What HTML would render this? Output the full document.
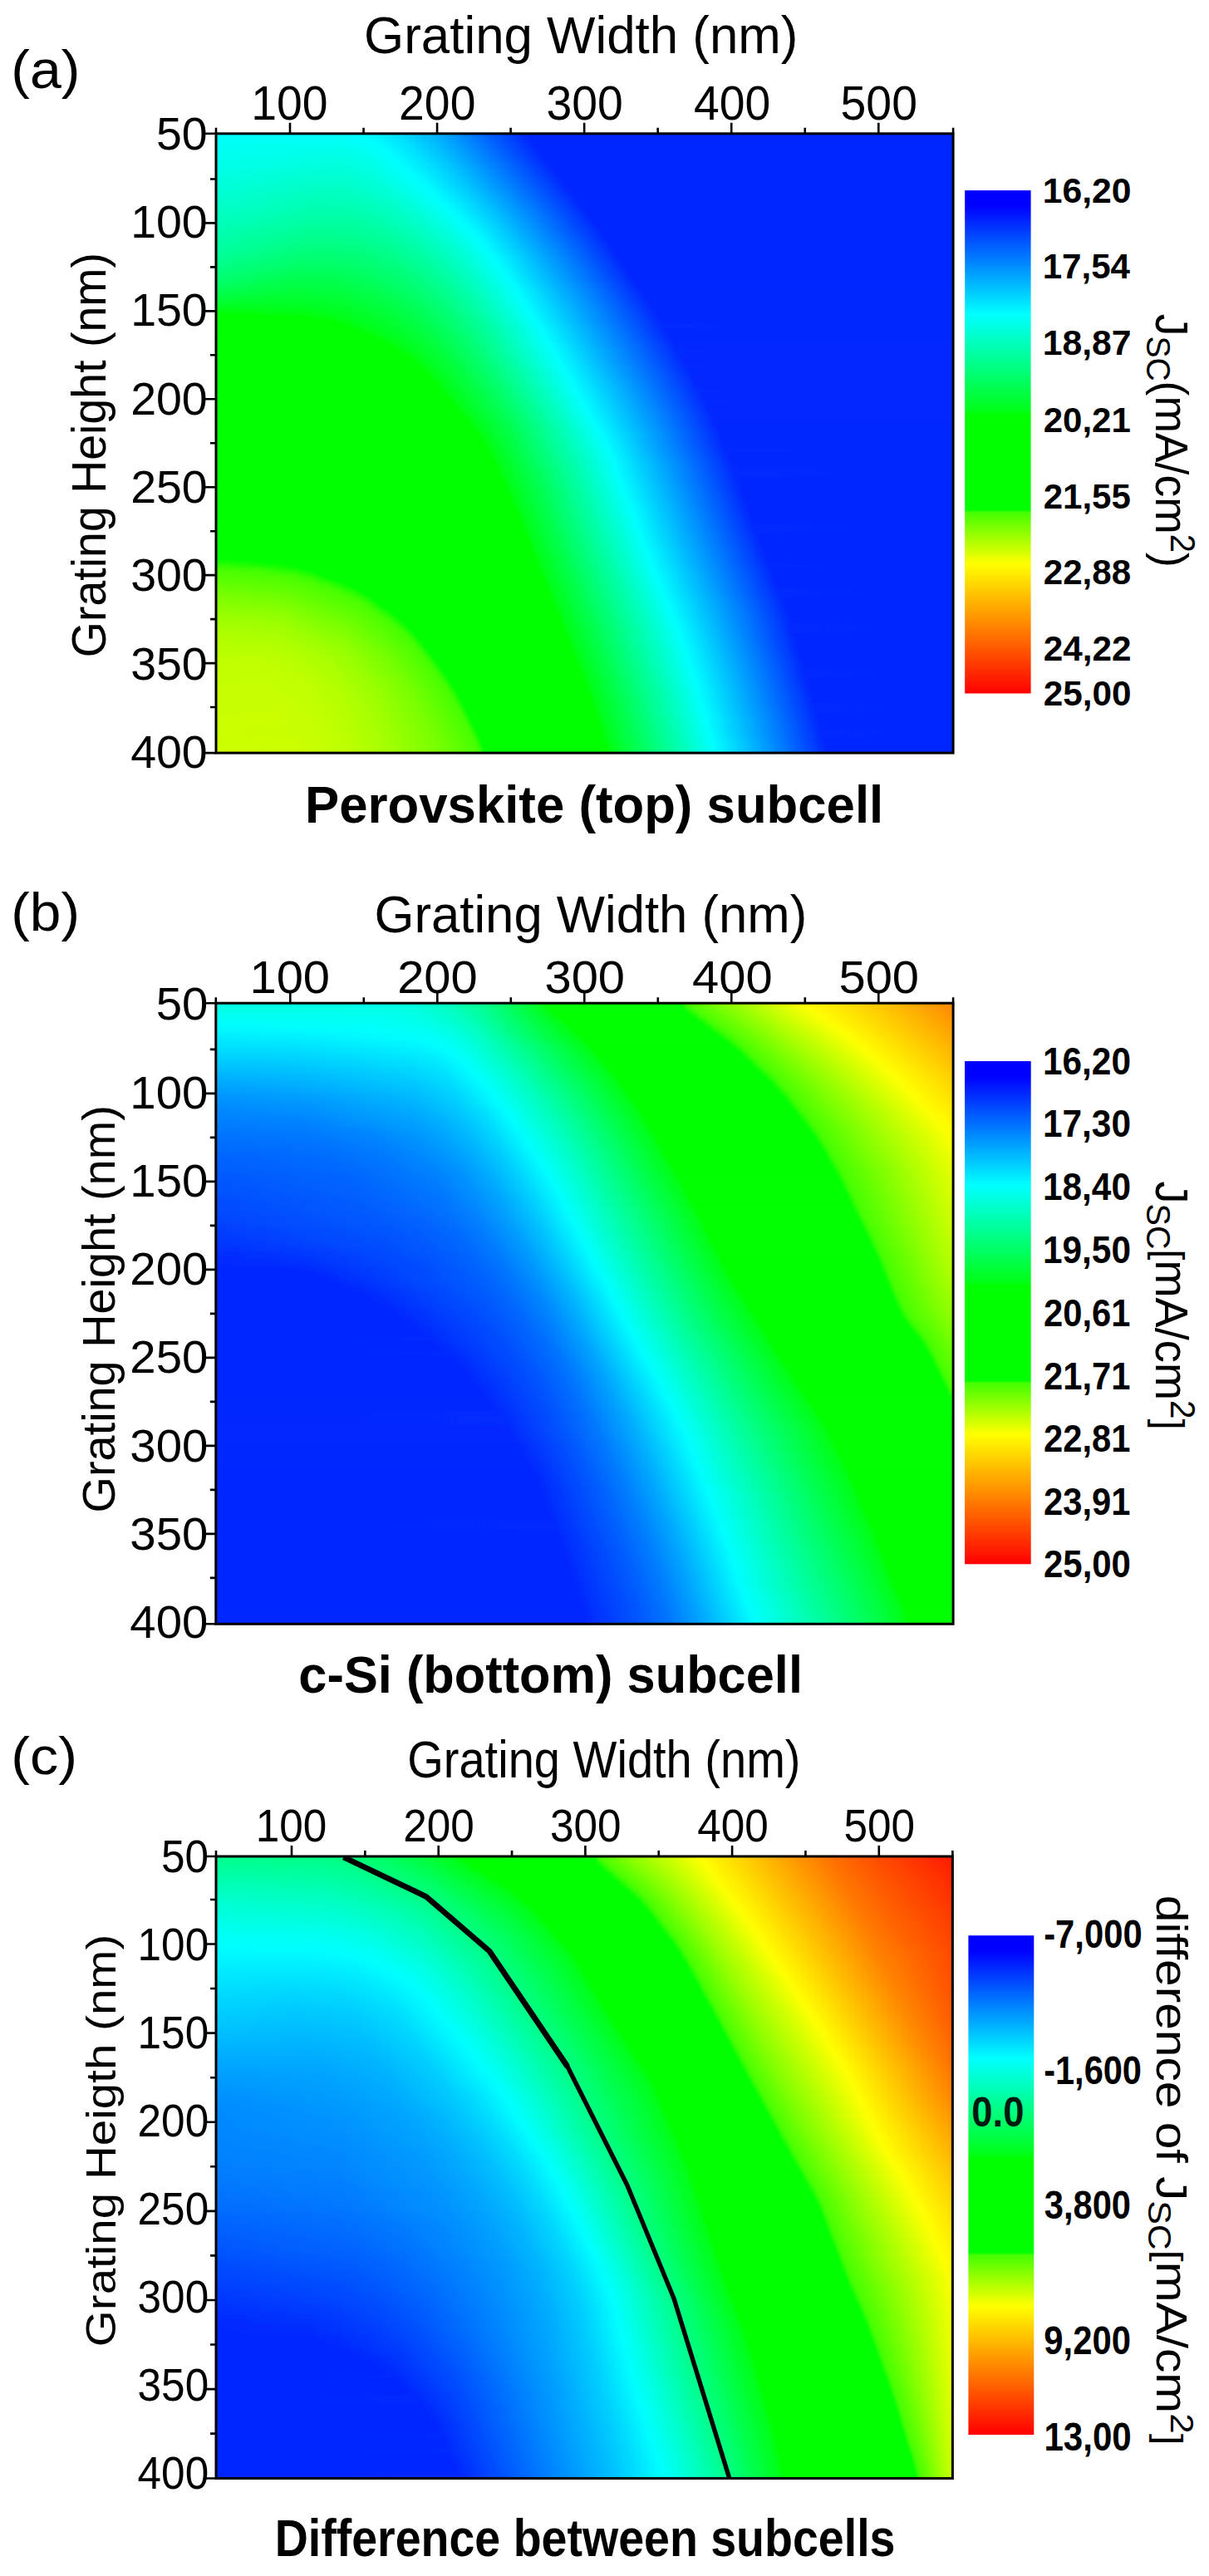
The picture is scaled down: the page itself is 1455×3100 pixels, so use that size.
<!DOCTYPE html>
<html lang="en"><head><meta charset="utf-8"><title>Grating width and height: subcell current densities</title><style>html,body{margin:0;padding:0;background:#fff}svg{display:block}</style></head><body>
<svg width="1455" height="3100" viewBox="0 0 1455 3100" font-family="'Liberation Sans', sans-serif">
<defs><linearGradient id="cb" x1="0" y1="0" x2="0" y2="1"><stop offset="0.0" stop-color="#0000ff"/><stop offset="0.03" stop-color="#0000ff"/><stop offset="0.247" stop-color="#00ffff"/><stop offset="0.44" stop-color="#00ff16"/><stop offset="0.445" stop-color="#00ff00"/><stop offset="0.635" stop-color="#00ff00"/><stop offset="0.64" stop-color="#44ff00"/><stop offset="0.742" stop-color="#ffff00"/><stop offset="1.0" stop-color="#ff0000"/></linearGradient><filter id="vb" x="-2%" y="-2%" width="104%" height="104%"><feGaussianBlur stdDeviation="0 3"/></filter></defs>
<rect width="1455" height="3100" fill="#fff"/>
<clipPath id="cpa"><rect x="260" y="160.8" width="887.1" height="745"/></clipPath>
<defs><linearGradient id="a0"><stop offset=".000" stop-color="#00fffa"/><stop offset=".185" stop-color="#00ffff"/><stop offset=".214" stop-color="#00f5ff"/><stop offset=".253" stop-color="#00daff"/><stop offset=".300" stop-color="#00afff"/><stop offset=".418" stop-color="#0028ff"/><stop offset="1" stop-color="#0028ff"/></linearGradient><linearGradient id="a1"><stop offset=".000" stop-color="#00fffa"/><stop offset=".185" stop-color="#00ffff"/><stop offset=".214" stop-color="#00f5ff"/><stop offset=".253" stop-color="#00daff"/><stop offset=".300" stop-color="#00afff"/><stop offset=".418" stop-color="#0028ff"/><stop offset="1" stop-color="#0028ff"/></linearGradient><linearGradient id="a2"><stop offset=".000" stop-color="#00fff9"/><stop offset=".156" stop-color="#00fff9"/><stop offset=".196" stop-color="#00ffff"/><stop offset=".214" stop-color="#00f8ff"/><stop offset=".253" stop-color="#00ddff"/><stop offset=".302" stop-color="#00afff"/><stop offset=".420" stop-color="#0028ff"/><stop offset="1" stop-color="#0028ff"/></linearGradient><linearGradient id="a3"><stop offset=".000" stop-color="#00fff6"/><stop offset=".160" stop-color="#00fff4"/><stop offset=".214" stop-color="#00feff"/><stop offset=".255" stop-color="#00e1ff"/><stop offset=".302" stop-color="#00b5ff"/><stop offset=".427" stop-color="#0028ff"/><stop offset="1" stop-color="#0028ff"/></linearGradient><linearGradient id="a4"><stop offset=".000" stop-color="#00fff3"/><stop offset=".165" stop-color="#00ffef"/><stop offset=".196" stop-color="#00fff4"/><stop offset=".221" stop-color="#00ffff"/><stop offset=".262" stop-color="#00e1ff"/><stop offset=".307" stop-color="#00b7ff"/><stop offset=".431" stop-color="#0028ff"/><stop offset="1" stop-color="#0028ff"/></linearGradient><linearGradient id="a5"><stop offset=".000" stop-color="#00fff1"/><stop offset=".167" stop-color="#00ffea"/><stop offset=".201" stop-color="#00fff0"/><stop offset=".230" stop-color="#00feff"/><stop offset=".273" stop-color="#00ddff"/><stop offset=".314" stop-color="#00b6ff"/><stop offset=".436" stop-color="#0028ff"/><stop offset="1" stop-color="#0028ff"/></linearGradient><linearGradient id="a6"><stop offset=".000" stop-color="#00ffee"/><stop offset=".169" stop-color="#00ffe5"/><stop offset=".203" stop-color="#00ffec"/><stop offset=".237" stop-color="#00ffff"/><stop offset=".278" stop-color="#00dfff"/><stop offset=".316" stop-color="#00baff"/><stop offset=".442" stop-color="#0028ff"/><stop offset="1" stop-color="#0028ff"/></linearGradient><linearGradient id="a7"><stop offset=".000" stop-color="#00ffeb"/><stop offset=".169" stop-color="#00ffe0"/><stop offset=".208" stop-color="#00ffe9"/><stop offset=".244" stop-color="#00ffff"/><stop offset=".282" stop-color="#00e1ff"/><stop offset=".321" stop-color="#00bcff"/><stop offset=".447" stop-color="#0028ff"/><stop offset="1" stop-color="#0028ff"/></linearGradient><linearGradient id="a8"><stop offset=".000" stop-color="#00ffe9"/><stop offset=".172" stop-color="#00ffdc"/><stop offset=".210" stop-color="#00ffe5"/><stop offset=".251" stop-color="#00fffe"/><stop offset=".284" stop-color="#00e5ff"/><stop offset=".323" stop-color="#00c0ff"/><stop offset=".454" stop-color="#0028ff"/><stop offset="1" stop-color="#0028ff"/></linearGradient><linearGradient id="a9"><stop offset=".000" stop-color="#00ffe5"/><stop offset=".133" stop-color="#00ffd7"/><stop offset=".172" stop-color="#00ffd7"/><stop offset=".212" stop-color="#00ffe1"/><stop offset=".260" stop-color="#00ffff"/><stop offset=".293" stop-color="#00e3ff"/><stop offset=".330" stop-color="#00bfff"/><stop offset=".458" stop-color="#0028ff"/><stop offset="1" stop-color="#0028ff"/></linearGradient><linearGradient id="a10"><stop offset=".000" stop-color="#00ffe2"/><stop offset=".131" stop-color="#00ffd2"/><stop offset=".172" stop-color="#00ffd2"/><stop offset=".214" stop-color="#00ffdd"/><stop offset=".266" stop-color="#00fffe"/><stop offset=".298" stop-color="#00e5ff"/><stop offset=".336" stop-color="#00beff"/><stop offset=".463" stop-color="#0028ff"/><stop offset="1" stop-color="#0028ff"/></linearGradient><linearGradient id="a11"><stop offset=".000" stop-color="#00ffde"/><stop offset=".131" stop-color="#00ffcd"/><stop offset=".174" stop-color="#00ffcd"/><stop offset=".219" stop-color="#00ffda"/><stop offset=".275" stop-color="#00ffff"/><stop offset=".341" stop-color="#00c0ff"/><stop offset=".470" stop-color="#0028ff"/><stop offset="1" stop-color="#0028ff"/></linearGradient><linearGradient id="a12"><stop offset=".000" stop-color="#00ffda"/><stop offset=".131" stop-color="#00ffc8"/><stop offset=".176" stop-color="#00ffc8"/><stop offset=".226" stop-color="#00ffd8"/><stop offset=".282" stop-color="#00ffff"/><stop offset=".345" stop-color="#00c1ff"/><stop offset=".474" stop-color="#0028ff"/><stop offset="1" stop-color="#0028ff"/></linearGradient><linearGradient id="a13"><stop offset=".000" stop-color="#00ffd6"/><stop offset=".133" stop-color="#00ffc3"/><stop offset=".178" stop-color="#00ffc3"/><stop offset=".230" stop-color="#00ffd5"/><stop offset=".289" stop-color="#00fffe"/><stop offset=".352" stop-color="#00c1ff"/><stop offset=".479" stop-color="#0028ff"/><stop offset="1" stop-color="#0028ff"/></linearGradient><linearGradient id="a14"><stop offset=".000" stop-color="#00ffd1"/><stop offset=".133" stop-color="#00ffbe"/><stop offset=".181" stop-color="#00ffbe"/><stop offset=".235" stop-color="#00ffd2"/><stop offset=".298" stop-color="#00feff"/><stop offset=".357" stop-color="#00c2ff"/><stop offset=".485" stop-color="#0028ff"/><stop offset="1" stop-color="#0028ff"/></linearGradient><linearGradient id="a15"><stop offset=".000" stop-color="#00ffcc"/><stop offset=".041" stop-color="#00ffc9"/><stop offset=".133" stop-color="#00ffb8"/><stop offset=".183" stop-color="#00ffb9"/><stop offset=".242" stop-color="#00ffcf"/><stop offset=".305" stop-color="#00ffff"/><stop offset=".363" stop-color="#00c2ff"/><stop offset=".490" stop-color="#0028ff"/><stop offset="1" stop-color="#0028ff"/></linearGradient><linearGradient id="a16"><stop offset=".000" stop-color="#00ffc8"/><stop offset=".041" stop-color="#00ffc5"/><stop offset=".133" stop-color="#00ffb3"/><stop offset=".183" stop-color="#00ffb4"/><stop offset=".214" stop-color="#00ffbd"/><stop offset=".246" stop-color="#00ffcc"/><stop offset=".278" stop-color="#00ffe2"/><stop offset=".312" stop-color="#00ffff"/><stop offset=".368" stop-color="#00c3ff"/><stop offset=".494" stop-color="#0028ff"/><stop offset="1" stop-color="#0028ff"/></linearGradient><linearGradient id="a17"><stop offset=".000" stop-color="#00ffc3"/><stop offset=".038" stop-color="#00ffc0"/><stop offset=".133" stop-color="#00ffad"/><stop offset=".185" stop-color="#00ffae"/><stop offset=".217" stop-color="#00ffb8"/><stop offset=".251" stop-color="#00ffc9"/><stop offset=".284" stop-color="#00ffe0"/><stop offset=".318" stop-color="#00ffff"/><stop offset=".368" stop-color="#00caff"/><stop offset=".501" stop-color="#0028ff"/><stop offset="1" stop-color="#0028ff"/></linearGradient><linearGradient id="a18"><stop offset=".000" stop-color="#00ffbe"/><stop offset=".038" stop-color="#00ffbb"/><stop offset=".131" stop-color="#00ffa7"/><stop offset=".187" stop-color="#00ffa9"/><stop offset=".221" stop-color="#00ffb3"/><stop offset=".255" stop-color="#00ffc5"/><stop offset=".289" stop-color="#00ffdd"/><stop offset=".325" stop-color="#00fffe"/><stop offset=".372" stop-color="#00ccff"/><stop offset=".506" stop-color="#0028ff"/><stop offset="1" stop-color="#0028ff"/></linearGradient><linearGradient id="a19"><stop offset=".000" stop-color="#00ffba"/><stop offset=".036" stop-color="#00ffb6"/><stop offset=".131" stop-color="#00ffa2"/><stop offset=".190" stop-color="#00ffa4"/><stop offset=".223" stop-color="#00ffae"/><stop offset=".260" stop-color="#00ffc2"/><stop offset=".296" stop-color="#00ffdd"/><stop offset=".332" stop-color="#00fffe"/><stop offset=".377" stop-color="#00ceff"/><stop offset=".510" stop-color="#0028ff"/><stop offset="1" stop-color="#0028ff"/></linearGradient><linearGradient id="a20"><stop offset=".000" stop-color="#00ffb5"/><stop offset=".036" stop-color="#00ffb1"/><stop offset=".129" stop-color="#00ff9c"/><stop offset=".190" stop-color="#00ff9e"/><stop offset=".226" stop-color="#00ffa9"/><stop offset=".262" stop-color="#00ffbd"/><stop offset=".300" stop-color="#00ffda"/><stop offset=".339" stop-color="#00fffe"/><stop offset=".375" stop-color="#00d7ff"/><stop offset=".479" stop-color="#0054ff"/><stop offset=".517" stop-color="#0028ff"/><stop offset="1" stop-color="#0028ff"/></linearGradient><linearGradient id="a21"><stop offset=".000" stop-color="#00ffb1"/><stop offset=".129" stop-color="#00ff95"/><stop offset=".192" stop-color="#00ff98"/><stop offset=".228" stop-color="#00ffa4"/><stop offset=".266" stop-color="#00ffb9"/><stop offset=".305" stop-color="#00ffd7"/><stop offset=".345" stop-color="#00ffff"/><stop offset=".377" stop-color="#00dbff"/><stop offset=".476" stop-color="#005dff"/><stop offset=".521" stop-color="#0028ff"/><stop offset="1" stop-color="#0028ff"/></linearGradient><linearGradient id="a22"><stop offset=".000" stop-color="#00ffac"/><stop offset=".126" stop-color="#00ff8f"/><stop offset=".160" stop-color="#00ff8d"/><stop offset=".194" stop-color="#00ff92"/><stop offset=".233" stop-color="#00ffa0"/><stop offset=".271" stop-color="#00ffb6"/><stop offset=".312" stop-color="#00ffd6"/><stop offset=".352" stop-color="#00ffff"/><stop offset=".526" stop-color="#0028ff"/><stop offset="1" stop-color="#0028ff"/></linearGradient><linearGradient id="a23"><stop offset=".000" stop-color="#00ffa7"/><stop offset=".124" stop-color="#00ff89"/><stop offset=".160" stop-color="#00ff87"/><stop offset=".194" stop-color="#00ff8c"/><stop offset=".233" stop-color="#00ff99"/><stop offset=".273" stop-color="#00ffb1"/><stop offset=".314" stop-color="#00ffd2"/><stop offset=".359" stop-color="#00feff"/><stop offset=".530" stop-color="#0028ff"/><stop offset="1" stop-color="#0028ff"/></linearGradient><linearGradient id="a24"><stop offset=".000" stop-color="#00ffa2"/><stop offset=".122" stop-color="#00ff82"/><stop offset=".160" stop-color="#00ff80"/><stop offset=".196" stop-color="#00ff86"/><stop offset=".237" stop-color="#00ff95"/><stop offset=".278" stop-color="#00ffae"/><stop offset=".321" stop-color="#00ffd1"/><stop offset=".363" stop-color="#00fffe"/><stop offset=".535" stop-color="#0028ff"/><stop offset="1" stop-color="#0028ff"/></linearGradient><linearGradient id="a25"><stop offset=".000" stop-color="#00ff9c"/><stop offset=".120" stop-color="#00ff7b"/><stop offset=".158" stop-color="#00ff79"/><stop offset=".196" stop-color="#00ff7f"/><stop offset=".237" stop-color="#00ff8e"/><stop offset=".280" stop-color="#00ffa9"/><stop offset=".325" stop-color="#00ffcf"/><stop offset=".368" stop-color="#00fffd"/><stop offset=".540" stop-color="#0028ff"/><stop offset="1" stop-color="#0028ff"/></linearGradient><linearGradient id="a26"><stop offset=".000" stop-color="#00ff96"/><stop offset=".120" stop-color="#00ff74"/><stop offset=".160" stop-color="#00ff72"/><stop offset=".199" stop-color="#00ff79"/><stop offset=".242" stop-color="#00ff8a"/><stop offset=".287" stop-color="#00ffa7"/><stop offset=".332" stop-color="#00ffcf"/><stop offset=".375" stop-color="#00ffff"/><stop offset=".544" stop-color="#0028ff"/><stop offset="1" stop-color="#0028ff"/></linearGradient><linearGradient id="a27"><stop offset=".000" stop-color="#00ff8f"/><stop offset=".117" stop-color="#00ff6c"/><stop offset=".160" stop-color="#00ff6b"/><stop offset=".201" stop-color="#00ff73"/><stop offset=".246" stop-color="#00ff86"/><stop offset=".289" stop-color="#00ffa2"/><stop offset=".334" stop-color="#00ffcb"/><stop offset=".379" stop-color="#00ffff"/><stop offset=".549" stop-color="#0028ff"/><stop offset="1" stop-color="#0028ff"/></linearGradient><linearGradient id="a28"><stop offset=".000" stop-color="#00ff87"/><stop offset=".115" stop-color="#00ff65"/><stop offset=".158" stop-color="#00ff64"/><stop offset=".201" stop-color="#00ff6c"/><stop offset=".246" stop-color="#00ff7f"/><stop offset=".291" stop-color="#00ff9e"/><stop offset=".339" stop-color="#00ffc9"/><stop offset=".384" stop-color="#00fffe"/><stop offset=".553" stop-color="#0028ff"/><stop offset="1" stop-color="#0028ff"/></linearGradient><linearGradient id="a29"><stop offset=".000" stop-color="#00ff7f"/><stop offset=".077" stop-color="#00ff65"/><stop offset=".113" stop-color="#00ff5d"/><stop offset=".158" stop-color="#00ff5c"/><stop offset=".203" stop-color="#00ff66"/><stop offset=".251" stop-color="#00ff7b"/><stop offset=".296" stop-color="#00ff9b"/><stop offset=".341" stop-color="#00ffc5"/><stop offset=".388" stop-color="#00fffe"/><stop offset=".558" stop-color="#0028ff"/><stop offset="1" stop-color="#0028ff"/></linearGradient><linearGradient id="a30"><stop offset=".000" stop-color="#00ff76"/><stop offset=".072" stop-color="#00ff5d"/><stop offset=".113" stop-color="#00ff54"/><stop offset=".158" stop-color="#00ff55"/><stop offset=".205" stop-color="#00ff60"/><stop offset=".253" stop-color="#00ff76"/><stop offset=".298" stop-color="#00ff96"/><stop offset=".343" stop-color="#00ffc2"/><stop offset=".393" stop-color="#00fffe"/><stop offset=".562" stop-color="#0028ff"/><stop offset="1" stop-color="#0028ff"/></linearGradient><linearGradient id="a31"><stop offset=".000" stop-color="#00ff6c"/><stop offset=".068" stop-color="#00ff54"/><stop offset=".113" stop-color="#00ff4c"/><stop offset=".160" stop-color="#00ff4d"/><stop offset=".208" stop-color="#00ff5a"/><stop offset=".255" stop-color="#00ff71"/><stop offset=".302" stop-color="#00ff93"/><stop offset=".348" stop-color="#00ffc1"/><stop offset=".397" stop-color="#00fffe"/><stop offset=".567" stop-color="#0028ff"/><stop offset="1" stop-color="#0028ff"/></linearGradient><linearGradient id="a32"><stop offset=".000" stop-color="#00ff61"/><stop offset=".063" stop-color="#00ff4b"/><stop offset=".113" stop-color="#00ff43"/><stop offset=".163" stop-color="#00ff46"/><stop offset=".212" stop-color="#00ff54"/><stop offset=".260" stop-color="#00ff6d"/><stop offset=".305" stop-color="#00ff8f"/><stop offset=".348" stop-color="#00ffba"/><stop offset=".404" stop-color="#00fdff"/><stop offset=".571" stop-color="#0028ff"/><stop offset="1" stop-color="#0028ff"/></linearGradient><linearGradient id="a33"><stop offset=".000" stop-color="#00ff53"/><stop offset=".063" stop-color="#00ff40"/><stop offset=".115" stop-color="#00ff3a"/><stop offset=".165" stop-color="#00ff3f"/><stop offset=".217" stop-color="#00ff4f"/><stop offset=".262" stop-color="#00ff67"/><stop offset=".307" stop-color="#00ff8b"/><stop offset=".350" stop-color="#00ffb7"/><stop offset=".409" stop-color="#00fdff"/><stop offset=".576" stop-color="#0028ff"/><stop offset="1" stop-color="#0028ff"/></linearGradient><linearGradient id="a34"><stop offset=".000" stop-color="#00ff43"/><stop offset=".065" stop-color="#00ff35"/><stop offset=".120" stop-color="#00ff31"/><stop offset=".172" stop-color="#00ff39"/><stop offset=".223" stop-color="#00ff4b"/><stop offset=".269" stop-color="#00ff65"/><stop offset=".314" stop-color="#00ff8b"/><stop offset=".359" stop-color="#00ffbb"/><stop offset=".411" stop-color="#00ffff"/><stop offset=".580" stop-color="#0028ff"/><stop offset="1" stop-color="#0028ff"/></linearGradient><linearGradient id="a35"><stop offset=".000" stop-color="#00ff33"/><stop offset=".074" stop-color="#00ff29"/><stop offset=".126" stop-color="#00ff29"/><stop offset=".178" stop-color="#00ff34"/><stop offset=".230" stop-color="#00ff48"/><stop offset=".275" stop-color="#00ff64"/><stop offset=".318" stop-color="#00ff89"/><stop offset=".361" stop-color="#00ffb8"/><stop offset=".415" stop-color="#00ffff"/><stop offset=".585" stop-color="#0028ff"/><stop offset="1" stop-color="#0028ff"/></linearGradient><linearGradient id="a36"><stop offset=".000" stop-color="#00ff22"/><stop offset=".133" stop-color="#00ff22"/><stop offset=".185" stop-color="#00ff2e"/><stop offset=".237" stop-color="#00ff45"/><stop offset=".280" stop-color="#00ff60"/><stop offset=".323" stop-color="#00ff87"/><stop offset=".366" stop-color="#00ffb8"/><stop offset=".420" stop-color="#00ffff"/><stop offset=".589" stop-color="#0028ff"/><stop offset="1" stop-color="#0028ff"/></linearGradient><linearGradient id="a37"><stop offset=".000" stop-color="#00ff09"/><stop offset=".149" stop-color="#00ff1d"/><stop offset=".201" stop-color="#00ff2d"/><stop offset=".246" stop-color="#00ff43"/><stop offset=".287" stop-color="#00ff5f"/><stop offset=".327" stop-color="#00ff85"/><stop offset=".368" stop-color="#00ffb4"/><stop offset=".424" stop-color="#00feff"/><stop offset=".594" stop-color="#0028ff"/><stop offset="1" stop-color="#0028ff"/></linearGradient><linearGradient id="a38"><stop offset=".000" stop-color="#00ff00"/><stop offset=".124" stop-color="#00ff00"/><stop offset=".153" stop-color="#00ff16"/><stop offset=".205" stop-color="#00ff28"/><stop offset=".248" stop-color="#00ff3d"/><stop offset=".289" stop-color="#00ff5a"/><stop offset=".330" stop-color="#00ff81"/><stop offset=".368" stop-color="#00ffae"/><stop offset=".429" stop-color="#00feff"/><stop offset=".598" stop-color="#0028ff"/><stop offset="1" stop-color="#0028ff"/></linearGradient><linearGradient id="a39"><stop offset=".000" stop-color="#00ff00"/><stop offset=".158" stop-color="#00ff00"/><stop offset=".176" stop-color="#00ff16"/><stop offset=".246" stop-color="#00ff35"/><stop offset=".302" stop-color="#00ff60"/><stop offset=".357" stop-color="#00ff9a"/><stop offset=".433" stop-color="#00feff"/><stop offset=".512" stop-color="#0097ff"/><stop offset=".603" stop-color="#0028ff"/><stop offset="1" stop-color="#0028ff"/></linearGradient><linearGradient id="a40"><stop offset=".000" stop-color="#00ff00"/><stop offset=".178" stop-color="#00ff00"/><stop offset=".194" stop-color="#00ff16"/><stop offset=".257" stop-color="#00ff36"/><stop offset=".312" stop-color="#00ff62"/><stop offset=".361" stop-color="#00ff9a"/><stop offset=".438" stop-color="#00fdff"/><stop offset=".605" stop-color="#0029ff"/><stop offset="1" stop-color="#0028ff"/></linearGradient><linearGradient id="a41"><stop offset=".000" stop-color="#00ff00"/><stop offset=".196" stop-color="#00ff01"/><stop offset=".210" stop-color="#00ff16"/><stop offset=".266" stop-color="#00ff35"/><stop offset=".318" stop-color="#00ff62"/><stop offset=".366" stop-color="#00ff99"/><stop offset=".442" stop-color="#00fdff"/><stop offset=".609" stop-color="#0028ff"/><stop offset="1" stop-color="#0028ff"/></linearGradient><linearGradient id="a42"><stop offset=".000" stop-color="#00ff00"/><stop offset=".212" stop-color="#00ff01"/><stop offset=".226" stop-color="#00ff17"/><stop offset=".278" stop-color="#00ff37"/><stop offset=".327" stop-color="#00ff66"/><stop offset=".375" stop-color="#00ff9e"/><stop offset=".445" stop-color="#00ffff"/><stop offset=".614" stop-color="#0028ff"/><stop offset="1" stop-color="#0028ff"/></linearGradient><linearGradient id="a43"><stop offset=".000" stop-color="#00ff00"/><stop offset=".226" stop-color="#00ff00"/><stop offset=".237" stop-color="#00ff15"/><stop offset=".287" stop-color="#00ff38"/><stop offset=".336" stop-color="#00ff69"/><stop offset=".381" stop-color="#00ffa1"/><stop offset=".449" stop-color="#00ffff"/><stop offset=".519" stop-color="#00a3ff"/><stop offset=".619" stop-color="#0028ff"/><stop offset="1" stop-color="#0028ff"/></linearGradient><linearGradient id="a44"><stop offset=".000" stop-color="#00ff00"/><stop offset=".237" stop-color="#00ff00"/><stop offset=".251" stop-color="#00ff17"/><stop offset=".296" stop-color="#00ff39"/><stop offset=".343" stop-color="#00ff6b"/><stop offset=".384" stop-color="#00ff9e"/><stop offset=".454" stop-color="#00feff"/><stop offset=".524" stop-color="#00a2ff"/><stop offset=".623" stop-color="#0028ff"/><stop offset="1" stop-color="#0028ff"/></linearGradient><linearGradient id="a45"><stop offset=".000" stop-color="#00ff00"/><stop offset=".248" stop-color="#00ff00"/><stop offset=".260" stop-color="#00ff16"/><stop offset=".302" stop-color="#00ff39"/><stop offset=".352" stop-color="#00ff70"/><stop offset=".458" stop-color="#00feff"/><stop offset=".625" stop-color="#0029ff"/><stop offset="1" stop-color="#0028ff"/></linearGradient><linearGradient id="a46"><stop offset=".000" stop-color="#00ff00"/><stop offset=".260" stop-color="#00ff00"/><stop offset=".269" stop-color="#00ff16"/><stop offset=".312" stop-color="#00ff3c"/><stop offset=".361" stop-color="#00ff75"/><stop offset=".463" stop-color="#00fdff"/><stop offset=".521" stop-color="#00afff"/><stop offset=".630" stop-color="#0028ff"/><stop offset="1" stop-color="#0028ff"/></linearGradient><linearGradient id="a47"><stop offset=".000" stop-color="#00ff00"/><stop offset=".269" stop-color="#00ff00"/><stop offset=".278" stop-color="#00ff17"/><stop offset=".316" stop-color="#00ff3a"/><stop offset=".357" stop-color="#00ff69"/><stop offset=".465" stop-color="#00ffff"/><stop offset=".526" stop-color="#00aeff"/><stop offset=".634" stop-color="#0028ff"/><stop offset="1" stop-color="#0028ff"/></linearGradient><linearGradient id="a48"><stop offset=".000" stop-color="#00ff00"/><stop offset=".275" stop-color="#00ff00"/><stop offset=".284" stop-color="#00ff16"/><stop offset=".323" stop-color="#00ff3c"/><stop offset=".363" stop-color="#00ff6b"/><stop offset=".470" stop-color="#00feff"/><stop offset=".524" stop-color="#00b6ff"/><stop offset=".637" stop-color="#0029ff"/><stop offset="1" stop-color="#0028ff"/></linearGradient><linearGradient id="a49"><stop offset=".000" stop-color="#00ff00"/><stop offset=".282" stop-color="#00ff00"/><stop offset=".284" stop-color="#00ff02"/><stop offset=".291" stop-color="#00ff16"/><stop offset=".327" stop-color="#00ff3b"/><stop offset=".368" stop-color="#00ff6b"/><stop offset=".474" stop-color="#00fdff"/><stop offset=".641" stop-color="#0028ff"/><stop offset="1" stop-color="#0028ff"/></linearGradient><linearGradient id="a50"><stop offset=".000" stop-color="#00ff00"/><stop offset=".289" stop-color="#00ff00"/><stop offset=".298" stop-color="#00ff17"/><stop offset=".334" stop-color="#00ff3c"/><stop offset=".372" stop-color="#00ff6a"/><stop offset=".479" stop-color="#00fcff"/><stop offset=".530" stop-color="#00b7ff"/><stop offset=".646" stop-color="#0028ff"/><stop offset="1" stop-color="#0028ff"/></linearGradient><linearGradient id="a51"><stop offset=".000" stop-color="#00ff00"/><stop offset=".296" stop-color="#00ff00"/><stop offset=".305" stop-color="#00ff18"/><stop offset=".343" stop-color="#00ff41"/><stop offset=".379" stop-color="#00ff6d"/><stop offset=".481" stop-color="#00feff"/><stop offset=".648" stop-color="#0028ff"/><stop offset="1" stop-color="#0028ff"/></linearGradient><linearGradient id="a52"><stop offset=".000" stop-color="#00ff00"/><stop offset=".302" stop-color="#00ff01"/><stop offset=".309" stop-color="#00ff17"/><stop offset=".379" stop-color="#00ff67"/><stop offset=".485" stop-color="#00fdff"/><stop offset=".652" stop-color="#0028ff"/><stop offset="1" stop-color="#0028ff"/></linearGradient><linearGradient id="a53"><stop offset=".000" stop-color="#00ff00"/><stop offset=".307" stop-color="#00ff00"/><stop offset=".314" stop-color="#00ff15"/><stop offset=".352" stop-color="#00ff3f"/><stop offset=".386" stop-color="#00ff6a"/><stop offset=".488" stop-color="#00ffff"/><stop offset=".655" stop-color="#0029ff"/><stop offset="1" stop-color="#0028ff"/></linearGradient><linearGradient id="a54"><stop offset=".000" stop-color="#00ff00"/><stop offset=".312" stop-color="#00ff00"/><stop offset=".314" stop-color="#00ff02"/><stop offset=".321" stop-color="#00ff17"/><stop offset=".354" stop-color="#00ff3c"/><stop offset=".388" stop-color="#00ff67"/><stop offset=".492" stop-color="#00feff"/><stop offset=".659" stop-color="#0028ff"/><stop offset="1" stop-color="#0028ff"/></linearGradient><linearGradient id="a55"><stop offset=".000" stop-color="#00ff00"/><stop offset=".318" stop-color="#00ff00"/><stop offset=".325" stop-color="#00ff16"/><stop offset=".388" stop-color="#00ff60"/><stop offset=".497" stop-color="#00fdff"/><stop offset=".661" stop-color="#0029ff"/><stop offset="1" stop-color="#0028ff"/></linearGradient><linearGradient id="a56"><stop offset=".000" stop-color="#00ff00"/><stop offset=".323" stop-color="#00ff00"/><stop offset=".325" stop-color="#00ff02"/><stop offset=".332" stop-color="#00ff17"/><stop offset=".393" stop-color="#00ff60"/><stop offset=".499" stop-color="#00ffff"/><stop offset=".666" stop-color="#0028ff"/><stop offset="1" stop-color="#0028ff"/></linearGradient><linearGradient id="a57"><stop offset=".000" stop-color="#00ff00"/><stop offset=".330" stop-color="#00ff00"/><stop offset=".336" stop-color="#00ff16"/><stop offset=".395" stop-color="#00ff5d"/><stop offset=".503" stop-color="#00feff"/><stop offset=".668" stop-color="#0029ff"/><stop offset="1" stop-color="#0028ff"/></linearGradient><linearGradient id="a58"><stop offset=".000" stop-color="#00ff00"/><stop offset=".334" stop-color="#00ff00"/><stop offset=".336" stop-color="#00ff01"/><stop offset=".343" stop-color="#00ff17"/><stop offset=".395" stop-color="#00ff57"/><stop offset=".508" stop-color="#00fdff"/><stop offset=".673" stop-color="#0028ff"/><stop offset="1" stop-color="#0028ff"/></linearGradient><linearGradient id="a59"><stop offset=".000" stop-color="#00ff00"/><stop offset=".341" stop-color="#00ff00"/><stop offset=".348" stop-color="#00ff16"/><stop offset=".400" stop-color="#00ff58"/><stop offset=".510" stop-color="#00fffe"/><stop offset=".675" stop-color="#0028ff"/><stop offset="1" stop-color="#0028ff"/></linearGradient><linearGradient id="a60"><stop offset=".000" stop-color="#00ff00"/><stop offset=".345" stop-color="#00ff00"/><stop offset=".348" stop-color="#00ff02"/><stop offset=".352" stop-color="#00ff13"/><stop offset=".354" stop-color="#00ff18"/><stop offset=".402" stop-color="#00ff55"/><stop offset=".515" stop-color="#00ffff"/><stop offset=".677" stop-color="#0028ff"/><stop offset="1" stop-color="#0028ff"/></linearGradient><linearGradient id="a61"><stop offset=".000" stop-color="#00ff00"/><stop offset=".352" stop-color="#00ff00"/><stop offset=".359" stop-color="#00ff17"/><stop offset=".402" stop-color="#00ff4f"/><stop offset=".519" stop-color="#00feff"/><stop offset=".682" stop-color="#0028ff"/><stop offset="1" stop-color="#0028ff"/></linearGradient><linearGradient id="a62"><stop offset=".000" stop-color="#00ff00"/><stop offset=".357" stop-color="#00ff00"/><stop offset=".363" stop-color="#00ff17"/><stop offset=".402" stop-color="#00ff4a"/><stop offset=".490" stop-color="#00ffd0"/><stop offset=".524" stop-color="#00feff"/><stop offset=".684" stop-color="#0028ff"/><stop offset="1" stop-color="#0028ff"/></linearGradient><linearGradient id="a63"><stop offset=".000" stop-color="#00ff00"/><stop offset=".361" stop-color="#00ff00"/><stop offset=".363" stop-color="#00ff05"/><stop offset=".368" stop-color="#00ff17"/><stop offset=".406" stop-color="#00ff4b"/><stop offset=".503" stop-color="#00ffde"/><stop offset=".528" stop-color="#00fcff"/><stop offset=".589" stop-color="#00a7ff"/><stop offset=".686" stop-color="#0028ff"/><stop offset="1" stop-color="#0028ff"/></linearGradient><linearGradient id="a64"><stop offset=".000" stop-color="#00ff00"/><stop offset=".366" stop-color="#00ff00"/><stop offset=".372" stop-color="#00ff17"/><stop offset=".530" stop-color="#00feff"/><stop offset=".587" stop-color="#00aeff"/><stop offset=".688" stop-color="#0028ff"/><stop offset="1" stop-color="#0028ff"/></linearGradient><linearGradient id="a65"><stop offset=".000" stop-color="#00ff00"/><stop offset=".370" stop-color="#00ff00"/><stop offset=".377" stop-color="#00ff18"/><stop offset=".533" stop-color="#00ffff"/><stop offset=".589" stop-color="#00afff"/><stop offset=".691" stop-color="#0029ff"/><stop offset="1" stop-color="#0028ff"/></linearGradient><linearGradient id="a66"><stop offset=".000" stop-color="#00ff00"/><stop offset=".372" stop-color="#00ff00"/><stop offset=".375" stop-color="#00ff03"/><stop offset=".379" stop-color="#00ff17"/><stop offset=".535" stop-color="#00ffff"/><stop offset=".600" stop-color="#00a4ff"/><stop offset=".695" stop-color="#0028ff"/><stop offset="1" stop-color="#0028ff"/></linearGradient><linearGradient id="a67"><stop offset=".000" stop-color="#00ff00"/><stop offset=".377" stop-color="#00ff00"/><stop offset=".381" stop-color="#00ff14"/><stop offset=".384" stop-color="#00ff19"/><stop offset=".540" stop-color="#00fcff"/><stop offset=".698" stop-color="#0028ff"/><stop offset="1" stop-color="#0028ff"/></linearGradient><linearGradient id="a68"><stop offset=".000" stop-color="#00ff00"/><stop offset=".379" stop-color="#00ff00"/><stop offset=".386" stop-color="#00ff18"/><stop offset=".542" stop-color="#00fdff"/><stop offset=".700" stop-color="#0028ff"/><stop offset="1" stop-color="#0028ff"/></linearGradient><linearGradient id="a69"><stop offset=".000" stop-color="#00ff00"/><stop offset=".381" stop-color="#00ff00"/><stop offset=".384" stop-color="#00ff03"/><stop offset=".388" stop-color="#00ff17"/><stop offset=".436" stop-color="#00ff5a"/><stop offset=".542" stop-color="#00fffe"/><stop offset=".702" stop-color="#0029ff"/><stop offset="1" stop-color="#0028ff"/></linearGradient><linearGradient id="a70"><stop offset=".000" stop-color="#00ff00"/><stop offset=".386" stop-color="#00ff00"/><stop offset=".391" stop-color="#00ff15"/><stop offset=".393" stop-color="#00ff19"/><stop offset=".440" stop-color="#00ff5c"/><stop offset=".544" stop-color="#00fffd"/><stop offset=".704" stop-color="#0029ff"/><stop offset="1" stop-color="#0028ff"/></linearGradient><linearGradient id="a71"><stop offset=".000" stop-color="#00ff00"/><stop offset=".388" stop-color="#00ff00"/><stop offset=".395" stop-color="#00ff18"/><stop offset=".440" stop-color="#00ff58"/><stop offset=".549" stop-color="#00ffff"/><stop offset=".625" stop-color="#0095ff"/><stop offset=".709" stop-color="#0028ff"/><stop offset="1" stop-color="#0028ff"/></linearGradient><linearGradient id="a72"><stop offset=".000" stop-color="#00ff00"/><stop offset=".391" stop-color="#00ff00"/><stop offset=".393" stop-color="#00ff02"/><stop offset=".397" stop-color="#00ff16"/><stop offset=".442" stop-color="#00ff57"/><stop offset=".551" stop-color="#00ffff"/><stop offset=".711" stop-color="#0028ff"/><stop offset="1" stop-color="#0028ff"/></linearGradient><linearGradient id="a73"><stop offset=".000" stop-color="#00ff00"/><stop offset=".395" stop-color="#00ff00"/><stop offset=".400" stop-color="#00ff13"/><stop offset=".402" stop-color="#00ff18"/><stop offset=".447" stop-color="#00ff59"/><stop offset=".553" stop-color="#00fffe"/><stop offset=".713" stop-color="#0028ff"/><stop offset="1" stop-color="#0028ff"/></linearGradient><linearGradient id="a74"><stop offset=".000" stop-color="#00ff00"/><stop offset=".397" stop-color="#00ff00"/><stop offset=".400" stop-color="#00ff05"/><stop offset=".404" stop-color="#00ff17"/><stop offset=".449" stop-color="#00ff59"/><stop offset=".555" stop-color="#00fffd"/><stop offset=".716" stop-color="#0028ff"/><stop offset="1" stop-color="#0028ff"/></linearGradient><linearGradient id="a75"><stop offset=".000" stop-color="#00ff00"/><stop offset=".402" stop-color="#00ff01"/><stop offset=".406" stop-color="#00ff16"/><stop offset=".558" stop-color="#00fffc"/><stop offset=".718" stop-color="#0028ff"/><stop offset="1" stop-color="#0028ff"/></linearGradient><linearGradient id="a76"><stop offset=".000" stop-color="#00ff00"/><stop offset=".404" stop-color="#00ff00"/><stop offset=".409" stop-color="#00ff14"/><stop offset=".411" stop-color="#00ff19"/><stop offset=".562" stop-color="#00ffff"/><stop offset=".720" stop-color="#0028ff"/><stop offset="1" stop-color="#0028ff"/></linearGradient><linearGradient id="a77"><stop offset=".000" stop-color="#00ff00"/><stop offset=".406" stop-color="#00ff00"/><stop offset=".413" stop-color="#00ff18"/><stop offset=".564" stop-color="#00ffff"/><stop offset=".722" stop-color="#0028ff"/><stop offset="1" stop-color="#0028ff"/></linearGradient><linearGradient id="a78"><stop offset=".000" stop-color="#00ff00"/><stop offset=".409" stop-color="#00ff00"/><stop offset=".411" stop-color="#00ff04"/><stop offset=".415" stop-color="#00ff17"/><stop offset=".567" stop-color="#00fffe"/><stop offset=".725" stop-color="#0028ff"/><stop offset="1" stop-color="#0028ff"/></linearGradient><linearGradient id="a79"><stop offset=".000" stop-color="#00ff00"/><stop offset=".411" stop-color="#00ff00"/><stop offset=".413" stop-color="#00ff02"/><stop offset=".418" stop-color="#00ff17"/><stop offset=".569" stop-color="#00fffe"/><stop offset=".727" stop-color="#0028ff"/><stop offset="1" stop-color="#0028ff"/></linearGradient><linearGradient id="a80"><stop offset=".000" stop-color="#00ff00"/><stop offset=".415" stop-color="#00ff00"/><stop offset=".420" stop-color="#00ff16"/><stop offset=".571" stop-color="#00fffe"/><stop offset=".729" stop-color="#0029ff"/><stop offset="1" stop-color="#0028ff"/></linearGradient><linearGradient id="a81"><stop offset=".000" stop-color="#00ff00"/><stop offset=".418" stop-color="#00ff00"/><stop offset=".422" stop-color="#00ff15"/><stop offset=".424" stop-color="#00ff19"/><stop offset=".573" stop-color="#00fffd"/><stop offset=".731" stop-color="#0029ff"/><stop offset="1" stop-color="#0028ff"/></linearGradient><linearGradient id="a82"><stop offset=".000" stop-color="#00ff00"/><stop offset=".420" stop-color="#00ff00"/><stop offset=".427" stop-color="#00ff18"/><stop offset=".576" stop-color="#00fffd"/><stop offset=".736" stop-color="#0028ff"/><stop offset="1" stop-color="#0028ff"/></linearGradient><linearGradient id="a83"><stop offset=".000" stop-color="#00ff00"/><stop offset=".422" stop-color="#00ff00"/><stop offset=".429" stop-color="#00ff18"/><stop offset=".578" stop-color="#00fffd"/><stop offset=".738" stop-color="#0028ff"/><stop offset="1" stop-color="#0028ff"/></linearGradient><linearGradient id="a84"><stop offset=".000" stop-color="#00ff00"/><stop offset=".424" stop-color="#00ff00"/><stop offset=".427" stop-color="#00ff03"/><stop offset=".431" stop-color="#00ff17"/><stop offset=".580" stop-color="#00fffc"/><stop offset=".740" stop-color="#0028ff"/><stop offset="1" stop-color="#0028ff"/></linearGradient><linearGradient id="a85"><stop offset=".000" stop-color="#00ff00"/><stop offset=".429" stop-color="#00ff01"/><stop offset=".433" stop-color="#00ff16"/><stop offset=".585" stop-color="#00ffff"/><stop offset=".743" stop-color="#0028ff"/><stop offset="1" stop-color="#0028ff"/></linearGradient><linearGradient id="a86"><stop offset=".000" stop-color="#00ff00"/><stop offset=".431" stop-color="#00ff00"/><stop offset=".436" stop-color="#00ff15"/><stop offset=".587" stop-color="#00ffff"/><stop offset=".745" stop-color="#0028ff"/><stop offset="1" stop-color="#0028ff"/></linearGradient><linearGradient id="a87"><stop offset=".000" stop-color="#00ff00"/><stop offset=".433" stop-color="#00ff00"/><stop offset=".440" stop-color="#00ff18"/><stop offset=".589" stop-color="#00fffe"/><stop offset=".747" stop-color="#0028ff"/><stop offset="1" stop-color="#0028ff"/></linearGradient><linearGradient id="a88"><stop offset=".000" stop-color="#2eff00"/><stop offset=".041" stop-color="#18ff00"/><stop offset=".068" stop-color="#00ff00"/><stop offset=".436" stop-color="#00ff00"/><stop offset=".442" stop-color="#00ff18"/><stop offset=".591" stop-color="#00fffe"/><stop offset=".749" stop-color="#0029ff"/><stop offset="1" stop-color="#0028ff"/></linearGradient><linearGradient id="a89"><stop offset=".000" stop-color="#4aff00"/><stop offset=".061" stop-color="#44ff00"/><stop offset=".095" stop-color="#1dff00"/><stop offset=".115" stop-color="#00ff00"/><stop offset=".438" stop-color="#00ff00"/><stop offset=".440" stop-color="#00ff03"/><stop offset=".445" stop-color="#00ff17"/><stop offset=".594" stop-color="#00fffd"/><stop offset=".754" stop-color="#0028ff"/><stop offset="1" stop-color="#0028ff"/></linearGradient><linearGradient id="a90"><stop offset=".000" stop-color="#53ff00"/><stop offset=".108" stop-color="#44ff00"/><stop offset=".117" stop-color="#33ff00"/><stop offset=".138" stop-color="#00ff00"/><stop offset=".442" stop-color="#00ff00"/><stop offset=".447" stop-color="#00ff16"/><stop offset=".598" stop-color="#00ffff"/><stop offset=".756" stop-color="#0028ff"/><stop offset="1" stop-color="#0028ff"/></linearGradient><linearGradient id="a91"><stop offset=".000" stop-color="#5cff00"/><stop offset=".084" stop-color="#53ff00"/><stop offset=".133" stop-color="#44ff00"/><stop offset=".153" stop-color="#02ff00"/><stop offset=".156" stop-color="#00ff00"/><stop offset=".445" stop-color="#00ff00"/><stop offset=".449" stop-color="#00ff15"/><stop offset=".451" stop-color="#00ff19"/><stop offset=".600" stop-color="#00ffff"/><stop offset=".758" stop-color="#0028ff"/><stop offset="1" stop-color="#0028ff"/></linearGradient><linearGradient id="a92"><stop offset=".000" stop-color="#66ff00"/><stop offset=".090" stop-color="#5bff00"/><stop offset=".151" stop-color="#44ff00"/><stop offset=".172" stop-color="#02ff00"/><stop offset=".174" stop-color="#00ff00"/><stop offset=".447" stop-color="#00ff00"/><stop offset=".454" stop-color="#00ff18"/><stop offset=".603" stop-color="#00fffe"/><stop offset=".761" stop-color="#0028ff"/><stop offset="1" stop-color="#0028ff"/></linearGradient><linearGradient id="a93"><stop offset=".000" stop-color="#6fff00"/><stop offset=".093" stop-color="#63ff00"/><stop offset=".167" stop-color="#45ff00"/><stop offset=".169" stop-color="#43ff00"/><stop offset=".187" stop-color="#02ff00"/><stop offset=".190" stop-color="#00ff00"/><stop offset=".449" stop-color="#00ff00"/><stop offset=".451" stop-color="#00ff04"/><stop offset=".456" stop-color="#00ff18"/><stop offset=".605" stop-color="#00fffd"/><stop offset=".763" stop-color="#0029ff"/><stop offset="1" stop-color="#0028ff"/></linearGradient><linearGradient id="a94"><stop offset=".000" stop-color="#79ff00"/><stop offset=".093" stop-color="#6dff00"/><stop offset=".183" stop-color="#45ff00"/><stop offset=".185" stop-color="#42ff00"/><stop offset=".201" stop-color="#00ff00"/><stop offset=".451" stop-color="#00ff00"/><stop offset=".454" stop-color="#00ff02"/><stop offset=".458" stop-color="#00ff17"/><stop offset=".607" stop-color="#00fffc"/><stop offset=".765" stop-color="#0029ff"/><stop offset="1" stop-color="#0028ff"/></linearGradient><linearGradient id="a95"><stop offset=".000" stop-color="#82ff00"/><stop offset=".095" stop-color="#75ff00"/><stop offset=".194" stop-color="#46ff00"/><stop offset=".196" stop-color="#44ff00"/><stop offset=".199" stop-color="#3dff00"/><stop offset=".210" stop-color="#05ff00"/><stop offset=".212" stop-color="#00ff00"/><stop offset=".456" stop-color="#00ff00"/><stop offset=".460" stop-color="#00ff16"/><stop offset=".612" stop-color="#00ffff"/><stop offset=".770" stop-color="#0028ff"/><stop offset="1" stop-color="#0028ff"/></linearGradient><linearGradient id="a96"><stop offset=".000" stop-color="#8aff00"/><stop offset=".093" stop-color="#7fff00"/><stop offset=".192" stop-color="#4fff00"/><stop offset=".208" stop-color="#44ff00"/><stop offset=".219" stop-color="#07ff00"/><stop offset=".221" stop-color="#00ff00"/><stop offset=".458" stop-color="#00ff00"/><stop offset=".463" stop-color="#00ff15"/><stop offset=".465" stop-color="#00ff19"/><stop offset=".614" stop-color="#00fffe"/><stop offset=".772" stop-color="#0028ff"/><stop offset="1" stop-color="#0028ff"/></linearGradient><linearGradient id="a97"><stop offset=".000" stop-color="#92ff00"/><stop offset=".090" stop-color="#88ff00"/><stop offset=".190" stop-color="#57ff00"/><stop offset=".217" stop-color="#44ff00"/><stop offset=".228" stop-color="#08ff00"/><stop offset=".230" stop-color="#00ff00"/><stop offset=".460" stop-color="#00ff00"/><stop offset=".467" stop-color="#00ff18"/><stop offset=".616" stop-color="#00fffe"/><stop offset=".774" stop-color="#0028ff"/><stop offset="1" stop-color="#0028ff"/></linearGradient><linearGradient id="a98"><stop offset=".000" stop-color="#99ff00"/><stop offset=".088" stop-color="#91ff00"/><stop offset=".187" stop-color="#60ff00"/><stop offset=".226" stop-color="#45ff00"/><stop offset=".228" stop-color="#3cff00"/><stop offset=".239" stop-color="#00ff00"/><stop offset=".463" stop-color="#00ff00"/><stop offset=".465" stop-color="#00ff03"/><stop offset=".470" stop-color="#00ff18"/><stop offset=".619" stop-color="#00fffd"/><stop offset=".777" stop-color="#0028ff"/><stop offset="1" stop-color="#0028ff"/></linearGradient><linearGradient id="a99"><stop offset=".000" stop-color="#9fff00"/><stop offset=".088" stop-color="#98ff00"/><stop offset=".183" stop-color="#6bff00"/><stop offset=".235" stop-color="#45ff00"/><stop offset=".237" stop-color="#3dff00"/><stop offset=".246" stop-color="#09ff00"/><stop offset=".248" stop-color="#00ff00"/><stop offset=".467" stop-color="#00ff01"/><stop offset=".472" stop-color="#00ff17"/><stop offset=".621" stop-color="#00fffd"/><stop offset=".779" stop-color="#0028ff"/><stop offset="1" stop-color="#0028ff"/></linearGradient><linearGradient id="a100"><stop offset=".000" stop-color="#a5ff00"/><stop offset=".088" stop-color="#9eff00"/><stop offset=".181" stop-color="#73ff00"/><stop offset=".244" stop-color="#45ff00"/><stop offset=".246" stop-color="#3aff00"/><stop offset=".255" stop-color="#03ff00"/><stop offset=".257" stop-color="#00ff00"/><stop offset=".470" stop-color="#00ff00"/><stop offset=".474" stop-color="#00ff16"/><stop offset=".625" stop-color="#00ffff"/><stop offset=".779" stop-color="#0029ff"/><stop offset="1" stop-color="#0028ff"/></linearGradient><linearGradient id="a101"><stop offset=".000" stop-color="#a9ff00"/><stop offset=".088" stop-color="#a3ff00"/><stop offset=".178" stop-color="#7cff00"/><stop offset=".251" stop-color="#45ff00"/><stop offset=".253" stop-color="#40ff00"/><stop offset=".262" stop-color="#05ff00"/><stop offset=".264" stop-color="#00ff00"/><stop offset=".472" stop-color="#00ff00"/><stop offset=".476" stop-color="#00ff15"/><stop offset=".479" stop-color="#00ff19"/><stop offset=".628" stop-color="#00ffff"/><stop offset=".781" stop-color="#0029ff"/><stop offset="1" stop-color="#0028ff"/></linearGradient><linearGradient id="a102"><stop offset=".000" stop-color="#aeff00"/><stop offset=".088" stop-color="#a8ff00"/><stop offset=".178" stop-color="#82ff00"/><stop offset=".257" stop-color="#46ff00"/><stop offset=".260" stop-color="#41ff00"/><stop offset=".269" stop-color="#02ff00"/><stop offset=".271" stop-color="#00ff00"/><stop offset=".474" stop-color="#00ff00"/><stop offset=".481" stop-color="#00ff18"/><stop offset=".630" stop-color="#00ffff"/><stop offset=".783" stop-color="#0028ff"/><stop offset="1" stop-color="#0028ff"/></linearGradient><linearGradient id="a103"><stop offset=".000" stop-color="#b2ff00"/><stop offset=".088" stop-color="#adff00"/><stop offset=".176" stop-color="#8aff00"/><stop offset=".264" stop-color="#45ff00"/><stop offset=".266" stop-color="#3eff00"/><stop offset=".275" stop-color="#00ff00"/><stop offset=".476" stop-color="#00ff00"/><stop offset=".479" stop-color="#00ff03"/><stop offset=".483" stop-color="#00ff18"/><stop offset=".632" stop-color="#00ffff"/><stop offset=".786" stop-color="#0028ff"/><stop offset="1" stop-color="#0028ff"/></linearGradient><linearGradient id="a104"><stop offset=".000" stop-color="#b5ff00"/><stop offset=".088" stop-color="#b1ff00"/><stop offset=".147" stop-color="#9eff00"/><stop offset=".176" stop-color="#90ff00"/><stop offset=".233" stop-color="#66ff00"/><stop offset=".271" stop-color="#45ff00"/><stop offset=".280" stop-color="#04ff00"/><stop offset=".282" stop-color="#00ff00"/><stop offset=".481" stop-color="#00ff00"/><stop offset=".485" stop-color="#00ff17"/><stop offset=".634" stop-color="#00fffe"/><stop offset=".788" stop-color="#0028ff"/><stop offset="1" stop-color="#0028ff"/></linearGradient><linearGradient id="a105"><stop offset=".000" stop-color="#b8ff00"/><stop offset=".090" stop-color="#b4ff00"/><stop offset=".147" stop-color="#a3ff00"/><stop offset=".178" stop-color="#93ff00"/><stop offset=".235" stop-color="#6aff00"/><stop offset=".275" stop-color="#46ff00"/><stop offset=".278" stop-color="#40ff00"/><stop offset=".284" stop-color="#0cff00"/><stop offset=".287" stop-color="#00ff00"/><stop offset=".483" stop-color="#00ff00"/><stop offset=".488" stop-color="#00ff16"/><stop offset=".637" stop-color="#00fffe"/><stop offset=".790" stop-color="#0028ff"/><stop offset="1" stop-color="#0028ff"/></linearGradient><linearGradient id="a106"><stop offset=".000" stop-color="#bbff00"/><stop offset=".054" stop-color="#bbff00"/><stop offset=".095" stop-color="#b6ff00"/><stop offset=".149" stop-color="#a6ff00"/><stop offset=".183" stop-color="#95ff00"/><stop offset=".239" stop-color="#6cff00"/><stop offset=".282" stop-color="#44ff00"/><stop offset=".291" stop-color="#00ff00"/><stop offset=".485" stop-color="#00ff00"/><stop offset=".490" stop-color="#00ff15"/><stop offset=".492" stop-color="#00ff19"/><stop offset=".639" stop-color="#00ffff"/><stop offset=".792" stop-color="#0028ff"/><stop offset="1" stop-color="#0028ff"/></linearGradient><linearGradient id="a107"><stop offset=".000" stop-color="#beff00"/><stop offset=".056" stop-color="#beff00"/><stop offset=".097" stop-color="#b9ff00"/><stop offset=".149" stop-color="#aaff00"/><stop offset=".185" stop-color="#97ff00"/><stop offset=".242" stop-color="#6fff00"/><stop offset=".287" stop-color="#45ff00"/><stop offset=".289" stop-color="#3bff00"/><stop offset=".296" stop-color="#05ff00"/><stop offset=".298" stop-color="#00ff00"/><stop offset=".488" stop-color="#00ff00"/><stop offset=".494" stop-color="#00ff18"/><stop offset=".641" stop-color="#00ffff"/><stop offset=".795" stop-color="#0028ff"/><stop offset="1" stop-color="#0028ff"/></linearGradient><linearGradient id="a108"><stop offset=".000" stop-color="#c0ff00"/><stop offset=".059" stop-color="#c0ff00"/><stop offset=".102" stop-color="#bbff00"/><stop offset=".151" stop-color="#acff00"/><stop offset=".190" stop-color="#98ff00"/><stop offset=".244" stop-color="#72ff00"/><stop offset=".291" stop-color="#46ff00"/><stop offset=".293" stop-color="#3fff00"/><stop offset=".300" stop-color="#09ff00"/><stop offset=".302" stop-color="#00ff00"/><stop offset=".490" stop-color="#00ff00"/><stop offset=".492" stop-color="#00ff03"/><stop offset=".497" stop-color="#00ff18"/><stop offset=".643" stop-color="#00ffff"/><stop offset=".797" stop-color="#0028ff"/><stop offset="1" stop-color="#0028ff"/></linearGradient><linearGradient id="a109"><stop offset=".000" stop-color="#c1ff00"/><stop offset=".063" stop-color="#c2ff00"/><stop offset=".108" stop-color="#bcff00"/><stop offset=".156" stop-color="#adff00"/><stop offset=".196" stop-color="#98ff00"/><stop offset=".248" stop-color="#73ff00"/><stop offset=".296" stop-color="#46ff00"/><stop offset=".298" stop-color="#43ff00"/><stop offset=".305" stop-color="#0bff00"/><stop offset=".307" stop-color="#00ff00"/><stop offset=".494" stop-color="#00ff00"/><stop offset=".499" stop-color="#00ff17"/><stop offset=".646" stop-color="#00ffff"/><stop offset=".797" stop-color="#0029ff"/><stop offset="1" stop-color="#0028ff"/></linearGradient><linearGradient id="a110"><stop offset=".000" stop-color="#c3ff00"/><stop offset=".065" stop-color="#c3ff00"/><stop offset=".115" stop-color="#bdff00"/><stop offset=".160" stop-color="#aeff00"/><stop offset=".205" stop-color="#96ff00"/><stop offset=".255" stop-color="#72ff00"/><stop offset=".302" stop-color="#44ff00"/><stop offset=".309" stop-color="#0dff00"/><stop offset=".312" stop-color="#00ff00"/><stop offset=".497" stop-color="#00ff00"/><stop offset=".501" stop-color="#00ff16"/><stop offset=".648" stop-color="#00ffff"/><stop offset=".799" stop-color="#0029ff"/><stop offset="1" stop-color="#0028ff"/></linearGradient><linearGradient id="a111"><stop offset=".000" stop-color="#c4ff00"/><stop offset=".068" stop-color="#c5ff00"/><stop offset=".117" stop-color="#beff00"/><stop offset=".163" stop-color="#b0ff00"/><stop offset=".210" stop-color="#97ff00"/><stop offset=".260" stop-color="#72ff00"/><stop offset=".307" stop-color="#44ff00"/><stop offset=".314" stop-color="#0dff00"/><stop offset=".316" stop-color="#00ff00"/><stop offset=".499" stop-color="#00ff00"/><stop offset=".503" stop-color="#00ff16"/><stop offset=".506" stop-color="#00ff19"/><stop offset=".650" stop-color="#00ffff"/><stop offset=".801" stop-color="#0028ff"/><stop offset="1" stop-color="#0028ff"/></linearGradient><linearGradient id="a112"><stop offset=".000" stop-color="#c5ff00"/><stop offset=".070" stop-color="#c6ff00"/><stop offset=".120" stop-color="#bfff00"/><stop offset=".165" stop-color="#b1ff00"/><stop offset=".212" stop-color="#98ff00"/><stop offset=".262" stop-color="#74ff00"/><stop offset=".312" stop-color="#44ff00"/><stop offset=".318" stop-color="#0cff00"/><stop offset=".321" stop-color="#00ff00"/><stop offset=".501" stop-color="#00ff00"/><stop offset=".503" stop-color="#00ff07"/><stop offset=".506" stop-color="#00ff14"/><stop offset=".508" stop-color="#00ff19"/><stop offset=".652" stop-color="#00ffff"/><stop offset=".804" stop-color="#0028ff"/><stop offset="1" stop-color="#0028ff"/></linearGradient><linearGradient id="a113"><stop offset=".000" stop-color="#c6ff00"/><stop offset=".074" stop-color="#c6ff00"/><stop offset=".122" stop-color="#c0ff00"/><stop offset=".167" stop-color="#b2ff00"/><stop offset=".217" stop-color="#99ff00"/><stop offset=".269" stop-color="#72ff00"/><stop offset=".316" stop-color="#44ff00"/><stop offset=".323" stop-color="#0aff00"/><stop offset=".325" stop-color="#00ff00"/><stop offset=".503" stop-color="#00ff00"/><stop offset=".510" stop-color="#00ff19"/><stop offset=".655" stop-color="#00ffff"/><stop offset=".806" stop-color="#0028ff"/><stop offset="1" stop-color="#0028ff"/></linearGradient><linearGradient id="a114"><stop offset=".000" stop-color="#c7ff00"/><stop offset=".074" stop-color="#c7ff00"/><stop offset=".122" stop-color="#c2ff00"/><stop offset=".167" stop-color="#b4ff00"/><stop offset=".217" stop-color="#9bff00"/><stop offset=".271" stop-color="#74ff00"/><stop offset=".318" stop-color="#46ff00"/><stop offset=".321" stop-color="#41ff00"/><stop offset=".327" stop-color="#06ff00"/><stop offset=".330" stop-color="#00ff00"/><stop offset=".506" stop-color="#00ff00"/><stop offset=".508" stop-color="#00ff05"/><stop offset=".510" stop-color="#00ff12"/><stop offset=".512" stop-color="#00ff18"/><stop offset=".655" stop-color="#00fffc"/><stop offset=".808" stop-color="#0028ff"/><stop offset="1" stop-color="#0028ff"/></linearGradient><linearGradient id="a115"><stop offset=".000" stop-color="#c7ff00"/><stop offset=".077" stop-color="#c8ff00"/><stop offset=".124" stop-color="#c3ff00"/><stop offset=".172" stop-color="#b4ff00"/><stop offset=".219" stop-color="#9cff00"/><stop offset=".275" stop-color="#73ff00"/><stop offset=".323" stop-color="#45ff00"/><stop offset=".325" stop-color="#3cff00"/><stop offset=".332" stop-color="#00ff00"/><stop offset=".508" stop-color="#00ff00"/><stop offset=".510" stop-color="#00ff04"/><stop offset=".512" stop-color="#00ff12"/><stop offset=".515" stop-color="#00ff18"/><stop offset=".657" stop-color="#00fffd"/><stop offset=".810" stop-color="#0028ff"/><stop offset="1" stop-color="#0028ff"/></linearGradient><linearGradient id="a116"><stop offset=".000" stop-color="#c8ff00"/><stop offset=".079" stop-color="#c8ff00"/><stop offset=".124" stop-color="#c4ff00"/><stop offset=".172" stop-color="#b6ff00"/><stop offset=".219" stop-color="#9fff00"/><stop offset=".278" stop-color="#75ff00"/><stop offset=".327" stop-color="#44ff00"/><stop offset=".334" stop-color="#0bff00"/><stop offset=".336" stop-color="#00ff00"/><stop offset=".510" stop-color="#00ff00"/><stop offset=".512" stop-color="#00ff05"/><stop offset=".515" stop-color="#00ff12"/><stop offset=".517" stop-color="#00ff18"/><stop offset=".659" stop-color="#00fffd"/><stop offset=".810" stop-color="#0029ff"/><stop offset="1" stop-color="#0028ff"/></linearGradient><linearGradient id="a117"><stop offset=".000" stop-color="#c8ff00"/><stop offset=".081" stop-color="#c9ff00"/><stop offset=".126" stop-color="#c4ff00"/><stop offset=".174" stop-color="#b6ff00"/><stop offset=".221" stop-color="#9fff00"/><stop offset=".282" stop-color="#74ff00"/><stop offset=".330" stop-color="#46ff00"/><stop offset=".332" stop-color="#3fff00"/><stop offset=".339" stop-color="#01ff00"/><stop offset=".341" stop-color="#00ff00"/><stop offset=".512" stop-color="#00ff00"/><stop offset=".515" stop-color="#00ff05"/><stop offset=".517" stop-color="#00ff12"/><stop offset=".519" stop-color="#00ff19"/><stop offset=".661" stop-color="#00fffe"/><stop offset=".813" stop-color="#0029ff"/><stop offset="1" stop-color="#0028ff"/></linearGradient><linearGradient id="a118"><stop offset=".000" stop-color="#c9ff00"/><stop offset=".084" stop-color="#c9ff00"/><stop offset=".126" stop-color="#c5ff00"/><stop offset=".174" stop-color="#b8ff00"/><stop offset=".223" stop-color="#a0ff00"/><stop offset=".287" stop-color="#73ff00"/><stop offset=".334" stop-color="#45ff00"/><stop offset=".341" stop-color="#0bff00"/><stop offset=".343" stop-color="#00ff00"/><stop offset=".515" stop-color="#00ff00"/><stop offset=".521" stop-color="#00ff19"/><stop offset=".664" stop-color="#00ffff"/><stop offset=".815" stop-color="#0028ff"/><stop offset="1" stop-color="#0028ff"/></linearGradient><linearGradient id="a119"><stop offset=".000" stop-color="#c9ff00"/><stop offset=".084" stop-color="#caff00"/><stop offset=".129" stop-color="#c5ff00"/><stop offset=".176" stop-color="#b8ff00"/><stop offset=".223" stop-color="#a1ff00"/><stop offset=".289" stop-color="#74ff00"/><stop offset=".336" stop-color="#46ff00"/><stop offset=".339" stop-color="#3eff00"/><stop offset=".345" stop-color="#00ff00"/><stop offset=".517" stop-color="#00ff00"/><stop offset=".524" stop-color="#00ff19"/><stop offset=".666" stop-color="#00ffff"/><stop offset=".817" stop-color="#0028ff"/><stop offset="1" stop-color="#0028ff"/></linearGradient><linearGradient id="a120"><stop offset=".000" stop-color="#c9ff00"/><stop offset=".086" stop-color="#caff00"/><stop offset=".129" stop-color="#c6ff00"/><stop offset=".176" stop-color="#b9ff00"/><stop offset=".223" stop-color="#a2ff00"/><stop offset=".293" stop-color="#73ff00"/><stop offset=".341" stop-color="#45ff00"/><stop offset=".348" stop-color="#0aff00"/><stop offset=".350" stop-color="#00ff00"/><stop offset=".519" stop-color="#00ff00"/><stop offset=".521" stop-color="#00ff07"/><stop offset=".524" stop-color="#00ff14"/><stop offset=".526" stop-color="#00ff19"/><stop offset=".666" stop-color="#00fffd"/><stop offset=".819" stop-color="#0028ff"/><stop offset="1" stop-color="#0028ff"/></linearGradient><linearGradient id="a121"><stop offset=".000" stop-color="#c9ff00"/><stop offset=".129" stop-color="#c7ff00"/><stop offset=".176" stop-color="#baff00"/><stop offset=".226" stop-color="#a2ff00"/><stop offset=".296" stop-color="#74ff00"/><stop offset=".343" stop-color="#46ff00"/><stop offset=".345" stop-color="#3eff00"/><stop offset=".352" stop-color="#00ff00"/><stop offset=".521" stop-color="#00ff00"/><stop offset=".524" stop-color="#00ff07"/><stop offset=".526" stop-color="#00ff14"/><stop offset=".528" stop-color="#00ff19"/><stop offset=".668" stop-color="#00fffd"/><stop offset=".819" stop-color="#0029ff"/><stop offset="1" stop-color="#0028ff"/></linearGradient><linearGradient id="a122"><stop offset=".000" stop-color="#caff00"/><stop offset=".129" stop-color="#c7ff00"/><stop offset=".176" stop-color="#bbff00"/><stop offset=".223" stop-color="#a5ff00"/><stop offset=".298" stop-color="#74ff00"/><stop offset=".348" stop-color="#45ff00"/><stop offset=".354" stop-color="#0aff00"/><stop offset=".357" stop-color="#00ff00"/><stop offset=".524" stop-color="#00ff00"/><stop offset=".526" stop-color="#00ff07"/><stop offset=".528" stop-color="#00ff14"/><stop offset=".530" stop-color="#00ff19"/><stop offset=".670" stop-color="#00fffe"/><stop offset=".822" stop-color="#0029ff"/><stop offset="1" stop-color="#0028ff"/></linearGradient><linearGradient id="a123"><stop offset=".000" stop-color="#caff00"/><stop offset=".088" stop-color="#ccff00"/><stop offset=".131" stop-color="#c8ff00"/><stop offset=".178" stop-color="#bbff00"/><stop offset=".226" stop-color="#a5ff00"/><stop offset=".300" stop-color="#75ff00"/><stop offset=".350" stop-color="#46ff00"/><stop offset=".352" stop-color="#3cff00"/><stop offset=".359" stop-color="#00ff00"/><stop offset=".526" stop-color="#00ff00"/><stop offset=".528" stop-color="#00ff07"/><stop offset=".530" stop-color="#00ff14"/><stop offset=".533" stop-color="#00ff19"/><stop offset=".673" stop-color="#00ffff"/><stop offset=".824" stop-color="#0028ff"/><stop offset="1" stop-color="#0028ff"/></linearGradient><linearGradient id="a124"><stop offset=".000" stop-color="#cbff00"/><stop offset=".131" stop-color="#c8ff00"/><stop offset=".178" stop-color="#bcff00"/><stop offset=".226" stop-color="#a6ff00"/><stop offset=".302" stop-color="#75ff00"/><stop offset=".352" stop-color="#47ff00"/><stop offset=".354" stop-color="#43ff00"/><stop offset=".361" stop-color="#03ff00"/><stop offset=".363" stop-color="#00ff00"/><stop offset=".528" stop-color="#00ff00"/><stop offset=".533" stop-color="#00ff15"/><stop offset=".535" stop-color="#00ff19"/><stop offset=".675" stop-color="#00ffff"/><stop offset=".826" stop-color="#0028ff"/><stop offset="1" stop-color="#0028ff"/></linearGradient><linearGradient id="a125"><stop offset=".000" stop-color="#ccff00"/><stop offset=".131" stop-color="#c9ff00"/><stop offset=".178" stop-color="#bdff00"/><stop offset=".226" stop-color="#a7ff00"/><stop offset=".305" stop-color="#76ff00"/><stop offset=".354" stop-color="#47ff00"/><stop offset=".357" stop-color="#44ff00"/><stop offset=".363" stop-color="#05ff00"/><stop offset=".366" stop-color="#00ff00"/><stop offset=".530" stop-color="#00ff00"/><stop offset=".535" stop-color="#00ff16"/><stop offset=".675" stop-color="#00fffc"/><stop offset=".828" stop-color="#0028ff"/><stop offset="1" stop-color="#0028ff"/></linearGradient><linearGradient id="a126"><stop offset=".000" stop-color="#cdff00"/><stop offset=".133" stop-color="#c9ff00"/><stop offset=".181" stop-color="#bcff00"/><stop offset=".228" stop-color="#a6ff00"/><stop offset=".307" stop-color="#75ff00"/><stop offset=".357" stop-color="#46ff00"/><stop offset=".359" stop-color="#3bff00"/><stop offset=".363" stop-color="#0fff00"/><stop offset=".366" stop-color="#00ff00"/><stop offset=".530" stop-color="#00ff00"/><stop offset=".533" stop-color="#00ff03"/><stop offset=".537" stop-color="#00ff18"/><stop offset=".677" stop-color="#00fffe"/><stop offset=".828" stop-color="#0028ff"/><stop offset="1" stop-color="#0028ff"/></linearGradient><linearGradient id="a127"><stop offset=".000" stop-color="#cdff00"/><stop offset=".133" stop-color="#c9ff00"/><stop offset=".181" stop-color="#bcff00"/><stop offset=".228" stop-color="#a6ff00"/><stop offset=".307" stop-color="#75ff00"/><stop offset=".357" stop-color="#46ff00"/><stop offset=".359" stop-color="#3bff00"/><stop offset=".363" stop-color="#0fff00"/><stop offset=".366" stop-color="#00ff00"/><stop offset=".530" stop-color="#00ff00"/><stop offset=".533" stop-color="#00ff03"/><stop offset=".537" stop-color="#00ff18"/><stop offset=".677" stop-color="#00fffe"/><stop offset=".828" stop-color="#0028ff"/><stop offset="1" stop-color="#0028ff"/></linearGradient></defs>
<g clip-path="url(#cpa)"><g filter="url(#vb)"><rect x="260" y="148.78" width="887.1" height="6.61" fill="url(#a0)"/><rect x="260" y="154.79" width="887.1" height="6.61" fill="url(#a1)"/><rect x="260" y="160.8" width="887.1" height="6.61" fill="url(#a2)"/><rect x="260" y="166.81" width="887.1" height="6.61" fill="url(#a3)"/><rect x="260" y="172.82" width="887.1" height="6.61" fill="url(#a4)"/><rect x="260" y="178.82" width="887.1" height="6.61" fill="url(#a5)"/><rect x="260" y="184.83" width="887.1" height="6.61" fill="url(#a6)"/><rect x="260" y="190.84" width="887.1" height="6.61" fill="url(#a7)"/><rect x="260" y="196.85" width="887.1" height="6.61" fill="url(#a8)"/><rect x="260" y="202.86" width="887.1" height="6.61" fill="url(#a9)"/><rect x="260" y="208.86" width="887.1" height="6.61" fill="url(#a10)"/><rect x="260" y="214.87" width="887.1" height="6.61" fill="url(#a11)"/><rect x="260" y="220.88" width="887.1" height="6.61" fill="url(#a12)"/><rect x="260" y="226.89" width="887.1" height="6.61" fill="url(#a13)"/><rect x="260" y="232.9" width="887.1" height="6.61" fill="url(#a14)"/><rect x="260" y="238.9" width="887.1" height="6.61" fill="url(#a15)"/><rect x="260" y="244.91" width="887.1" height="6.61" fill="url(#a16)"/><rect x="260" y="250.92" width="887.1" height="6.61" fill="url(#a17)"/><rect x="260" y="256.93" width="887.1" height="6.61" fill="url(#a18)"/><rect x="260" y="262.94" width="887.1" height="6.61" fill="url(#a19)"/><rect x="260" y="268.95" width="887.1" height="6.61" fill="url(#a20)"/><rect x="260" y="274.95" width="887.1" height="6.61" fill="url(#a21)"/><rect x="260" y="280.96" width="887.1" height="6.61" fill="url(#a22)"/><rect x="260" y="286.97" width="887.1" height="6.61" fill="url(#a23)"/><rect x="260" y="292.98" width="887.1" height="6.61" fill="url(#a24)"/><rect x="260" y="298.99" width="887.1" height="6.61" fill="url(#a25)"/><rect x="260" y="304.99" width="887.1" height="6.61" fill="url(#a26)"/><rect x="260" y="311" width="887.1" height="6.61" fill="url(#a27)"/><rect x="260" y="317.01" width="887.1" height="6.61" fill="url(#a28)"/><rect x="260" y="323.02" width="887.1" height="6.61" fill="url(#a29)"/><rect x="260" y="329.03" width="887.1" height="6.61" fill="url(#a30)"/><rect x="260" y="335.03" width="887.1" height="6.61" fill="url(#a31)"/><rect x="260" y="341.04" width="887.1" height="6.61" fill="url(#a32)"/><rect x="260" y="347.05" width="887.1" height="6.61" fill="url(#a33)"/><rect x="260" y="353.06" width="887.1" height="6.61" fill="url(#a34)"/><rect x="260" y="359.07" width="887.1" height="6.61" fill="url(#a35)"/><rect x="260" y="365.07" width="887.1" height="6.61" fill="url(#a36)"/><rect x="260" y="371.08" width="887.1" height="6.61" fill="url(#a37)"/><rect x="260" y="377.09" width="887.1" height="6.61" fill="url(#a38)"/><rect x="260" y="383.1" width="887.1" height="6.61" fill="url(#a39)"/><rect x="260" y="389.11" width="887.1" height="6.61" fill="url(#a40)"/><rect x="260" y="395.11" width="887.1" height="6.61" fill="url(#a41)"/><rect x="260" y="401.12" width="887.1" height="6.61" fill="url(#a42)"/><rect x="260" y="407.13" width="887.1" height="6.61" fill="url(#a43)"/><rect x="260" y="413.14" width="887.1" height="6.61" fill="url(#a44)"/><rect x="260" y="419.15" width="887.1" height="6.61" fill="url(#a45)"/><rect x="260" y="425.15" width="887.1" height="6.61" fill="url(#a46)"/><rect x="260" y="431.16" width="887.1" height="6.61" fill="url(#a47)"/><rect x="260" y="437.17" width="887.1" height="6.61" fill="url(#a48)"/><rect x="260" y="443.18" width="887.1" height="6.61" fill="url(#a49)"/><rect x="260" y="449.19" width="887.1" height="6.61" fill="url(#a50)"/><rect x="260" y="455.2" width="887.1" height="6.61" fill="url(#a51)"/><rect x="260" y="461.2" width="887.1" height="6.61" fill="url(#a52)"/><rect x="260" y="467.21" width="887.1" height="6.61" fill="url(#a53)"/><rect x="260" y="473.22" width="887.1" height="6.61" fill="url(#a54)"/><rect x="260" y="479.23" width="887.1" height="6.61" fill="url(#a55)"/><rect x="260" y="485.24" width="887.1" height="6.61" fill="url(#a56)"/><rect x="260" y="491.24" width="887.1" height="6.61" fill="url(#a57)"/><rect x="260" y="497.25" width="887.1" height="6.61" fill="url(#a58)"/><rect x="260" y="503.26" width="887.1" height="6.61" fill="url(#a59)"/><rect x="260" y="509.27" width="887.1" height="6.61" fill="url(#a60)"/><rect x="260" y="515.28" width="887.1" height="6.61" fill="url(#a61)"/><rect x="260" y="521.28" width="887.1" height="6.61" fill="url(#a62)"/><rect x="260" y="527.29" width="887.1" height="6.61" fill="url(#a63)"/><rect x="260" y="533.3" width="887.1" height="6.61" fill="url(#a64)"/><rect x="260" y="539.31" width="887.1" height="6.61" fill="url(#a65)"/><rect x="260" y="545.32" width="887.1" height="6.61" fill="url(#a66)"/><rect x="260" y="551.32" width="887.1" height="6.61" fill="url(#a67)"/><rect x="260" y="557.33" width="887.1" height="6.61" fill="url(#a68)"/><rect x="260" y="563.34" width="887.1" height="6.61" fill="url(#a69)"/><rect x="260" y="569.35" width="887.1" height="6.61" fill="url(#a70)"/><rect x="260" y="575.36" width="887.1" height="6.61" fill="url(#a71)"/><rect x="260" y="581.36" width="887.1" height="6.61" fill="url(#a72)"/><rect x="260" y="587.37" width="887.1" height="6.61" fill="url(#a73)"/><rect x="260" y="593.38" width="887.1" height="6.61" fill="url(#a74)"/><rect x="260" y="599.39" width="887.1" height="6.61" fill="url(#a75)"/><rect x="260" y="605.4" width="887.1" height="6.61" fill="url(#a76)"/><rect x="260" y="611.4" width="887.1" height="6.61" fill="url(#a77)"/><rect x="260" y="617.41" width="887.1" height="6.61" fill="url(#a78)"/><rect x="260" y="623.42" width="887.1" height="6.61" fill="url(#a79)"/><rect x="260" y="629.43" width="887.1" height="6.61" fill="url(#a80)"/><rect x="260" y="635.44" width="887.1" height="6.61" fill="url(#a81)"/><rect x="260" y="641.45" width="887.1" height="6.61" fill="url(#a82)"/><rect x="260" y="647.45" width="887.1" height="6.61" fill="url(#a83)"/><rect x="260" y="653.46" width="887.1" height="6.61" fill="url(#a84)"/><rect x="260" y="659.47" width="887.1" height="6.61" fill="url(#a85)"/><rect x="260" y="665.48" width="887.1" height="6.61" fill="url(#a86)"/><rect x="260" y="671.49" width="887.1" height="6.61" fill="url(#a87)"/><rect x="260" y="677.49" width="887.1" height="6.61" fill="url(#a88)"/><rect x="260" y="683.5" width="887.1" height="6.61" fill="url(#a89)"/><rect x="260" y="689.51" width="887.1" height="6.61" fill="url(#a90)"/><rect x="260" y="695.52" width="887.1" height="6.61" fill="url(#a91)"/><rect x="260" y="701.53" width="887.1" height="6.61" fill="url(#a92)"/><rect x="260" y="707.53" width="887.1" height="6.61" fill="url(#a93)"/><rect x="260" y="713.54" width="887.1" height="6.61" fill="url(#a94)"/><rect x="260" y="719.55" width="887.1" height="6.61" fill="url(#a95)"/><rect x="260" y="725.56" width="887.1" height="6.61" fill="url(#a96)"/><rect x="260" y="731.57" width="887.1" height="6.61" fill="url(#a97)"/><rect x="260" y="737.57" width="887.1" height="6.61" fill="url(#a98)"/><rect x="260" y="743.58" width="887.1" height="6.61" fill="url(#a99)"/><rect x="260" y="749.59" width="887.1" height="6.61" fill="url(#a100)"/><rect x="260" y="755.6" width="887.1" height="6.61" fill="url(#a101)"/><rect x="260" y="761.61" width="887.1" height="6.61" fill="url(#a102)"/><rect x="260" y="767.61" width="887.1" height="6.61" fill="url(#a103)"/><rect x="260" y="773.62" width="887.1" height="6.61" fill="url(#a104)"/><rect x="260" y="779.63" width="887.1" height="6.61" fill="url(#a105)"/><rect x="260" y="785.64" width="887.1" height="6.61" fill="url(#a106)"/><rect x="260" y="791.65" width="887.1" height="6.61" fill="url(#a107)"/><rect x="260" y="797.65" width="887.1" height="6.61" fill="url(#a108)"/><rect x="260" y="803.66" width="887.1" height="6.61" fill="url(#a109)"/><rect x="260" y="809.67" width="887.1" height="6.61" fill="url(#a110)"/><rect x="260" y="815.68" width="887.1" height="6.61" fill="url(#a111)"/><rect x="260" y="821.69" width="887.1" height="6.61" fill="url(#a112)"/><rect x="260" y="827.7" width="887.1" height="6.61" fill="url(#a113)"/><rect x="260" y="833.7" width="887.1" height="6.61" fill="url(#a114)"/><rect x="260" y="839.71" width="887.1" height="6.61" fill="url(#a115)"/><rect x="260" y="845.72" width="887.1" height="6.61" fill="url(#a116)"/><rect x="260" y="851.73" width="887.1" height="6.61" fill="url(#a117)"/><rect x="260" y="857.74" width="887.1" height="6.61" fill="url(#a118)"/><rect x="260" y="863.74" width="887.1" height="6.61" fill="url(#a119)"/><rect x="260" y="869.75" width="887.1" height="6.61" fill="url(#a120)"/><rect x="260" y="875.76" width="887.1" height="6.61" fill="url(#a121)"/><rect x="260" y="881.77" width="887.1" height="6.61" fill="url(#a122)"/><rect x="260" y="887.78" width="887.1" height="6.61" fill="url(#a123)"/><rect x="260" y="893.78" width="887.1" height="6.61" fill="url(#a124)"/><rect x="260" y="899.79" width="887.1" height="6.61" fill="url(#a125)"/><rect x="260" y="905.8" width="887.1" height="6.61" fill="url(#a126)"/><rect x="260" y="911.81" width="887.1" height="6.61" fill="url(#a127)"/></g></g>
<clipPath id="cpb"><rect x="259.8" y="1207.2" width="887.3" height="747.1"/></clipPath>
<defs><linearGradient id="b0"><stop offset=".000" stop-color="#00ffdf"/><stop offset=".219" stop-color="#00ffe2"/><stop offset=".260" stop-color="#00ffdd"/><stop offset=".309" stop-color="#00ffc0"/><stop offset=".354" stop-color="#00ff94"/><stop offset=".384" stop-color="#00ff6d"/><stop offset=".440" stop-color="#00ff16"/><stop offset=".445" stop-color="#00ff00"/><stop offset=".630" stop-color="#00ff00"/><stop offset=".637" stop-color="#45ff00"/><stop offset=".682" stop-color="#7fff00"/><stop offset=".795" stop-color="#ffff00"/><stop offset=".901" stop-color="#ffc300"/><stop offset="1" stop-color="#ff8500"/></linearGradient><linearGradient id="b1"><stop offset=".000" stop-color="#00ffdf"/><stop offset=".219" stop-color="#00ffe2"/><stop offset=".260" stop-color="#00ffdd"/><stop offset=".309" stop-color="#00ffc0"/><stop offset=".354" stop-color="#00ff94"/><stop offset=".384" stop-color="#00ff6d"/><stop offset=".440" stop-color="#00ff16"/><stop offset=".445" stop-color="#00ff00"/><stop offset=".630" stop-color="#00ff00"/><stop offset=".637" stop-color="#45ff00"/><stop offset=".682" stop-color="#7fff00"/><stop offset=".795" stop-color="#ffff00"/><stop offset=".901" stop-color="#ffc300"/><stop offset="1" stop-color="#ff8500"/></linearGradient><linearGradient id="b2"><stop offset=".000" stop-color="#00ffe2"/><stop offset=".221" stop-color="#00ffe4"/><stop offset=".260" stop-color="#00ffe0"/><stop offset=".309" stop-color="#00ffc4"/><stop offset=".354" stop-color="#00ff98"/><stop offset=".384" stop-color="#00ff71"/><stop offset=".442" stop-color="#00ff17"/><stop offset=".447" stop-color="#00ff01"/><stop offset=".632" stop-color="#00ff00"/><stop offset=".634" stop-color="#08ff00"/><stop offset=".639" stop-color="#3bff00"/><stop offset=".641" stop-color="#46ff00"/><stop offset=".693" stop-color="#87ff00"/><stop offset=".799" stop-color="#ffff00"/><stop offset=".901" stop-color="#ffc600"/><stop offset="1" stop-color="#ff8700"/></linearGradient><linearGradient id="b3"><stop offset=".000" stop-color="#00ffea"/><stop offset=".228" stop-color="#00ffea"/><stop offset=".264" stop-color="#00ffe4"/><stop offset=".312" stop-color="#00ffca"/><stop offset=".357" stop-color="#00ff9e"/><stop offset=".386" stop-color="#00ff76"/><stop offset=".447" stop-color="#00ff19"/><stop offset=".449" stop-color="#00ff15"/><stop offset=".454" stop-color="#00ff00"/><stop offset=".641" stop-color="#00ff00"/><stop offset=".648" stop-color="#44ff00"/><stop offset=".745" stop-color="#b9ff00"/><stop offset=".808" stop-color="#ffff00"/><stop offset=".901" stop-color="#ffcb00"/><stop offset="1" stop-color="#ff8c00"/></linearGradient><linearGradient id="b4"><stop offset=".000" stop-color="#00fff2"/><stop offset=".230" stop-color="#00ffef"/><stop offset=".271" stop-color="#00ffe7"/><stop offset=".316" stop-color="#00ffce"/><stop offset=".357" stop-color="#00ffa6"/><stop offset=".456" stop-color="#00ff16"/><stop offset=".460" stop-color="#00ff01"/><stop offset=".648" stop-color="#00ff00"/><stop offset=".650" stop-color="#03ff00"/><stop offset=".657" stop-color="#44ff00"/><stop offset=".756" stop-color="#bcff00"/><stop offset=".817" stop-color="#ffff00"/><stop offset=".901" stop-color="#ffd000"/><stop offset="1" stop-color="#ff9100"/></linearGradient><linearGradient id="b5"><stop offset=".000" stop-color="#00fffa"/><stop offset=".226" stop-color="#00fff4"/><stop offset=".278" stop-color="#00ffea"/><stop offset=".318" stop-color="#00ffd4"/><stop offset=".359" stop-color="#00ffab"/><stop offset=".463" stop-color="#00ff17"/><stop offset=".470" stop-color="#00ff00"/><stop offset=".657" stop-color="#00ff00"/><stop offset=".659" stop-color="#03ff00"/><stop offset=".666" stop-color="#43ff00"/><stop offset=".668" stop-color="#47ff00"/><stop offset=".765" stop-color="#bcff00"/><stop offset=".826" stop-color="#feff00"/><stop offset=".901" stop-color="#ffd600"/><stop offset="1" stop-color="#ff9700"/></linearGradient><linearGradient id="b6"><stop offset=".000" stop-color="#00fdff"/><stop offset=".212" stop-color="#00fffa"/><stop offset=".257" stop-color="#00fff5"/><stop offset=".284" stop-color="#00ffee"/><stop offset=".323" stop-color="#00ffd8"/><stop offset=".361" stop-color="#00ffb0"/><stop offset=".470" stop-color="#00ff18"/><stop offset=".472" stop-color="#00ff14"/><stop offset=".476" stop-color="#00ff00"/><stop offset=".668" stop-color="#01ff00"/><stop offset=".675" stop-color="#40ff00"/><stop offset=".677" stop-color="#46ff00"/><stop offset=".772" stop-color="#baff00"/><stop offset=".837" stop-color="#ffff00"/><stop offset="1" stop-color="#ff9c00"/></linearGradient><linearGradient id="b7"><stop offset=".000" stop-color="#00f6ff"/><stop offset=".212" stop-color="#00ffff"/><stop offset=".289" stop-color="#00fff2"/><stop offset=".325" stop-color="#00ffdd"/><stop offset=".361" stop-color="#00ffb8"/><stop offset=".445" stop-color="#00ff42"/><stop offset=".479" stop-color="#00ff17"/><stop offset=".483" stop-color="#00ff04"/><stop offset=".485" stop-color="#00ff00"/><stop offset=".677" stop-color="#00ff00"/><stop offset=".684" stop-color="#3eff00"/><stop offset=".686" stop-color="#46ff00"/><stop offset=".774" stop-color="#b2ff00"/><stop offset=".847" stop-color="#ffff00"/><stop offset="1" stop-color="#ffa100"/></linearGradient><linearGradient id="b8"><stop offset=".000" stop-color="#00efff"/><stop offset=".117" stop-color="#00f2ff"/><stop offset=".260" stop-color="#00ffff"/><stop offset=".293" stop-color="#00fff7"/><stop offset=".327" stop-color="#00ffe3"/><stop offset=".366" stop-color="#00ffba"/><stop offset=".447" stop-color="#00ff48"/><stop offset=".485" stop-color="#00ff17"/><stop offset=".492" stop-color="#00ff00"/><stop offset=".686" stop-color="#00ff00"/><stop offset=".693" stop-color="#3eff00"/><stop offset=".695" stop-color="#46ff00"/><stop offset=".777" stop-color="#abff00"/><stop offset=".856" stop-color="#ffff00"/><stop offset="1" stop-color="#ffa600"/></linearGradient><linearGradient id="b9"><stop offset=".000" stop-color="#00e8ff"/><stop offset=".124" stop-color="#00ecff"/><stop offset=".287" stop-color="#00ffff"/><stop offset=".298" stop-color="#00fffb"/><stop offset=".330" stop-color="#00ffe8"/><stop offset=".368" stop-color="#00ffbf"/><stop offset=".447" stop-color="#00ff52"/><stop offset=".492" stop-color="#00ff18"/><stop offset=".494" stop-color="#00ff14"/><stop offset=".499" stop-color="#00ff00"/><stop offset=".693" stop-color="#00ff00"/><stop offset=".695" stop-color="#02ff00"/><stop offset=".702" stop-color="#43ff00"/><stop offset=".704" stop-color="#47ff00"/><stop offset=".779" stop-color="#a4ff00"/><stop offset=".865" stop-color="#ffff00"/><stop offset="1" stop-color="#ffab00"/></linearGradient><linearGradient id="b10"><stop offset=".000" stop-color="#00e1ff"/><stop offset=".138" stop-color="#00e6ff"/><stop offset=".262" stop-color="#00f4ff"/><stop offset=".305" stop-color="#00ffff"/><stop offset=".336" stop-color="#00ffe9"/><stop offset=".375" stop-color="#00ffbe"/><stop offset=".499" stop-color="#00ff19"/><stop offset=".501" stop-color="#00ff15"/><stop offset=".506" stop-color="#00ff00"/><stop offset=".702" stop-color="#00ff00"/><stop offset=".704" stop-color="#0cff00"/><stop offset=".709" stop-color="#39ff00"/><stop offset=".711" stop-color="#46ff00"/><stop offset=".783" stop-color="#a0ff00"/><stop offset=".874" stop-color="#ffff00"/><stop offset="1" stop-color="#ffb000"/></linearGradient><linearGradient id="b11"><stop offset=".000" stop-color="#00dbff"/><stop offset=".088" stop-color="#00dbff"/><stop offset=".194" stop-color="#00e6ff"/><stop offset=".278" stop-color="#00f1ff"/><stop offset=".318" stop-color="#00fffe"/><stop offset=".350" stop-color="#00ffe2"/><stop offset=".386" stop-color="#00ffb7"/><stop offset=".506" stop-color="#00ff19"/><stop offset=".508" stop-color="#00ff14"/><stop offset=".512" stop-color="#00ff00"/><stop offset=".709" stop-color="#00ff00"/><stop offset=".711" stop-color="#06ff00"/><stop offset=".716" stop-color="#34ff00"/><stop offset=".718" stop-color="#45ff00"/><stop offset=".788" stop-color="#9bff00"/><stop offset=".880" stop-color="#feff00"/><stop offset="1" stop-color="#ffb500"/></linearGradient><linearGradient id="b12"><stop offset=".000" stop-color="#00d4ff"/><stop offset=".102" stop-color="#00d5ff"/><stop offset=".251" stop-color="#00e7ff"/><stop offset=".296" stop-color="#00efff"/><stop offset=".325" stop-color="#00feff"/><stop offset=".354" stop-color="#00ffe4"/><stop offset=".393" stop-color="#00ffb6"/><stop offset=".512" stop-color="#00ff18"/><stop offset=".519" stop-color="#00ff00"/><stop offset=".716" stop-color="#00ff00"/><stop offset=".718" stop-color="#05ff00"/><stop offset=".725" stop-color="#45ff00"/><stop offset=".795" stop-color="#9aff00"/><stop offset=".889" stop-color="#ffff00"/><stop offset="1" stop-color="#ffba00"/></linearGradient><linearGradient id="b13"><stop offset=".000" stop-color="#00cdff"/><stop offset=".102" stop-color="#00ceff"/><stop offset=".257" stop-color="#00e1ff"/><stop offset=".300" stop-color="#00ebff"/><stop offset=".332" stop-color="#00feff"/><stop offset=".352" stop-color="#00ffed"/><stop offset=".381" stop-color="#00ffcb"/><stop offset=".503" stop-color="#00ff2c"/><stop offset=".519" stop-color="#00ff16"/><stop offset=".524" stop-color="#00ff00"/><stop offset=".722" stop-color="#00ff00"/><stop offset=".725" stop-color="#04ff00"/><stop offset=".731" stop-color="#44ff00"/><stop offset=".801" stop-color="#99ff00"/><stop offset=".896" stop-color="#feff00"/><stop offset="1" stop-color="#ffbe00"/></linearGradient><linearGradient id="b14"><stop offset=".000" stop-color="#00c5ff"/><stop offset=".104" stop-color="#00c8ff"/><stop offset=".262" stop-color="#00dcff"/><stop offset=".305" stop-color="#00e8ff"/><stop offset=".339" stop-color="#00feff"/><stop offset=".386" stop-color="#00ffcd"/><stop offset=".501" stop-color="#00ff36"/><stop offset=".524" stop-color="#00ff18"/><stop offset=".528" stop-color="#00ff05"/><stop offset=".530" stop-color="#00ff00"/><stop offset=".729" stop-color="#00ff00"/><stop offset=".731" stop-color="#03ff00"/><stop offset=".738" stop-color="#44ff00"/><stop offset=".806" stop-color="#95ff00"/><stop offset=".903" stop-color="#fdff00"/><stop offset="1" stop-color="#ffc300"/></linearGradient><linearGradient id="b15"><stop offset=".000" stop-color="#00bdff"/><stop offset=".108" stop-color="#00c1ff"/><stop offset=".264" stop-color="#00d6ff"/><stop offset=".309" stop-color="#00e4ff"/><stop offset=".345" stop-color="#00feff"/><stop offset=".393" stop-color="#00ffcc"/><stop offset=".503" stop-color="#00ff3b"/><stop offset=".528" stop-color="#00ff19"/><stop offset=".530" stop-color="#00ff14"/><stop offset=".535" stop-color="#00ff00"/><stop offset=".736" stop-color="#00ff00"/><stop offset=".738" stop-color="#01ff00"/><stop offset=".745" stop-color="#40ff00"/><stop offset=".747" stop-color="#46ff00"/><stop offset=".810" stop-color="#92ff00"/><stop offset=".912" stop-color="#ffff00"/><stop offset="1" stop-color="#ffc800"/></linearGradient><linearGradient id="b16"><stop offset=".000" stop-color="#00b5ff"/><stop offset=".115" stop-color="#00bbff"/><stop offset=".266" stop-color="#00d1ff"/><stop offset=".312" stop-color="#00e0ff"/><stop offset=".352" stop-color="#00ffff"/><stop offset=".397" stop-color="#00ffcd"/><stop offset=".499" stop-color="#00ff48"/><stop offset=".535" stop-color="#00ff17"/><stop offset=".540" stop-color="#00ff02"/><stop offset=".542" stop-color="#00ff00"/><stop offset=".745" stop-color="#00ff00"/><stop offset=".752" stop-color="#3dff00"/><stop offset=".754" stop-color="#46ff00"/><stop offset=".813" stop-color="#8dff00"/><stop offset=".919" stop-color="#ffff00"/><stop offset="1" stop-color="#ffcd00"/></linearGradient><linearGradient id="b17"><stop offset=".000" stop-color="#00adff"/><stop offset=".120" stop-color="#00b5ff"/><stop offset=".269" stop-color="#00ccff"/><stop offset=".316" stop-color="#00deff"/><stop offset=".359" stop-color="#00ffff"/><stop offset=".406" stop-color="#00ffc9"/><stop offset=".506" stop-color="#00ff46"/><stop offset=".540" stop-color="#00ff18"/><stop offset=".546" stop-color="#00ff00"/><stop offset=".752" stop-color="#00ff00"/><stop offset=".758" stop-color="#3dff00"/><stop offset=".761" stop-color="#46ff00"/><stop offset=".817" stop-color="#8aff00"/><stop offset=".926" stop-color="#ffff00"/><stop offset="1" stop-color="#ffd100"/></linearGradient><linearGradient id="b18"><stop offset=".000" stop-color="#00a5ff"/><stop offset=".126" stop-color="#00afff"/><stop offset=".269" stop-color="#00c6ff"/><stop offset=".318" stop-color="#00daff"/><stop offset=".366" stop-color="#00fffe"/><stop offset=".415" stop-color="#00ffc4"/><stop offset=".515" stop-color="#00ff41"/><stop offset=".544" stop-color="#00ff19"/><stop offset=".546" stop-color="#00ff15"/><stop offset=".551" stop-color="#00ff00"/><stop offset=".758" stop-color="#00ff00"/><stop offset=".765" stop-color="#41ff00"/><stop offset=".767" stop-color="#47ff00"/><stop offset=".819" stop-color="#85ff00"/><stop offset=".932" stop-color="#ffff00"/><stop offset="1" stop-color="#ffd600"/></linearGradient><linearGradient id="b19"><stop offset=".000" stop-color="#009eff"/><stop offset=".129" stop-color="#00a9ff"/><stop offset=".269" stop-color="#00c1ff"/><stop offset=".321" stop-color="#00d6ff"/><stop offset=".370" stop-color="#00feff"/><stop offset=".420" stop-color="#00ffc6"/><stop offset=".515" stop-color="#00ff48"/><stop offset=".551" stop-color="#00ff16"/><stop offset=".555" stop-color="#00ff01"/><stop offset=".763" stop-color="#00ff00"/><stop offset=".765" stop-color="#08ff00"/><stop offset=".770" stop-color="#34ff00"/><stop offset=".772" stop-color="#45ff00"/><stop offset=".847" stop-color="#9cff00"/><stop offset=".939" stop-color="#ffff00"/><stop offset="1" stop-color="#ffda00"/></linearGradient><linearGradient id="b20"><stop offset=".000" stop-color="#0097ff"/><stop offset=".131" stop-color="#00a3ff"/><stop offset=".269" stop-color="#00bbff"/><stop offset=".323" stop-color="#00d2ff"/><stop offset=".377" stop-color="#00ffff"/><stop offset=".445" stop-color="#00ffac"/><stop offset=".555" stop-color="#00ff17"/><stop offset=".560" stop-color="#00ff03"/><stop offset=".562" stop-color="#00ff00"/><stop offset=".770" stop-color="#00ff00"/><stop offset=".777" stop-color="#40ff00"/><stop offset=".779" stop-color="#46ff00"/><stop offset=".831" stop-color="#84ff00"/><stop offset=".946" stop-color="#ffff00"/><stop offset="1" stop-color="#ffde00"/></linearGradient><linearGradient id="b21"><stop offset=".000" stop-color="#0091ff"/><stop offset=".129" stop-color="#009cff"/><stop offset=".269" stop-color="#00b6ff"/><stop offset=".327" stop-color="#00d0ff"/><stop offset=".381" stop-color="#00feff"/><stop offset=".436" stop-color="#00ffbf"/><stop offset=".521" stop-color="#00ff4c"/><stop offset=".560" stop-color="#00ff17"/><stop offset=".564" stop-color="#00ff04"/><stop offset=".567" stop-color="#00ff00"/><stop offset=".774" stop-color="#00ff00"/><stop offset=".777" stop-color="#0cff00"/><stop offset=".781" stop-color="#37ff00"/><stop offset=".783" stop-color="#45ff00"/><stop offset=".822" stop-color="#73ff00"/><stop offset=".950" stop-color="#fdff00"/><stop offset="1" stop-color="#ffe300"/></linearGradient><linearGradient id="b22"><stop offset=".000" stop-color="#008dff"/><stop offset=".126" stop-color="#0096ff"/><stop offset=".269" stop-color="#00b1ff"/><stop offset=".330" stop-color="#00cdff"/><stop offset=".386" stop-color="#00feff"/><stop offset=".433" stop-color="#00ffc8"/><stop offset=".515" stop-color="#00ff5c"/><stop offset=".564" stop-color="#00ff17"/><stop offset=".569" stop-color="#00ff04"/><stop offset=".571" stop-color="#00ff00"/><stop offset=".779" stop-color="#00ff00"/><stop offset=".781" stop-color="#05ff00"/><stop offset=".788" stop-color="#44ff00"/><stop offset=".815" stop-color="#64ff00"/><stop offset=".957" stop-color="#fdff00"/><stop offset="1" stop-color="#ffe700"/></linearGradient><linearGradient id="b23"><stop offset=".000" stop-color="#0088ff"/><stop offset=".124" stop-color="#0090ff"/><stop offset=".269" stop-color="#00acff"/><stop offset=".332" stop-color="#00caff"/><stop offset=".361" stop-color="#00e0ff"/><stop offset=".393" stop-color="#00ffff"/><stop offset=".465" stop-color="#00ffa5"/><stop offset=".569" stop-color="#00ff17"/><stop offset=".573" stop-color="#00ff03"/><stop offset=".576" stop-color="#00ff00"/><stop offset=".786" stop-color="#00ff00"/><stop offset=".792" stop-color="#3dff00"/><stop offset=".795" stop-color="#46ff00"/><stop offset=".801" stop-color="#4eff00"/><stop offset=".860" stop-color="#90ff00"/><stop offset=".964" stop-color="#fdff00"/><stop offset="1" stop-color="#ffeb00"/></linearGradient><linearGradient id="b24"><stop offset=".000" stop-color="#0084ff"/><stop offset=".124" stop-color="#008bff"/><stop offset=".269" stop-color="#00a7ff"/><stop offset=".302" stop-color="#00b4ff"/><stop offset=".334" stop-color="#00c6ff"/><stop offset=".366" stop-color="#00dfff"/><stop offset=".397" stop-color="#00ffff"/><stop offset=".467" stop-color="#00ffa9"/><stop offset=".573" stop-color="#00ff17"/><stop offset=".578" stop-color="#00ff02"/><stop offset=".580" stop-color="#00ff00"/><stop offset=".790" stop-color="#00ff00"/><stop offset=".792" stop-color="#0cff00"/><stop offset=".799" stop-color="#45ff00"/><stop offset=".865" stop-color="#8fff00"/><stop offset=".971" stop-color="#fdff00"/><stop offset="1" stop-color="#ffef00"/></linearGradient><linearGradient id="b25"><stop offset=".000" stop-color="#0080ff"/><stop offset=".122" stop-color="#0085ff"/><stop offset=".266" stop-color="#00a2ff"/><stop offset=".305" stop-color="#00b1ff"/><stop offset=".336" stop-color="#00c3ff"/><stop offset=".368" stop-color="#00dcff"/><stop offset=".402" stop-color="#00feff"/><stop offset=".470" stop-color="#00ffac"/><stop offset=".578" stop-color="#00ff16"/><stop offset=".582" stop-color="#00ff00"/><stop offset=".795" stop-color="#00ff00"/><stop offset=".797" stop-color="#05ff00"/><stop offset=".804" stop-color="#42ff00"/><stop offset=".806" stop-color="#46ff00"/><stop offset=".874" stop-color="#93ff00"/><stop offset=".977" stop-color="#fdff00"/><stop offset="1" stop-color="#fff300"/></linearGradient><linearGradient id="b26"><stop offset=".000" stop-color="#007cff"/><stop offset=".122" stop-color="#0081ff"/><stop offset=".269" stop-color="#009eff"/><stop offset=".307" stop-color="#00adff"/><stop offset=".339" stop-color="#00c0ff"/><stop offset=".372" stop-color="#00dcff"/><stop offset=".406" stop-color="#00feff"/><stop offset=".472" stop-color="#00ffaf"/><stop offset=".580" stop-color="#00ff19"/><stop offset=".582" stop-color="#00ff15"/><stop offset=".587" stop-color="#00ff00"/><stop offset=".801" stop-color="#00ff00"/><stop offset=".808" stop-color="#3cff00"/><stop offset=".810" stop-color="#46ff00"/><stop offset=".880" stop-color="#95ff00"/><stop offset=".984" stop-color="#fdff00"/><stop offset="1" stop-color="#fff700"/></linearGradient><linearGradient id="b27"><stop offset=".000" stop-color="#0078ff"/><stop offset=".122" stop-color="#007cff"/><stop offset=".214" stop-color="#008cff"/><stop offset=".269" stop-color="#009aff"/><stop offset=".307" stop-color="#00a9ff"/><stop offset=".341" stop-color="#00bdff"/><stop offset=".375" stop-color="#00d9ff"/><stop offset=".411" stop-color="#00feff"/><stop offset=".474" stop-color="#00ffb1"/><stop offset=".585" stop-color="#00ff18"/><stop offset=".591" stop-color="#00ff00"/><stop offset=".806" stop-color="#00ff00"/><stop offset=".808" stop-color="#0fff00"/><stop offset=".813" stop-color="#38ff00"/><stop offset=".815" stop-color="#45ff00"/><stop offset=".914" stop-color="#b2ff00"/><stop offset=".991" stop-color="#feff00"/><stop offset="1" stop-color="#fffa00"/></linearGradient><linearGradient id="b28"><stop offset=".000" stop-color="#0074ff"/><stop offset=".124" stop-color="#0079ff"/><stop offset=".214" stop-color="#0087ff"/><stop offset=".271" stop-color="#0096ff"/><stop offset=".309" stop-color="#00a6ff"/><stop offset=".343" stop-color="#00baff"/><stop offset=".377" stop-color="#00d6ff"/><stop offset=".415" stop-color="#00feff"/><stop offset=".476" stop-color="#00ffb4"/><stop offset=".589" stop-color="#00ff18"/><stop offset=".596" stop-color="#00ff00"/><stop offset=".810" stop-color="#00ff00"/><stop offset=".813" stop-color="#0eff00"/><stop offset=".817" stop-color="#38ff00"/><stop offset=".819" stop-color="#45ff00"/><stop offset=".894" stop-color="#98ff00"/><stop offset="1" stop-color="#fffd00"/></linearGradient><linearGradient id="b29"><stop offset=".000" stop-color="#0070ff"/><stop offset=".126" stop-color="#0075ff"/><stop offset=".217" stop-color="#0083ff"/><stop offset=".273" stop-color="#0093ff"/><stop offset=".312" stop-color="#00a3ff"/><stop offset=".345" stop-color="#00b7ff"/><stop offset=".381" stop-color="#00d6ff"/><stop offset=".420" stop-color="#00feff"/><stop offset=".479" stop-color="#00ffb7"/><stop offset=".594" stop-color="#00ff17"/><stop offset=".598" stop-color="#00ff03"/><stop offset=".600" stop-color="#00ff00"/><stop offset=".815" stop-color="#00ff00"/><stop offset=".817" stop-color="#10ff00"/><stop offset=".822" stop-color="#39ff00"/><stop offset=".824" stop-color="#45ff00"/><stop offset=".885" stop-color="#8aff00"/><stop offset="1" stop-color="#feff00"/></linearGradient><linearGradient id="b30"><stop offset=".000" stop-color="#006dff"/><stop offset=".131" stop-color="#0072ff"/><stop offset=".219" stop-color="#0080ff"/><stop offset=".278" stop-color="#0091ff"/><stop offset=".316" stop-color="#00a1ff"/><stop offset=".350" stop-color="#00b6ff"/><stop offset=".386" stop-color="#00d5ff"/><stop offset=".424" stop-color="#00feff"/><stop offset=".479" stop-color="#00ffbc"/><stop offset=".598" stop-color="#00ff16"/><stop offset=".603" stop-color="#00ff00"/><stop offset=".819" stop-color="#00ff00"/><stop offset=".826" stop-color="#3cff00"/><stop offset=".828" stop-color="#46ff00"/><stop offset=".885" stop-color="#85ff00"/><stop offset="1" stop-color="#f9ff00"/></linearGradient><linearGradient id="b31"><stop offset=".000" stop-color="#0069ff"/><stop offset=".140" stop-color="#0070ff"/><stop offset=".223" stop-color="#007dff"/><stop offset=".284" stop-color="#008fff"/><stop offset=".321" stop-color="#009fff"/><stop offset=".354" stop-color="#00b5ff"/><stop offset=".388" stop-color="#00d3ff"/><stop offset=".429" stop-color="#00feff"/><stop offset=".481" stop-color="#00ffbf"/><stop offset=".600" stop-color="#00ff18"/><stop offset=".607" stop-color="#00ff00"/><stop offset=".822" stop-color="#00ff00"/><stop offset=".824" stop-color="#03ff00"/><stop offset=".831" stop-color="#41ff00"/><stop offset=".833" stop-color="#46ff00"/><stop offset=".885" stop-color="#81ff00"/><stop offset="1" stop-color="#f5ff00"/></linearGradient><linearGradient id="b32"><stop offset=".000" stop-color="#0066ff"/><stop offset=".156" stop-color="#006fff"/><stop offset=".228" stop-color="#007bff"/><stop offset=".289" stop-color="#008dff"/><stop offset=".323" stop-color="#009cff"/><stop offset=".357" stop-color="#00b2ff"/><stop offset=".393" stop-color="#00d2ff"/><stop offset=".433" stop-color="#00feff"/><stop offset=".483" stop-color="#00ffc1"/><stop offset=".605" stop-color="#00ff17"/><stop offset=".609" stop-color="#00ff04"/><stop offset=".612" stop-color="#00ff00"/><stop offset=".826" stop-color="#00ff00"/><stop offset=".828" stop-color="#09ff00"/><stop offset=".835" stop-color="#44ff00"/><stop offset=".885" stop-color="#7cff00"/><stop offset="1" stop-color="#f1ff00"/></linearGradient><linearGradient id="b33"><stop offset=".000" stop-color="#0063ff"/><stop offset=".099" stop-color="#0066ff"/><stop offset=".174" stop-color="#006eff"/><stop offset=".233" stop-color="#0079ff"/><stop offset=".293" stop-color="#008bff"/><stop offset=".327" stop-color="#009aff"/><stop offset=".361" stop-color="#00b2ff"/><stop offset=".397" stop-color="#00d2ff"/><stop offset=".438" stop-color="#00feff"/><stop offset=".485" stop-color="#00ffc3"/><stop offset=".609" stop-color="#00ff16"/><stop offset=".614" stop-color="#00ff00"/><stop offset=".831" stop-color="#00ff00"/><stop offset=".833" stop-color="#0fff00"/><stop offset=".837" stop-color="#38ff00"/><stop offset=".840" stop-color="#45ff00"/><stop offset=".887" stop-color="#7aff00"/><stop offset="1" stop-color="#eeff00"/></linearGradient><linearGradient id="b34"><stop offset=".000" stop-color="#0060ff"/><stop offset=".176" stop-color="#006cff"/><stop offset=".233" stop-color="#0076ff"/><stop offset=".296" stop-color="#0088ff"/><stop offset=".330" stop-color="#0098ff"/><stop offset=".366" stop-color="#00b1ff"/><stop offset=".402" stop-color="#00d2ff"/><stop offset=".442" stop-color="#00feff"/><stop offset=".488" stop-color="#00ffc5"/><stop offset=".612" stop-color="#00ff18"/><stop offset=".619" stop-color="#00ff00"/><stop offset=".833" stop-color="#00ff00"/><stop offset=".835" stop-color="#01ff00"/><stop offset=".842" stop-color="#3fff00"/><stop offset=".844" stop-color="#46ff00"/><stop offset="1" stop-color="#ebff00"/></linearGradient><linearGradient id="b35"><stop offset=".000" stop-color="#005dff"/><stop offset=".181" stop-color="#006aff"/><stop offset=".235" stop-color="#0073ff"/><stop offset=".300" stop-color="#0086ff"/><stop offset=".334" stop-color="#0096ff"/><stop offset=".370" stop-color="#00b0ff"/><stop offset=".406" stop-color="#00d2ff"/><stop offset=".447" stop-color="#00ffff"/><stop offset=".492" stop-color="#00ffc4"/><stop offset=".616" stop-color="#00ff17"/><stop offset=".621" stop-color="#00ff03"/><stop offset=".623" stop-color="#00ff00"/><stop offset=".837" stop-color="#00ff00"/><stop offset=".840" stop-color="#09ff00"/><stop offset=".847" stop-color="#44ff00"/><stop offset="1" stop-color="#e8ff00"/></linearGradient><linearGradient id="b36"><stop offset=".000" stop-color="#005aff"/><stop offset=".183" stop-color="#0067ff"/><stop offset=".300" stop-color="#0082ff"/><stop offset=".334" stop-color="#0093ff"/><stop offset=".372" stop-color="#00aeff"/><stop offset=".411" stop-color="#00d2ff"/><stop offset=".451" stop-color="#00ffff"/><stop offset=".619" stop-color="#00ff18"/><stop offset=".621" stop-color="#00ff14"/><stop offset=".625" stop-color="#00ff00"/><stop offset=".842" stop-color="#00ff00"/><stop offset=".849" stop-color="#3aff00"/><stop offset=".851" stop-color="#45ff00"/><stop offset="1" stop-color="#e5ff00"/></linearGradient><linearGradient id="b37"><stop offset=".000" stop-color="#0057ff"/><stop offset=".185" stop-color="#0065ff"/><stop offset=".302" stop-color="#007fff"/><stop offset=".339" stop-color="#0092ff"/><stop offset=".377" stop-color="#00aeff"/><stop offset=".415" stop-color="#00d2ff"/><stop offset=".454" stop-color="#00fdff"/><stop offset=".490" stop-color="#00ffd1"/><stop offset=".623" stop-color="#00ff17"/><stop offset=".630" stop-color="#00ff00"/><stop offset=".844" stop-color="#00ff00"/><stop offset=".847" stop-color="#06ff00"/><stop offset=".853" stop-color="#44ff00"/><stop offset="1" stop-color="#e2ff00"/></linearGradient><linearGradient id="b38"><stop offset=".000" stop-color="#0055ff"/><stop offset=".187" stop-color="#0063ff"/><stop offset=".302" stop-color="#007cff"/><stop offset=".341" stop-color="#0090ff"/><stop offset=".379" stop-color="#00abff"/><stop offset=".418" stop-color="#00d0ff"/><stop offset=".458" stop-color="#00feff"/><stop offset=".628" stop-color="#00ff16"/><stop offset=".632" stop-color="#00ff01"/><stop offset=".849" stop-color="#00ff00"/><stop offset=".856" stop-color="#3aff00"/><stop offset=".858" stop-color="#45ff00"/><stop offset="1" stop-color="#dfff00"/></linearGradient><linearGradient id="b39"><stop offset=".000" stop-color="#0052ff"/><stop offset=".190" stop-color="#0061ff"/><stop offset=".302" stop-color="#0079ff"/><stop offset=".343" stop-color="#008eff"/><stop offset=".381" stop-color="#00a9ff"/><stop offset=".420" stop-color="#00ceff"/><stop offset=".463" stop-color="#00ffff"/><stop offset=".630" stop-color="#00ff18"/><stop offset=".637" stop-color="#00ff00"/><stop offset=".851" stop-color="#00ff00"/><stop offset=".853" stop-color="#07ff00"/><stop offset=".860" stop-color="#44ff00"/><stop offset="1" stop-color="#ddff00"/></linearGradient><linearGradient id="b40"><stop offset=".000" stop-color="#0050ff"/><stop offset=".194" stop-color="#0060ff"/><stop offset=".305" stop-color="#0077ff"/><stop offset=".345" stop-color="#008bff"/><stop offset=".384" stop-color="#00a7ff"/><stop offset=".422" stop-color="#00ccff"/><stop offset=".465" stop-color="#00feff"/><stop offset=".634" stop-color="#00ff17"/><stop offset=".639" stop-color="#00ff03"/><stop offset=".641" stop-color="#00ff00"/><stop offset=".856" stop-color="#00ff00"/><stop offset=".862" stop-color="#3cff00"/><stop offset=".865" stop-color="#46ff00"/><stop offset="1" stop-color="#daff00"/></linearGradient><linearGradient id="b41"><stop offset=".000" stop-color="#004dff"/><stop offset=".199" stop-color="#005eff"/><stop offset=".307" stop-color="#0075ff"/><stop offset=".350" stop-color="#008bff"/><stop offset=".386" stop-color="#00a5ff"/><stop offset=".427" stop-color="#00ccff"/><stop offset=".470" stop-color="#00ffff"/><stop offset=".637" stop-color="#00ff19"/><stop offset=".639" stop-color="#00ff14"/><stop offset=".643" stop-color="#00ff00"/><stop offset=".858" stop-color="#00ff00"/><stop offset=".860" stop-color="#0aff00"/><stop offset=".867" stop-color="#44ff00"/><stop offset="1" stop-color="#d8ff00"/></linearGradient><linearGradient id="b42"><stop offset=".000" stop-color="#004aff"/><stop offset=".201" stop-color="#005cff"/><stop offset=".307" stop-color="#0073ff"/><stop offset=".350" stop-color="#0087ff"/><stop offset=".388" stop-color="#00a3ff"/><stop offset=".429" stop-color="#00caff"/><stop offset=".472" stop-color="#00fdff"/><stop offset=".641" stop-color="#00ff17"/><stop offset=".648" stop-color="#00ff00"/><stop offset=".860" stop-color="#00ff00"/><stop offset=".862" stop-color="#01ff00"/><stop offset=".869" stop-color="#3fff00"/><stop offset=".871" stop-color="#46ff00"/><stop offset="1" stop-color="#d5ff00"/></linearGradient><linearGradient id="b43"><stop offset=".000" stop-color="#0048ff"/><stop offset=".208" stop-color="#005bff"/><stop offset=".269" stop-color="#0065ff"/><stop offset=".312" stop-color="#0072ff"/><stop offset=".354" stop-color="#0086ff"/><stop offset=".391" stop-color="#00a1ff"/><stop offset=".431" stop-color="#00c8ff"/><stop offset=".476" stop-color="#00feff"/><stop offset=".646" stop-color="#00ff16"/><stop offset=".650" stop-color="#00ff02"/><stop offset=".652" stop-color="#00ff00"/><stop offset=".865" stop-color="#00ff00"/><stop offset=".867" stop-color="#0dff00"/><stop offset=".871" stop-color="#36ff00"/><stop offset=".874" stop-color="#45ff00"/><stop offset="1" stop-color="#d3ff00"/></linearGradient><linearGradient id="b44"><stop offset=".000" stop-color="#0045ff"/><stop offset=".212" stop-color="#0059ff"/><stop offset=".314" stop-color="#0070ff"/><stop offset=".357" stop-color="#0084ff"/><stop offset=".393" stop-color="#009fff"/><stop offset=".433" stop-color="#00c6ff"/><stop offset=".479" stop-color="#00fdff"/><stop offset=".648" stop-color="#00ff18"/><stop offset=".655" stop-color="#00ff00"/><stop offset=".867" stop-color="#00ff00"/><stop offset=".869" stop-color="#03ff00"/><stop offset=".876" stop-color="#41ff00"/><stop offset=".878" stop-color="#46ff00"/><stop offset="1" stop-color="#d1ff00"/></linearGradient><linearGradient id="b45"><stop offset=".000" stop-color="#0043ff"/><stop offset=".219" stop-color="#0058ff"/><stop offset=".278" stop-color="#0062ff"/><stop offset=".321" stop-color="#0070ff"/><stop offset=".361" stop-color="#0083ff"/><stop offset=".397" stop-color="#009fff"/><stop offset=".438" stop-color="#00c7ff"/><stop offset=".483" stop-color="#00feff"/><stop offset=".652" stop-color="#00ff17"/><stop offset=".657" stop-color="#00ff04"/><stop offset=".659" stop-color="#00ff00"/><stop offset=".871" stop-color="#00ff00"/><stop offset=".874" stop-color="#0eff00"/><stop offset=".878" stop-color="#37ff00"/><stop offset=".880" stop-color="#45ff00"/><stop offset="1" stop-color="#ceff00"/></linearGradient><linearGradient id="b46"><stop offset=".000" stop-color="#0040ff"/><stop offset=".223" stop-color="#0057ff"/><stop offset=".280" stop-color="#0061ff"/><stop offset=".323" stop-color="#006eff"/><stop offset=".361" stop-color="#0080ff"/><stop offset=".400" stop-color="#009dff"/><stop offset=".440" stop-color="#00c5ff"/><stop offset=".485" stop-color="#00fdff"/><stop offset=".655" stop-color="#00ff18"/><stop offset=".657" stop-color="#00ff14"/><stop offset=".661" stop-color="#00ff00"/><stop offset=".874" stop-color="#00ff00"/><stop offset=".876" stop-color="#03ff00"/><stop offset=".883" stop-color="#41ff00"/><stop offset=".885" stop-color="#46ff00"/><stop offset="1" stop-color="#ccff00"/></linearGradient><linearGradient id="b47"><stop offset=".000" stop-color="#003dff"/><stop offset=".228" stop-color="#0055ff"/><stop offset=".284" stop-color="#005fff"/><stop offset=".330" stop-color="#006eff"/><stop offset=".368" stop-color="#0081ff"/><stop offset=".406" stop-color="#009fff"/><stop offset=".445" stop-color="#00c6ff"/><stop offset=".490" stop-color="#00ffff"/><stop offset=".659" stop-color="#00ff17"/><stop offset=".664" stop-color="#00ff05"/><stop offset=".666" stop-color="#00ff00"/><stop offset=".878" stop-color="#00ff00"/><stop offset=".880" stop-color="#0eff00"/><stop offset=".885" stop-color="#38ff00"/><stop offset=".887" stop-color="#45ff00"/><stop offset="1" stop-color="#caff00"/></linearGradient><linearGradient id="b48"><stop offset=".000" stop-color="#003aff"/><stop offset=".230" stop-color="#0053ff"/><stop offset=".287" stop-color="#005eff"/><stop offset=".332" stop-color="#006cff"/><stop offset=".370" stop-color="#007fff"/><stop offset=".409" stop-color="#009dff"/><stop offset=".447" stop-color="#00c4ff"/><stop offset=".492" stop-color="#00fdff"/><stop offset=".661" stop-color="#00ff19"/><stop offset=".664" stop-color="#00ff15"/><stop offset=".668" stop-color="#00ff00"/><stop offset=".880" stop-color="#00ff00"/><stop offset=".883" stop-color="#04ff00"/><stop offset=".889" stop-color="#43ff00"/><stop offset="1" stop-color="#c7ff00"/></linearGradient><linearGradient id="b49"><stop offset=".000" stop-color="#0037ff"/><stop offset=".233" stop-color="#0051ff"/><stop offset=".291" stop-color="#005dff"/><stop offset=".336" stop-color="#006bff"/><stop offset=".375" stop-color="#007fff"/><stop offset=".413" stop-color="#009dff"/><stop offset=".451" stop-color="#00c5ff"/><stop offset=".497" stop-color="#00ffff"/><stop offset=".666" stop-color="#00ff17"/><stop offset=".670" stop-color="#00ff05"/><stop offset=".673" stop-color="#00ff00"/><stop offset=".885" stop-color="#00ff00"/><stop offset=".887" stop-color="#10ff00"/><stop offset=".892" stop-color="#3bff00"/><stop offset=".894" stop-color="#46ff00"/><stop offset="1" stop-color="#c5ff00"/></linearGradient><linearGradient id="b50"><stop offset=".000" stop-color="#0034ff"/><stop offset=".230" stop-color="#004fff"/><stop offset=".293" stop-color="#005bff"/><stop offset=".339" stop-color="#0069ff"/><stop offset=".377" stop-color="#007dff"/><stop offset=".415" stop-color="#009bff"/><stop offset=".454" stop-color="#00c4ff"/><stop offset=".499" stop-color="#00fdff"/><stop offset=".668" stop-color="#00ff19"/><stop offset=".670" stop-color="#00ff15"/><stop offset=".675" stop-color="#00ff00"/><stop offset=".887" stop-color="#00ff00"/><stop offset=".889" stop-color="#07ff00"/><stop offset=".896" stop-color="#45ff00"/><stop offset="1" stop-color="#c2ff00"/></linearGradient><linearGradient id="b51"><stop offset=".000" stop-color="#0030ff"/><stop offset=".113" stop-color="#003bff"/><stop offset=".228" stop-color="#004cff"/><stop offset=".293" stop-color="#0059ff"/><stop offset=".341" stop-color="#0068ff"/><stop offset=".381" stop-color="#007dff"/><stop offset=".418" stop-color="#0099ff"/><stop offset=".456" stop-color="#00c2ff"/><stop offset=".503" stop-color="#00feff"/><stop offset=".673" stop-color="#00ff17"/><stop offset=".677" stop-color="#00ff04"/><stop offset=".679" stop-color="#00ff00"/><stop offset=".892" stop-color="#00ff00"/><stop offset=".898" stop-color="#40ff00"/><stop offset=".901" stop-color="#46ff00"/><stop offset="1" stop-color="#c0ff00"/></linearGradient><linearGradient id="b52"><stop offset=".000" stop-color="#002cff"/><stop offset=".111" stop-color="#0036ff"/><stop offset=".221" stop-color="#0048ff"/><stop offset=".296" stop-color="#0057ff"/><stop offset=".345" stop-color="#0067ff"/><stop offset=".386" stop-color="#007dff"/><stop offset=".422" stop-color="#0099ff"/><stop offset=".458" stop-color="#00c0ff"/><stop offset=".508" stop-color="#00fffe"/><stop offset=".675" stop-color="#00ff19"/><stop offset=".677" stop-color="#00ff15"/><stop offset=".682" stop-color="#00ff00"/><stop offset=".894" stop-color="#00ff00"/><stop offset=".896" stop-color="#0dff00"/><stop offset=".901" stop-color="#39ff00"/><stop offset=".903" stop-color="#46ff00"/><stop offset="1" stop-color="#bdff00"/></linearGradient><linearGradient id="b53"><stop offset=".000" stop-color="#0029ff"/><stop offset=".122" stop-color="#0034ff"/><stop offset=".282" stop-color="#0052ff"/><stop offset=".348" stop-color="#0065ff"/><stop offset=".388" stop-color="#007bff"/><stop offset=".424" stop-color="#0098ff"/><stop offset=".463" stop-color="#00c1ff"/><stop offset=".510" stop-color="#00feff"/><stop offset=".679" stop-color="#00ff17"/><stop offset=".686" stop-color="#00ff00"/><stop offset=".896" stop-color="#00ff00"/><stop offset=".898" stop-color="#05ff00"/><stop offset=".905" stop-color="#45ff00"/><stop offset="1" stop-color="#bbff00"/></linearGradient><linearGradient id="b54"><stop offset=".000" stop-color="#0028ff"/><stop offset=".115" stop-color="#002eff"/><stop offset=".287" stop-color="#0050ff"/><stop offset=".350" stop-color="#0064ff"/><stop offset=".391" stop-color="#0079ff"/><stop offset=".427" stop-color="#0096ff"/><stop offset=".465" stop-color="#00bfff"/><stop offset=".515" stop-color="#00ffff"/><stop offset=".682" stop-color="#00ff19"/><stop offset=".684" stop-color="#00ff15"/><stop offset=".688" stop-color="#00ff00"/><stop offset=".901" stop-color="#00ff00"/><stop offset=".907" stop-color="#44ff00"/><stop offset="1" stop-color="#b8ff00"/></linearGradient><linearGradient id="b55"><stop offset=".000" stop-color="#0028ff"/><stop offset=".113" stop-color="#0028ff"/><stop offset=".293" stop-color="#0050ff"/><stop offset=".352" stop-color="#0062ff"/><stop offset=".393" stop-color="#0077ff"/><stop offset=".429" stop-color="#0094ff"/><stop offset=".467" stop-color="#00bdff"/><stop offset=".517" stop-color="#00fdff"/><stop offset=".686" stop-color="#00ff17"/><stop offset=".693" stop-color="#00ff00"/><stop offset=".903" stop-color="#00ff00"/><stop offset=".905" stop-color="#11ff00"/><stop offset=".910" stop-color="#3fff00"/><stop offset=".912" stop-color="#46ff00"/><stop offset="1" stop-color="#b5ff00"/></linearGradient><linearGradient id="b56"><stop offset=".000" stop-color="#0028ff"/><stop offset=".133" stop-color="#0028ff"/><stop offset=".302" stop-color="#0050ff"/><stop offset=".354" stop-color="#0060ff"/><stop offset=".395" stop-color="#0075ff"/><stop offset=".431" stop-color="#0092ff"/><stop offset=".470" stop-color="#00bbff"/><stop offset=".521" stop-color="#00feff"/><stop offset=".691" stop-color="#00ff16"/><stop offset=".695" stop-color="#00ff02"/><stop offset=".698" stop-color="#00ff00"/><stop offset=".905" stop-color="#00ff00"/><stop offset=".907" stop-color="#0cff00"/><stop offset=".912" stop-color="#3bff00"/><stop offset=".914" stop-color="#46ff00"/><stop offset="1" stop-color="#b2ff00"/></linearGradient><linearGradient id="b57"><stop offset=".000" stop-color="#0028ff"/><stop offset=".151" stop-color="#0028ff"/><stop offset=".357" stop-color="#005fff"/><stop offset=".400" stop-color="#0075ff"/><stop offset=".436" stop-color="#0092ff"/><stop offset=".474" stop-color="#00bcff"/><stop offset=".526" stop-color="#00ffff"/><stop offset=".693" stop-color="#00ff18"/><stop offset=".695" stop-color="#00ff13"/><stop offset=".700" stop-color="#00ff00"/><stop offset=".907" stop-color="#00ff00"/><stop offset=".910" stop-color="#07ff00"/><stop offset=".914" stop-color="#37ff00"/><stop offset=".916" stop-color="#45ff00"/><stop offset="1" stop-color="#afff00"/></linearGradient><linearGradient id="b58"><stop offset=".000" stop-color="#0028ff"/><stop offset=".167" stop-color="#0028ff"/><stop offset=".359" stop-color="#005dff"/><stop offset=".402" stop-color="#0073ff"/><stop offset=".438" stop-color="#0090ff"/><stop offset=".476" stop-color="#00baff"/><stop offset=".528" stop-color="#00fdff"/><stop offset=".698" stop-color="#00ff17"/><stop offset=".704" stop-color="#00ff00"/><stop offset=".910" stop-color="#00ff00"/><stop offset=".912" stop-color="#03ff00"/><stop offset=".916" stop-color="#33ff00"/><stop offset=".919" stop-color="#45ff00"/><stop offset="1" stop-color="#acff00"/></linearGradient><linearGradient id="b59"><stop offset=".000" stop-color="#0028ff"/><stop offset=".185" stop-color="#0028ff"/><stop offset=".361" stop-color="#005cff"/><stop offset=".404" stop-color="#0072ff"/><stop offset=".440" stop-color="#008eff"/><stop offset=".481" stop-color="#00baff"/><stop offset=".533" stop-color="#00feff"/><stop offset=".702" stop-color="#00ff17"/><stop offset=".709" stop-color="#00ff00"/><stop offset=".914" stop-color="#00ff00"/><stop offset=".921" stop-color="#44ff00"/><stop offset="1" stop-color="#a8ff00"/></linearGradient><linearGradient id="b60"><stop offset=".000" stop-color="#0028ff"/><stop offset=".199" stop-color="#0028ff"/><stop offset=".363" stop-color="#005aff"/><stop offset=".406" stop-color="#0070ff"/><stop offset=".445" stop-color="#008eff"/><stop offset=".483" stop-color="#00b8ff"/><stop offset=".535" stop-color="#00fdff"/><stop offset=".707" stop-color="#00ff17"/><stop offset=".711" stop-color="#00ff04"/><stop offset=".713" stop-color="#00ff00"/><stop offset=".916" stop-color="#00ff00"/><stop offset=".919" stop-color="#11ff00"/><stop offset=".923" stop-color="#41ff00"/><stop offset=".926" stop-color="#47ff00"/><stop offset="1" stop-color="#a4ff00"/></linearGradient><linearGradient id="b61"><stop offset=".000" stop-color="#0028ff"/><stop offset=".210" stop-color="#0028ff"/><stop offset=".366" stop-color="#0059ff"/><stop offset=".409" stop-color="#006eff"/><stop offset=".447" stop-color="#008cff"/><stop offset=".488" stop-color="#00b9ff"/><stop offset=".540" stop-color="#00feff"/><stop offset=".650" stop-color="#00ff66"/><stop offset=".711" stop-color="#00ff16"/><stop offset=".716" stop-color="#00ff03"/><stop offset=".718" stop-color="#00ff00"/><stop offset=".919" stop-color="#00ff00"/><stop offset=".921" stop-color="#0bff00"/><stop offset=".926" stop-color="#3bff00"/><stop offset=".928" stop-color="#46ff00"/><stop offset="1" stop-color="#a0ff00"/></linearGradient><linearGradient id="b62"><stop offset=".000" stop-color="#0028ff"/><stop offset=".221" stop-color="#0028ff"/><stop offset=".366" stop-color="#0056ff"/><stop offset=".411" stop-color="#006dff"/><stop offset=".449" stop-color="#008aff"/><stop offset=".490" stop-color="#00b7ff"/><stop offset=".544" stop-color="#00ffff"/><stop offset=".648" stop-color="#00ff6e"/><stop offset=".716" stop-color="#00ff16"/><stop offset=".720" stop-color="#00ff02"/><stop offset=".722" stop-color="#00ff00"/><stop offset=".921" stop-color="#00ff00"/><stop offset=".923" stop-color="#03ff00"/><stop offset=".928" stop-color="#34ff00"/><stop offset=".930" stop-color="#45ff00"/><stop offset="1" stop-color="#9cff00"/></linearGradient><linearGradient id="b63"><stop offset=".000" stop-color="#0028ff"/><stop offset=".233" stop-color="#0028ff"/><stop offset=".368" stop-color="#0055ff"/><stop offset=".413" stop-color="#006bff"/><stop offset=".451" stop-color="#0089ff"/><stop offset=".492" stop-color="#00b5ff"/><stop offset=".546" stop-color="#00fdff"/><stop offset=".655" stop-color="#00ff6a"/><stop offset=".718" stop-color="#00ff18"/><stop offset=".720" stop-color="#00ff15"/><stop offset=".725" stop-color="#00ff00"/><stop offset=".926" stop-color="#00ff00"/><stop offset=".928" stop-color="#12ff00"/><stop offset=".932" stop-color="#41ff00"/><stop offset=".935" stop-color="#47ff00"/><stop offset="1" stop-color="#98ff00"/></linearGradient><linearGradient id="b64"><stop offset=".000" stop-color="#0028ff"/><stop offset=".244" stop-color="#0028ff"/><stop offset=".368" stop-color="#0052ff"/><stop offset=".415" stop-color="#0069ff"/><stop offset=".454" stop-color="#0087ff"/><stop offset=".494" stop-color="#00b4ff"/><stop offset=".551" stop-color="#00ffff"/><stop offset=".652" stop-color="#00ff72"/><stop offset=".722" stop-color="#00ff18"/><stop offset=".725" stop-color="#00ff13"/><stop offset=".729" stop-color="#00ff00"/><stop offset=".928" stop-color="#00ff00"/><stop offset=".930" stop-color="#05ff00"/><stop offset=".935" stop-color="#33ff00"/><stop offset=".937" stop-color="#45ff00"/><stop offset="1" stop-color="#94ff00"/></linearGradient><linearGradient id="b65"><stop offset=".000" stop-color="#0028ff"/><stop offset=".253" stop-color="#0028ff"/><stop offset=".368" stop-color="#0050ff"/><stop offset=".415" stop-color="#0067ff"/><stop offset=".456" stop-color="#0085ff"/><stop offset=".497" stop-color="#00b2ff"/><stop offset=".553" stop-color="#00fdff"/><stop offset=".661" stop-color="#00ff6c"/><stop offset=".727" stop-color="#00ff18"/><stop offset=".734" stop-color="#00ff00"/><stop offset=".932" stop-color="#00ff00"/><stop offset=".935" stop-color="#08ff00"/><stop offset=".939" stop-color="#34ff00"/><stop offset=".941" stop-color="#45ff00"/><stop offset="1" stop-color="#8fff00"/></linearGradient><linearGradient id="b66"><stop offset=".000" stop-color="#0028ff"/><stop offset=".262" stop-color="#0028ff"/><stop offset=".368" stop-color="#004eff"/><stop offset=".418" stop-color="#0065ff"/><stop offset=".458" stop-color="#0083ff"/><stop offset=".501" stop-color="#00b3ff"/><stop offset=".558" stop-color="#00feff"/><stop offset=".659" stop-color="#00ff74"/><stop offset=".731" stop-color="#00ff17"/><stop offset=".738" stop-color="#00ff00"/><stop offset=".937" stop-color="#00ff00"/><stop offset=".939" stop-color="#03ff00"/><stop offset=".946" stop-color="#42ff00"/><stop offset="1" stop-color="#8aff00"/></linearGradient><linearGradient id="b67"><stop offset=".000" stop-color="#0028ff"/><stop offset=".271" stop-color="#0028ff"/><stop offset=".368" stop-color="#004bff"/><stop offset=".420" stop-color="#0064ff"/><stop offset=".460" stop-color="#0082ff"/><stop offset=".503" stop-color="#00b1ff"/><stop offset=".562" stop-color="#00ffff"/><stop offset=".657" stop-color="#00ff7c"/><stop offset=".736" stop-color="#00ff17"/><stop offset=".743" stop-color="#00ff00"/><stop offset=".944" stop-color="#00ff00"/><stop offset=".946" stop-color="#0fff00"/><stop offset=".950" stop-color="#39ff00"/><stop offset=".953" stop-color="#45ff00"/><stop offset="1" stop-color="#85ff00"/></linearGradient><linearGradient id="b68"><stop offset=".000" stop-color="#0028ff"/><stop offset=".280" stop-color="#0028ff"/><stop offset=".363" stop-color="#0047ff"/><stop offset=".418" stop-color="#0060ff"/><stop offset=".460" stop-color="#007fff"/><stop offset=".503" stop-color="#00adff"/><stop offset=".564" stop-color="#00feff"/><stop offset=".668" stop-color="#00ff73"/><stop offset=".740" stop-color="#00ff17"/><stop offset=".745" stop-color="#00ff04"/><stop offset=".747" stop-color="#00ff00"/><stop offset=".948" stop-color="#00ff00"/><stop offset=".950" stop-color="#05ff00"/><stop offset=".957" stop-color="#44ff00"/><stop offset="1" stop-color="#80ff00"/></linearGradient><linearGradient id="b69"><stop offset=".000" stop-color="#0028ff"/><stop offset=".289" stop-color="#0029ff"/><stop offset=".395" stop-color="#0052ff"/><stop offset=".447" stop-color="#0070ff"/><stop offset=".499" stop-color="#00a3ff"/><stop offset=".569" stop-color="#00ffff"/><stop offset=".666" stop-color="#00ff7b"/><stop offset=".745" stop-color="#00ff16"/><stop offset=".749" stop-color="#00ff02"/><stop offset=".752" stop-color="#00ff00"/><stop offset=".955" stop-color="#00ff00"/><stop offset=".962" stop-color="#42ff00"/><stop offset="1" stop-color="#7bff00"/></linearGradient><linearGradient id="b70"><stop offset=".000" stop-color="#0028ff"/><stop offset=".296" stop-color="#0028ff"/><stop offset=".400" stop-color="#0052ff"/><stop offset=".451" stop-color="#0071ff"/><stop offset=".501" stop-color="#00a1ff"/><stop offset=".571" stop-color="#00fdff"/><stop offset=".747" stop-color="#00ff19"/><stop offset=".749" stop-color="#00ff15"/><stop offset=".754" stop-color="#00ff01"/><stop offset=".959" stop-color="#00ff00"/><stop offset=".966" stop-color="#44ff00"/><stop offset="1" stop-color="#77ff00"/></linearGradient><linearGradient id="b71"><stop offset=".000" stop-color="#0028ff"/><stop offset=".305" stop-color="#0028ff"/><stop offset=".406" stop-color="#0053ff"/><stop offset=".456" stop-color="#0071ff"/><stop offset=".506" stop-color="#00a2ff"/><stop offset=".576" stop-color="#00feff"/><stop offset=".752" stop-color="#00ff18"/><stop offset=".754" stop-color="#00ff14"/><stop offset=".758" stop-color="#00ff00"/><stop offset=".962" stop-color="#00ff00"/><stop offset=".964" stop-color="#02ff00"/><stop offset=".968" stop-color="#35ff00"/><stop offset=".971" stop-color="#45ff00"/><stop offset="1" stop-color="#72ff00"/></linearGradient><linearGradient id="b72"><stop offset=".000" stop-color="#0028ff"/><stop offset=".314" stop-color="#0029ff"/><stop offset=".413" stop-color="#0054ff"/><stop offset=".463" stop-color="#0074ff"/><stop offset=".510" stop-color="#00a3ff"/><stop offset=".580" stop-color="#00ffff"/><stop offset=".675" stop-color="#00ff7f"/><stop offset=".756" stop-color="#00ff18"/><stop offset=".758" stop-color="#00ff13"/><stop offset=".763" stop-color="#00ff00"/><stop offset=".966" stop-color="#00ff00"/><stop offset=".968" stop-color="#0cff00"/><stop offset=".973" stop-color="#40ff00"/><stop offset=".975" stop-color="#47ff00"/><stop offset="1" stop-color="#6dff00"/></linearGradient><linearGradient id="b73"><stop offset=".000" stop-color="#0028ff"/><stop offset=".321" stop-color="#0028ff"/><stop offset=".418" stop-color="#0054ff"/><stop offset=".467" stop-color="#0074ff"/><stop offset=".512" stop-color="#00a2ff"/><stop offset=".582" stop-color="#00fdff"/><stop offset=".761" stop-color="#00ff18"/><stop offset=".767" stop-color="#00ff00"/><stop offset=".971" stop-color="#00ff00"/><stop offset=".975" stop-color="#33ff00"/><stop offset=".977" stop-color="#45ff00"/><stop offset="1" stop-color="#68ff00"/></linearGradient><linearGradient id="b74"><stop offset=".000" stop-color="#0028ff"/><stop offset=".327" stop-color="#0028ff"/><stop offset=".422" stop-color="#0054ff"/><stop offset=".472" stop-color="#0075ff"/><stop offset=".517" stop-color="#00a3ff"/><stop offset=".587" stop-color="#00feff"/><stop offset=".765" stop-color="#00ff17"/><stop offset=".772" stop-color="#00ff00"/><stop offset=".973" stop-color="#00ff00"/><stop offset=".975" stop-color="#0dff00"/><stop offset=".980" stop-color="#42ff00"/><stop offset="1" stop-color="#63ff00"/></linearGradient><linearGradient id="b75"><stop offset=".000" stop-color="#0028ff"/><stop offset=".334" stop-color="#0028ff"/><stop offset=".427" stop-color="#0054ff"/><stop offset=".476" stop-color="#0075ff"/><stop offset=".519" stop-color="#00a2ff"/><stop offset=".591" stop-color="#00ffff"/><stop offset=".691" stop-color="#00ff7b"/><stop offset=".770" stop-color="#00ff17"/><stop offset=".777" stop-color="#00ff00"/><stop offset=".977" stop-color="#01ff00"/><stop offset=".982" stop-color="#35ff00"/><stop offset=".984" stop-color="#46ff00"/><stop offset="1" stop-color="#5eff00"/></linearGradient><linearGradient id="b76"><stop offset=".000" stop-color="#0028ff"/><stop offset=".339" stop-color="#0028ff"/><stop offset=".431" stop-color="#0054ff"/><stop offset=".481" stop-color="#0076ff"/><stop offset=".524" stop-color="#00a3ff"/><stop offset=".594" stop-color="#00fdff"/><stop offset=".774" stop-color="#00ff17"/><stop offset=".781" stop-color="#00ff00"/><stop offset=".980" stop-color="#00ff00"/><stop offset=".982" stop-color="#0eff00"/><stop offset=".986" stop-color="#43ff00"/><stop offset="1" stop-color="#59ff00"/></linearGradient><linearGradient id="b77"><stop offset=".000" stop-color="#0028ff"/><stop offset=".345" stop-color="#0028ff"/><stop offset=".433" stop-color="#0053ff"/><stop offset=".483" stop-color="#0075ff"/><stop offset=".528" stop-color="#00a4ff"/><stop offset=".598" stop-color="#00feff"/><stop offset=".702" stop-color="#00ff76"/><stop offset=".779" stop-color="#00ff17"/><stop offset=".786" stop-color="#00ff00"/><stop offset=".982" stop-color="#00ff00"/><stop offset=".984" stop-color="#01ff00"/><stop offset=".989" stop-color="#37ff00"/><stop offset=".991" stop-color="#46ff00"/><stop offset="1" stop-color="#54ff00"/></linearGradient><linearGradient id="b78"><stop offset=".000" stop-color="#0028ff"/><stop offset=".350" stop-color="#0028ff"/><stop offset=".438" stop-color="#0054ff"/><stop offset=".485" stop-color="#0074ff"/><stop offset=".530" stop-color="#00a3ff"/><stop offset=".603" stop-color="#00ffff"/><stop offset=".702" stop-color="#00ff7b"/><stop offset=".783" stop-color="#00ff16"/><stop offset=".788" stop-color="#00ff04"/><stop offset=".790" stop-color="#00ff00"/><stop offset=".986" stop-color="#00ff00"/><stop offset=".989" stop-color="#0fff00"/><stop offset=".993" stop-color="#44ff00"/><stop offset="1" stop-color="#4fff00"/></linearGradient><linearGradient id="b79"><stop offset=".000" stop-color="#0028ff"/><stop offset=".357" stop-color="#0028ff"/><stop offset=".440" stop-color="#0053ff"/><stop offset=".488" stop-color="#0074ff"/><stop offset=".535" stop-color="#00a5ff"/><stop offset=".605" stop-color="#00fdff"/><stop offset=".711" stop-color="#00ff75"/><stop offset=".788" stop-color="#00ff16"/><stop offset=".792" stop-color="#00ff03"/><stop offset=".795" stop-color="#00ff00"/><stop offset=".989" stop-color="#00ff00"/><stop offset=".991" stop-color="#03ff00"/><stop offset=".995" stop-color="#3aff00"/><stop offset=".998" stop-color="#46ff00"/><stop offset="1" stop-color="#4aff00"/></linearGradient><linearGradient id="b80"><stop offset=".000" stop-color="#0028ff"/><stop offset=".361" stop-color="#0028ff"/><stop offset=".445" stop-color="#0053ff"/><stop offset=".490" stop-color="#0073ff"/><stop offset=".537" stop-color="#00a4ff"/><stop offset=".609" stop-color="#00feff"/><stop offset=".709" stop-color="#00ff7d"/><stop offset=".792" stop-color="#00ff16"/><stop offset=".797" stop-color="#00ff03"/><stop offset=".799" stop-color="#00ff00"/><stop offset=".993" stop-color="#00ff00"/><stop offset=".995" stop-color="#13ff00"/><stop offset="1" stop-color="#45ff00"/></linearGradient><linearGradient id="b81"><stop offset=".000" stop-color="#0028ff"/><stop offset=".368" stop-color="#0028ff"/><stop offset=".449" stop-color="#0054ff"/><stop offset=".494" stop-color="#0074ff"/><stop offset=".542" stop-color="#00a5ff"/><stop offset=".614" stop-color="#00fffe"/><stop offset=".709" stop-color="#00ff81"/><stop offset=".797" stop-color="#00ff16"/><stop offset=".801" stop-color="#00ff02"/><stop offset=".804" stop-color="#00ff00"/><stop offset=".995" stop-color="#00ff00"/><stop offset=".998" stop-color="#08ff00"/><stop offset="1" stop-color="#24ff00"/></linearGradient><linearGradient id="b82"><stop offset=".000" stop-color="#0028ff"/><stop offset=".372" stop-color="#0028ff"/><stop offset=".454" stop-color="#0054ff"/><stop offset=".499" stop-color="#0076ff"/><stop offset=".546" stop-color="#00a7ff"/><stop offset=".616" stop-color="#00feff"/><stop offset=".713" stop-color="#00ff80"/><stop offset=".799" stop-color="#00ff18"/><stop offset=".801" stop-color="#00ff15"/><stop offset=".806" stop-color="#00ff02"/><stop offset=".808" stop-color="#00ff00"/><stop offset="1" stop-color="#00ff00"/></linearGradient><linearGradient id="b83"><stop offset=".000" stop-color="#0028ff"/><stop offset=".377" stop-color="#0028ff"/><stop offset=".456" stop-color="#0054ff"/><stop offset=".501" stop-color="#0075ff"/><stop offset=".549" stop-color="#00a6ff"/><stop offset=".621" stop-color="#00ffff"/><stop offset=".711" stop-color="#00ff88"/><stop offset=".804" stop-color="#00ff18"/><stop offset=".806" stop-color="#00ff15"/><stop offset=".810" stop-color="#00ff02"/><stop offset=".813" stop-color="#00ff00"/><stop offset="1" stop-color="#00ff00"/></linearGradient><linearGradient id="b84"><stop offset=".000" stop-color="#0028ff"/><stop offset=".384" stop-color="#0029ff"/><stop offset=".460" stop-color="#0054ff"/><stop offset=".506" stop-color="#0076ff"/><stop offset=".553" stop-color="#00a7ff"/><stop offset=".623" stop-color="#00feff"/><stop offset=".718" stop-color="#00ff84"/><stop offset=".808" stop-color="#00ff18"/><stop offset=".810" stop-color="#00ff15"/><stop offset=".815" stop-color="#00ff02"/><stop offset=".817" stop-color="#00ff00"/><stop offset="1" stop-color="#00ff00"/></linearGradient><linearGradient id="b85"><stop offset=".000" stop-color="#0028ff"/><stop offset=".388" stop-color="#0029ff"/><stop offset=".465" stop-color="#0055ff"/><stop offset=".510" stop-color="#0078ff"/><stop offset=".558" stop-color="#00a9ff"/><stop offset=".625" stop-color="#00fdff"/><stop offset=".725" stop-color="#00ff80"/><stop offset=".813" stop-color="#00ff18"/><stop offset=".815" stop-color="#00ff14"/><stop offset=".819" stop-color="#00ff01"/><stop offset="1" stop-color="#00ff00"/></linearGradient><linearGradient id="b86"><stop offset=".000" stop-color="#0028ff"/><stop offset=".393" stop-color="#0029ff"/><stop offset=".470" stop-color="#0056ff"/><stop offset=".515" stop-color="#0079ff"/><stop offset=".562" stop-color="#00aaff"/><stop offset=".630" stop-color="#00feff"/><stop offset=".720" stop-color="#00ff8a"/><stop offset=".817" stop-color="#00ff18"/><stop offset=".819" stop-color="#00ff14"/><stop offset=".824" stop-color="#00ff00"/><stop offset="1" stop-color="#00ff00"/></linearGradient><linearGradient id="b87"><stop offset=".000" stop-color="#0028ff"/><stop offset=".395" stop-color="#0028ff"/><stop offset=".470" stop-color="#0054ff"/><stop offset=".517" stop-color="#0078ff"/><stop offset=".564" stop-color="#00aaff"/><stop offset=".632" stop-color="#00feff"/><stop offset=".725" stop-color="#00ff89"/><stop offset=".822" stop-color="#00ff17"/><stop offset=".828" stop-color="#00ff00"/><stop offset="1" stop-color="#00ff00"/></linearGradient><linearGradient id="b88"><stop offset=".000" stop-color="#0028ff"/><stop offset=".400" stop-color="#0028ff"/><stop offset=".474" stop-color="#0055ff"/><stop offset=".521" stop-color="#007aff"/><stop offset=".569" stop-color="#00abff"/><stop offset=".634" stop-color="#00fdff"/><stop offset=".729" stop-color="#00ff88"/><stop offset=".826" stop-color="#00ff17"/><stop offset=".831" stop-color="#00ff04"/><stop offset=".833" stop-color="#00ff00"/><stop offset="1" stop-color="#00ff00"/></linearGradient><linearGradient id="b89"><stop offset=".000" stop-color="#0028ff"/><stop offset=".404" stop-color="#0028ff"/><stop offset=".476" stop-color="#0054ff"/><stop offset=".524" stop-color="#0079ff"/><stop offset=".573" stop-color="#00adff"/><stop offset=".639" stop-color="#00ffff"/><stop offset=".720" stop-color="#00ff97"/><stop offset=".828" stop-color="#00ff18"/><stop offset=".831" stop-color="#00ff14"/><stop offset=".835" stop-color="#00ff00"/><stop offset="1" stop-color="#00ff00"/></linearGradient><linearGradient id="b90"><stop offset=".000" stop-color="#0028ff"/><stop offset=".409" stop-color="#0028ff"/><stop offset=".481" stop-color="#0055ff"/><stop offset=".528" stop-color="#007bff"/><stop offset=".576" stop-color="#00adff"/><stop offset=".641" stop-color="#00feff"/><stop offset=".722" stop-color="#00ff98"/><stop offset=".833" stop-color="#00ff17"/><stop offset=".837" stop-color="#00ff04"/><stop offset=".840" stop-color="#00ff00"/><stop offset="1" stop-color="#00ff00"/></linearGradient><linearGradient id="b91"><stop offset=".000" stop-color="#0028ff"/><stop offset=".413" stop-color="#0028ff"/><stop offset=".485" stop-color="#0056ff"/><stop offset=".533" stop-color="#007cff"/><stop offset=".580" stop-color="#00afff"/><stop offset=".643" stop-color="#00feff"/><stop offset=".725" stop-color="#00ff99"/><stop offset=".835" stop-color="#00ff18"/><stop offset=".842" stop-color="#00ff00"/><stop offset="1" stop-color="#00ff00"/></linearGradient><linearGradient id="b92"><stop offset=".000" stop-color="#0028ff"/><stop offset=".415" stop-color="#0028ff"/><stop offset=".485" stop-color="#0054ff"/><stop offset=".535" stop-color="#007cff"/><stop offset=".582" stop-color="#00aeff"/><stop offset=".646" stop-color="#00fdff"/><stop offset=".725" stop-color="#00ff9d"/><stop offset=".840" stop-color="#00ff16"/><stop offset=".844" stop-color="#00ff02"/><stop offset=".847" stop-color="#00ff00"/><stop offset="1" stop-color="#00ff00"/></linearGradient><linearGradient id="b93"><stop offset=".000" stop-color="#0028ff"/><stop offset=".420" stop-color="#0028ff"/><stop offset=".492" stop-color="#0057ff"/><stop offset=".540" stop-color="#007dff"/><stop offset=".587" stop-color="#00b0ff"/><stop offset=".648" stop-color="#00fdff"/><stop offset=".842" stop-color="#00ff17"/><stop offset=".849" stop-color="#00ff00"/><stop offset="1" stop-color="#00ff00"/></linearGradient><linearGradient id="b94"><stop offset=".000" stop-color="#0028ff"/><stop offset=".424" stop-color="#0028ff"/><stop offset=".494" stop-color="#0056ff"/><stop offset=".542" stop-color="#007dff"/><stop offset=".587" stop-color="#00adff"/><stop offset=".652" stop-color="#00ffff"/><stop offset=".720" stop-color="#00ffaa"/><stop offset=".844" stop-color="#00ff18"/><stop offset=".847" stop-color="#00ff15"/><stop offset=".851" stop-color="#00ff01"/><stop offset="1" stop-color="#00ff00"/></linearGradient><linearGradient id="b95"><stop offset=".000" stop-color="#0028ff"/><stop offset=".429" stop-color="#0028ff"/><stop offset=".501" stop-color="#0059ff"/><stop offset=".546" stop-color="#007fff"/><stop offset=".591" stop-color="#00afff"/><stop offset=".655" stop-color="#00ffff"/><stop offset=".722" stop-color="#00ffab"/><stop offset=".849" stop-color="#00ff17"/><stop offset=".856" stop-color="#00ff00"/><stop offset="1" stop-color="#00ff00"/></linearGradient><linearGradient id="b96"><stop offset=".000" stop-color="#0028ff"/><stop offset=".431" stop-color="#0028ff"/><stop offset=".503" stop-color="#0059ff"/><stop offset=".549" stop-color="#007eff"/><stop offset=".594" stop-color="#00afff"/><stop offset=".657" stop-color="#00feff"/><stop offset=".851" stop-color="#00ff18"/><stop offset=".853" stop-color="#00ff14"/><stop offset=".858" stop-color="#00ff00"/><stop offset="1" stop-color="#00ff00"/></linearGradient><linearGradient id="b97"><stop offset=".000" stop-color="#0028ff"/><stop offset=".436" stop-color="#0028ff"/><stop offset=".510" stop-color="#005cff"/><stop offset=".553" stop-color="#0080ff"/><stop offset=".596" stop-color="#00aeff"/><stop offset=".659" stop-color="#00fdff"/><stop offset=".856" stop-color="#00ff16"/><stop offset=".860" stop-color="#00ff04"/><stop offset=".862" stop-color="#00ff00"/><stop offset="1" stop-color="#00ff00"/></linearGradient><linearGradient id="b98"><stop offset=".000" stop-color="#0028ff"/><stop offset=".438" stop-color="#0028ff"/><stop offset=".512" stop-color="#005cff"/><stop offset=".555" stop-color="#007fff"/><stop offset=".598" stop-color="#00aeff"/><stop offset=".661" stop-color="#00fdff"/><stop offset=".858" stop-color="#00ff18"/><stop offset=".865" stop-color="#00ff00"/><stop offset="1" stop-color="#00ff00"/></linearGradient><linearGradient id="b99"><stop offset=".000" stop-color="#0028ff"/><stop offset=".440" stop-color="#0028ff"/><stop offset=".515" stop-color="#005bff"/><stop offset=".558" stop-color="#007fff"/><stop offset=".600" stop-color="#00adff"/><stop offset=".666" stop-color="#00ffff"/><stop offset=".727" stop-color="#00ffb3"/><stop offset=".860" stop-color="#00ff18"/><stop offset=".862" stop-color="#00ff15"/><stop offset=".867" stop-color="#00ff01"/><stop offset="1" stop-color="#00ff00"/></linearGradient><linearGradient id="b100"><stop offset=".000" stop-color="#0028ff"/><stop offset=".442" stop-color="#0028ff"/><stop offset=".517" stop-color="#005bff"/><stop offset=".560" stop-color="#007fff"/><stop offset=".603" stop-color="#00adff"/><stop offset=".668" stop-color="#00ffff"/><stop offset=".865" stop-color="#00ff17"/><stop offset=".869" stop-color="#00ff04"/><stop offset=".871" stop-color="#00ff00"/><stop offset="1" stop-color="#00ff00"/></linearGradient><linearGradient id="b101"><stop offset=".000" stop-color="#0028ff"/><stop offset=".445" stop-color="#0028ff"/><stop offset=".521" stop-color="#005cff"/><stop offset=".564" stop-color="#0080ff"/><stop offset=".605" stop-color="#00acff"/><stop offset=".670" stop-color="#00feff"/><stop offset=".867" stop-color="#00ff17"/><stop offset=".874" stop-color="#00ff00"/><stop offset="1" stop-color="#00ff00"/></linearGradient><linearGradient id="b102"><stop offset=".000" stop-color="#0028ff"/><stop offset=".447" stop-color="#0028ff"/><stop offset=".524" stop-color="#005cff"/><stop offset=".567" stop-color="#0080ff"/><stop offset=".607" stop-color="#00acff"/><stop offset=".673" stop-color="#00feff"/><stop offset=".869" stop-color="#00ff18"/><stop offset=".871" stop-color="#00ff13"/><stop offset=".876" stop-color="#00ff00"/><stop offset="1" stop-color="#00ff00"/></linearGradient><linearGradient id="b103"><stop offset=".000" stop-color="#0028ff"/><stop offset=".449" stop-color="#0028ff"/><stop offset=".526" stop-color="#005cff"/><stop offset=".569" stop-color="#007fff"/><stop offset=".609" stop-color="#00abff"/><stop offset=".675" stop-color="#00feff"/><stop offset=".874" stop-color="#00ff16"/><stop offset=".878" stop-color="#00ff02"/><stop offset="1" stop-color="#00ff00"/></linearGradient><linearGradient id="b104"><stop offset=".000" stop-color="#0028ff"/><stop offset=".451" stop-color="#0028ff"/><stop offset=".528" stop-color="#005cff"/><stop offset=".571" stop-color="#007fff"/><stop offset=".612" stop-color="#00abff"/><stop offset=".677" stop-color="#00fdff"/><stop offset=".874" stop-color="#00ff1a"/><stop offset=".876" stop-color="#00ff17"/><stop offset=".880" stop-color="#00ff04"/><stop offset=".883" stop-color="#00ff00"/><stop offset="1" stop-color="#00ff00"/></linearGradient><linearGradient id="b105"><stop offset=".000" stop-color="#0028ff"/><stop offset=".454" stop-color="#0028ff"/><stop offset=".530" stop-color="#005bff"/><stop offset=".573" stop-color="#007fff"/><stop offset=".614" stop-color="#00aaff"/><stop offset=".679" stop-color="#00fdff"/><stop offset=".876" stop-color="#00ff1a"/><stop offset=".880" stop-color="#00ff12"/><stop offset=".885" stop-color="#00ff00"/><stop offset="1" stop-color="#00ff00"/></linearGradient><linearGradient id="b106"><stop offset=".000" stop-color="#0028ff"/><stop offset=".458" stop-color="#0029ff"/><stop offset=".535" stop-color="#005dff"/><stop offset=".576" stop-color="#007eff"/><stop offset=".616" stop-color="#00aaff"/><stop offset=".684" stop-color="#00ffff"/><stop offset=".880" stop-color="#00ff18"/><stop offset=".883" stop-color="#00ff14"/><stop offset=".887" stop-color="#00ff00"/><stop offset="1" stop-color="#00ff00"/></linearGradient><linearGradient id="b107"><stop offset=".000" stop-color="#0028ff"/><stop offset=".460" stop-color="#0029ff"/><stop offset=".537" stop-color="#005cff"/><stop offset=".578" stop-color="#007eff"/><stop offset=".619" stop-color="#00aaff"/><stop offset=".686" stop-color="#00ffff"/><stop offset=".880" stop-color="#00ff1c"/><stop offset=".885" stop-color="#00ff16"/><stop offset=".889" stop-color="#00ff03"/><stop offset=".892" stop-color="#00ff00"/><stop offset="1" stop-color="#00ff00"/></linearGradient><linearGradient id="b108"><stop offset=".000" stop-color="#0028ff"/><stop offset=".463" stop-color="#0028ff"/><stop offset=".542" stop-color="#005eff"/><stop offset=".582" stop-color="#0080ff"/><stop offset=".621" stop-color="#00a9ff"/><stop offset=".688" stop-color="#00ffff"/><stop offset=".738" stop-color="#00ffc2"/><stop offset=".880" stop-color="#00ff20"/><stop offset=".887" stop-color="#00ff17"/><stop offset=".894" stop-color="#00ff00"/><stop offset="1" stop-color="#00ff00"/></linearGradient><linearGradient id="b109"><stop offset=".000" stop-color="#0028ff"/><stop offset=".465" stop-color="#0028ff"/><stop offset=".544" stop-color="#005dff"/><stop offset=".585" stop-color="#007fff"/><stop offset=".623" stop-color="#00a9ff"/><stop offset=".691" stop-color="#00ffff"/><stop offset=".740" stop-color="#00ffc2"/><stop offset=".880" stop-color="#00ff23"/><stop offset=".889" stop-color="#00ff18"/><stop offset=".896" stop-color="#00ff00"/><stop offset="1" stop-color="#00ff00"/></linearGradient><linearGradient id="b110"><stop offset=".000" stop-color="#0028ff"/><stop offset=".467" stop-color="#0028ff"/><stop offset=".546" stop-color="#005dff"/><stop offset=".587" stop-color="#007fff"/><stop offset=".625" stop-color="#00a9ff"/><stop offset=".693" stop-color="#00ffff"/><stop offset=".740" stop-color="#00ffc5"/><stop offset=".880" stop-color="#00ff27"/><stop offset=".894" stop-color="#00ff14"/><stop offset=".898" stop-color="#00ff00"/><stop offset="1" stop-color="#00ff00"/></linearGradient><linearGradient id="b111"><stop offset=".000" stop-color="#0028ff"/><stop offset=".470" stop-color="#0028ff"/><stop offset=".549" stop-color="#005dff"/><stop offset=".589" stop-color="#007eff"/><stop offset=".628" stop-color="#00a8ff"/><stop offset=".695" stop-color="#00ffff"/><stop offset=".880" stop-color="#00ff2a"/><stop offset=".896" stop-color="#00ff16"/><stop offset=".901" stop-color="#00ff00"/><stop offset="1" stop-color="#00ff00"/></linearGradient><linearGradient id="b112"><stop offset=".000" stop-color="#0028ff"/><stop offset=".472" stop-color="#0028ff"/><stop offset=".551" stop-color="#005dff"/><stop offset=".591" stop-color="#007eff"/><stop offset=".630" stop-color="#00a8ff"/><stop offset=".698" stop-color="#00ffff"/><stop offset=".743" stop-color="#00ffc8"/><stop offset=".878" stop-color="#00ff30"/><stop offset=".898" stop-color="#00ff16"/><stop offset=".903" stop-color="#00ff02"/><stop offset="1" stop-color="#00ff00"/></linearGradient><linearGradient id="b113"><stop offset=".000" stop-color="#0028ff"/><stop offset=".474" stop-color="#0028ff"/><stop offset=".553" stop-color="#005cff"/><stop offset=".594" stop-color="#007eff"/><stop offset=".632" stop-color="#00a8ff"/><stop offset=".700" stop-color="#00ffff"/><stop offset=".743" stop-color="#00ffcb"/><stop offset=".876" stop-color="#00ff36"/><stop offset=".901" stop-color="#00ff17"/><stop offset=".905" stop-color="#00ff03"/><stop offset=".907" stop-color="#00ff00"/><stop offset="1" stop-color="#00ff00"/></linearGradient><linearGradient id="b114"><stop offset=".000" stop-color="#0028ff"/><stop offset=".476" stop-color="#0028ff"/><stop offset=".555" stop-color="#005cff"/><stop offset=".596" stop-color="#007dff"/><stop offset=".634" stop-color="#00a8ff"/><stop offset=".702" stop-color="#00ffff"/><stop offset=".876" stop-color="#00ff3a"/><stop offset=".903" stop-color="#00ff17"/><stop offset=".907" stop-color="#00ff04"/><stop offset=".910" stop-color="#00ff00"/><stop offset="1" stop-color="#00ff00"/></linearGradient><linearGradient id="b115"><stop offset=".000" stop-color="#0028ff"/><stop offset=".479" stop-color="#0028ff"/><stop offset=".558" stop-color="#005cff"/><stop offset=".596" stop-color="#007bff"/><stop offset=".634" stop-color="#00a5ff"/><stop offset=".704" stop-color="#00ffff"/><stop offset=".876" stop-color="#00ff3d"/><stop offset=".905" stop-color="#00ff18"/><stop offset=".912" stop-color="#00ff00"/><stop offset="1" stop-color="#00ff00"/></linearGradient><linearGradient id="b116"><stop offset=".000" stop-color="#0028ff"/><stop offset=".481" stop-color="#0028ff"/><stop offset=".560" stop-color="#005cff"/><stop offset=".598" stop-color="#007bff"/><stop offset=".637" stop-color="#00a5ff"/><stop offset=".707" stop-color="#00fffe"/><stop offset=".876" stop-color="#00ff41"/><stop offset=".907" stop-color="#00ff18"/><stop offset=".914" stop-color="#00ff00"/><stop offset="1" stop-color="#00ff00"/></linearGradient><linearGradient id="b117"><stop offset=".000" stop-color="#0028ff"/><stop offset=".483" stop-color="#0028ff"/><stop offset=".562" stop-color="#005bff"/><stop offset=".600" stop-color="#007bff"/><stop offset=".639" stop-color="#00a5ff"/><stop offset=".707" stop-color="#00fdff"/><stop offset=".874" stop-color="#00ff47"/><stop offset=".910" stop-color="#00ff19"/><stop offset=".912" stop-color="#00ff14"/><stop offset=".916" stop-color="#00ff00"/><stop offset="1" stop-color="#00ff00"/></linearGradient><linearGradient id="b118"><stop offset=".000" stop-color="#0028ff"/><stop offset=".485" stop-color="#0028ff"/><stop offset=".562" stop-color="#005aff"/><stop offset=".600" stop-color="#0079ff"/><stop offset=".639" stop-color="#00a3ff"/><stop offset=".709" stop-color="#00fdff"/><stop offset=".876" stop-color="#00ff48"/><stop offset=".914" stop-color="#00ff15"/><stop offset=".919" stop-color="#00ff00"/><stop offset="1" stop-color="#00ff00"/></linearGradient><linearGradient id="b119"><stop offset=".000" stop-color="#0028ff"/><stop offset=".488" stop-color="#0028ff"/><stop offset=".564" stop-color="#005aff"/><stop offset=".603" stop-color="#0079ff"/><stop offset=".641" stop-color="#00a3ff"/><stop offset=".711" stop-color="#00fdff"/><stop offset=".876" stop-color="#00ff4b"/><stop offset=".916" stop-color="#00ff16"/><stop offset=".921" stop-color="#00ff00"/><stop offset="1" stop-color="#00ff00"/></linearGradient><linearGradient id="b120"><stop offset=".000" stop-color="#0028ff"/><stop offset=".490" stop-color="#0028ff"/><stop offset=".567" stop-color="#0059ff"/><stop offset=".605" stop-color="#0079ff"/><stop offset=".641" stop-color="#00a0ff"/><stop offset=".716" stop-color="#00fffe"/><stop offset=".878" stop-color="#00ff4c"/><stop offset=".919" stop-color="#00ff17"/><stop offset=".923" stop-color="#00ff02"/><stop offset=".926" stop-color="#00ff00"/><stop offset="1" stop-color="#00ff00"/></linearGradient><linearGradient id="b121"><stop offset=".000" stop-color="#0028ff"/><stop offset=".492" stop-color="#0028ff"/><stop offset=".567" stop-color="#0058ff"/><stop offset=".607" stop-color="#0079ff"/><stop offset=".643" stop-color="#00a0ff"/><stop offset=".718" stop-color="#00ffff"/><stop offset=".880" stop-color="#00ff4d"/><stop offset=".921" stop-color="#00ff18"/><stop offset=".926" stop-color="#00ff05"/><stop offset=".928" stop-color="#00ff00"/><stop offset="1" stop-color="#00ff00"/></linearGradient><linearGradient id="b122"><stop offset=".000" stop-color="#0028ff"/><stop offset=".494" stop-color="#0028ff"/><stop offset=".569" stop-color="#0058ff"/><stop offset=".609" stop-color="#0079ff"/><stop offset=".643" stop-color="#009dff"/><stop offset=".720" stop-color="#00feff"/><stop offset=".883" stop-color="#00ff4e"/><stop offset=".923" stop-color="#00ff19"/><stop offset=".926" stop-color="#00ff14"/><stop offset=".930" stop-color="#00ff00"/><stop offset="1" stop-color="#00ff00"/></linearGradient><linearGradient id="b123"><stop offset=".000" stop-color="#0028ff"/><stop offset=".497" stop-color="#0028ff"/><stop offset=".571" stop-color="#0057ff"/><stop offset=".612" stop-color="#0078ff"/><stop offset=".646" stop-color="#009dff"/><stop offset=".722" stop-color="#00feff"/><stop offset=".887" stop-color="#00ff4b"/><stop offset=".928" stop-color="#00ff16"/><stop offset=".932" stop-color="#00ff00"/><stop offset="1" stop-color="#00ff00"/></linearGradient><linearGradient id="b124"><stop offset=".000" stop-color="#0028ff"/><stop offset=".499" stop-color="#0028ff"/><stop offset=".571" stop-color="#0056ff"/><stop offset=".614" stop-color="#0078ff"/><stop offset=".643" stop-color="#0098ff"/><stop offset=".727" stop-color="#00fffe"/><stop offset=".889" stop-color="#00ff4c"/><stop offset=".930" stop-color="#00ff17"/><stop offset=".935" stop-color="#00ff01"/><stop offset="1" stop-color="#00ff00"/></linearGradient><linearGradient id="b125"><stop offset=".000" stop-color="#0028ff"/><stop offset=".501" stop-color="#0028ff"/><stop offset=".573" stop-color="#0056ff"/><stop offset=".616" stop-color="#0078ff"/><stop offset=".646" stop-color="#0098ff"/><stop offset=".729" stop-color="#00ffff"/><stop offset=".892" stop-color="#00ff4d"/><stop offset=".932" stop-color="#00ff17"/><stop offset=".937" stop-color="#00ff02"/><stop offset=".939" stop-color="#00ff00"/><stop offset="1" stop-color="#00ff00"/></linearGradient><linearGradient id="b126"><stop offset=".000" stop-color="#0028ff"/><stop offset=".503" stop-color="#0028ff"/><stop offset=".573" stop-color="#0054ff"/><stop offset=".616" stop-color="#0076ff"/><stop offset=".646" stop-color="#0096ff"/><stop offset=".731" stop-color="#00feff"/><stop offset=".894" stop-color="#00ff4d"/><stop offset=".935" stop-color="#00ff17"/><stop offset=".939" stop-color="#00ff02"/><stop offset="1" stop-color="#00ff00"/></linearGradient><linearGradient id="b127"><stop offset=".000" stop-color="#0028ff"/><stop offset=".506" stop-color="#0029ff"/><stop offset=".576" stop-color="#0055ff"/><stop offset=".619" stop-color="#0078ff"/><stop offset=".734" stop-color="#00ffff"/><stop offset=".896" stop-color="#00ff4c"/><stop offset=".935" stop-color="#00ff19"/><stop offset=".937" stop-color="#00ff14"/><stop offset=".941" stop-color="#00ff00"/><stop offset="1" stop-color="#00ff00"/></linearGradient><linearGradient id="b128"><stop offset=".000" stop-color="#0028ff"/><stop offset=".506" stop-color="#0029ff"/><stop offset=".576" stop-color="#0055ff"/><stop offset=".619" stop-color="#0078ff"/><stop offset=".734" stop-color="#00ffff"/><stop offset=".896" stop-color="#00ff4c"/><stop offset=".935" stop-color="#00ff19"/><stop offset=".937" stop-color="#00ff14"/><stop offset=".941" stop-color="#00ff00"/><stop offset="1" stop-color="#00ff00"/></linearGradient></defs>
<g clip-path="url(#cpb)"><g filter="url(#vb)"><rect x="259.8" y="1195.25" width="887.3" height="6.58" fill="url(#b0)"/><rect x="259.8" y="1201.22" width="887.3" height="6.58" fill="url(#b1)"/><rect x="259.8" y="1207.2" width="887.3" height="6.58" fill="url(#b2)"/><rect x="259.8" y="1213.18" width="887.3" height="6.58" fill="url(#b3)"/><rect x="259.8" y="1219.15" width="887.3" height="6.58" fill="url(#b4)"/><rect x="259.8" y="1225.13" width="887.3" height="6.58" fill="url(#b5)"/><rect x="259.8" y="1231.11" width="887.3" height="6.58" fill="url(#b6)"/><rect x="259.8" y="1237.08" width="887.3" height="6.58" fill="url(#b7)"/><rect x="259.8" y="1243.06" width="887.3" height="6.58" fill="url(#b8)"/><rect x="259.8" y="1249.04" width="887.3" height="6.58" fill="url(#b9)"/><rect x="259.8" y="1255.01" width="887.3" height="6.58" fill="url(#b10)"/><rect x="259.8" y="1260.99" width="887.3" height="6.58" fill="url(#b11)"/><rect x="259.8" y="1266.97" width="887.3" height="6.58" fill="url(#b12)"/><rect x="259.8" y="1272.94" width="887.3" height="6.58" fill="url(#b13)"/><rect x="259.8" y="1278.92" width="887.3" height="6.58" fill="url(#b14)"/><rect x="259.8" y="1284.9" width="887.3" height="6.58" fill="url(#b15)"/><rect x="259.8" y="1290.88" width="887.3" height="6.58" fill="url(#b16)"/><rect x="259.8" y="1296.85" width="887.3" height="6.58" fill="url(#b17)"/><rect x="259.8" y="1302.83" width="887.3" height="6.58" fill="url(#b18)"/><rect x="259.8" y="1308.81" width="887.3" height="6.58" fill="url(#b19)"/><rect x="259.8" y="1314.78" width="887.3" height="6.58" fill="url(#b20)"/><rect x="259.8" y="1320.76" width="887.3" height="6.58" fill="url(#b21)"/><rect x="259.8" y="1326.74" width="887.3" height="6.58" fill="url(#b22)"/><rect x="259.8" y="1332.71" width="887.3" height="6.58" fill="url(#b23)"/><rect x="259.8" y="1338.69" width="887.3" height="6.58" fill="url(#b24)"/><rect x="259.8" y="1344.67" width="887.3" height="6.58" fill="url(#b25)"/><rect x="259.8" y="1350.64" width="887.3" height="6.58" fill="url(#b26)"/><rect x="259.8" y="1356.62" width="887.3" height="6.58" fill="url(#b27)"/><rect x="259.8" y="1362.6" width="887.3" height="6.58" fill="url(#b28)"/><rect x="259.8" y="1368.57" width="887.3" height="6.58" fill="url(#b29)"/><rect x="259.8" y="1374.55" width="887.3" height="6.58" fill="url(#b30)"/><rect x="259.8" y="1380.53" width="887.3" height="6.58" fill="url(#b31)"/><rect x="259.8" y="1386.5" width="887.3" height="6.58" fill="url(#b32)"/><rect x="259.8" y="1392.48" width="887.3" height="6.58" fill="url(#b33)"/><rect x="259.8" y="1398.46" width="887.3" height="6.58" fill="url(#b34)"/><rect x="259.8" y="1404.43" width="887.3" height="6.58" fill="url(#b35)"/><rect x="259.8" y="1410.41" width="887.3" height="6.58" fill="url(#b36)"/><rect x="259.8" y="1416.39" width="887.3" height="6.58" fill="url(#b37)"/><rect x="259.8" y="1422.36" width="887.3" height="6.58" fill="url(#b38)"/><rect x="259.8" y="1428.34" width="887.3" height="6.58" fill="url(#b39)"/><rect x="259.8" y="1434.32" width="887.3" height="6.58" fill="url(#b40)"/><rect x="259.8" y="1440.3" width="887.3" height="6.58" fill="url(#b41)"/><rect x="259.8" y="1446.27" width="887.3" height="6.58" fill="url(#b42)"/><rect x="259.8" y="1452.25" width="887.3" height="6.58" fill="url(#b43)"/><rect x="259.8" y="1458.23" width="887.3" height="6.58" fill="url(#b44)"/><rect x="259.8" y="1464.2" width="887.3" height="6.58" fill="url(#b45)"/><rect x="259.8" y="1470.18" width="887.3" height="6.58" fill="url(#b46)"/><rect x="259.8" y="1476.16" width="887.3" height="6.58" fill="url(#b47)"/><rect x="259.8" y="1482.13" width="887.3" height="6.58" fill="url(#b48)"/><rect x="259.8" y="1488.11" width="887.3" height="6.58" fill="url(#b49)"/><rect x="259.8" y="1494.09" width="887.3" height="6.58" fill="url(#b50)"/><rect x="259.8" y="1500.06" width="887.3" height="6.58" fill="url(#b51)"/><rect x="259.8" y="1506.04" width="887.3" height="6.58" fill="url(#b52)"/><rect x="259.8" y="1512.02" width="887.3" height="6.58" fill="url(#b53)"/><rect x="259.8" y="1517.99" width="887.3" height="6.58" fill="url(#b54)"/><rect x="259.8" y="1523.97" width="887.3" height="6.58" fill="url(#b55)"/><rect x="259.8" y="1529.95" width="887.3" height="6.58" fill="url(#b56)"/><rect x="259.8" y="1535.92" width="887.3" height="6.58" fill="url(#b57)"/><rect x="259.8" y="1541.9" width="887.3" height="6.58" fill="url(#b58)"/><rect x="259.8" y="1547.88" width="887.3" height="6.58" fill="url(#b59)"/><rect x="259.8" y="1553.85" width="887.3" height="6.58" fill="url(#b60)"/><rect x="259.8" y="1559.83" width="887.3" height="6.58" fill="url(#b61)"/><rect x="259.8" y="1565.81" width="887.3" height="6.58" fill="url(#b62)"/><rect x="259.8" y="1571.78" width="887.3" height="6.58" fill="url(#b63)"/><rect x="259.8" y="1577.76" width="887.3" height="6.58" fill="url(#b64)"/><rect x="259.8" y="1583.74" width="887.3" height="6.58" fill="url(#b65)"/><rect x="259.8" y="1589.72" width="887.3" height="6.58" fill="url(#b66)"/><rect x="259.8" y="1595.69" width="887.3" height="6.58" fill="url(#b67)"/><rect x="259.8" y="1601.67" width="887.3" height="6.58" fill="url(#b68)"/><rect x="259.8" y="1607.65" width="887.3" height="6.58" fill="url(#b69)"/><rect x="259.8" y="1613.62" width="887.3" height="6.58" fill="url(#b70)"/><rect x="259.8" y="1619.6" width="887.3" height="6.58" fill="url(#b71)"/><rect x="259.8" y="1625.58" width="887.3" height="6.58" fill="url(#b72)"/><rect x="259.8" y="1631.55" width="887.3" height="6.58" fill="url(#b73)"/><rect x="259.8" y="1637.53" width="887.3" height="6.58" fill="url(#b74)"/><rect x="259.8" y="1643.51" width="887.3" height="6.58" fill="url(#b75)"/><rect x="259.8" y="1649.48" width="887.3" height="6.58" fill="url(#b76)"/><rect x="259.8" y="1655.46" width="887.3" height="6.58" fill="url(#b77)"/><rect x="259.8" y="1661.44" width="887.3" height="6.58" fill="url(#b78)"/><rect x="259.8" y="1667.41" width="887.3" height="6.58" fill="url(#b79)"/><rect x="259.8" y="1673.39" width="887.3" height="6.58" fill="url(#b80)"/><rect x="259.8" y="1679.37" width="887.3" height="6.58" fill="url(#b81)"/><rect x="259.8" y="1685.34" width="887.3" height="6.58" fill="url(#b82)"/><rect x="259.8" y="1691.32" width="887.3" height="6.58" fill="url(#b83)"/><rect x="259.8" y="1697.3" width="887.3" height="6.58" fill="url(#b84)"/><rect x="259.8" y="1703.27" width="887.3" height="6.58" fill="url(#b85)"/><rect x="259.8" y="1709.25" width="887.3" height="6.58" fill="url(#b86)"/><rect x="259.8" y="1715.23" width="887.3" height="6.58" fill="url(#b87)"/><rect x="259.8" y="1721.2" width="887.3" height="6.58" fill="url(#b88)"/><rect x="259.8" y="1727.18" width="887.3" height="6.58" fill="url(#b89)"/><rect x="259.8" y="1733.16" width="887.3" height="6.58" fill="url(#b90)"/><rect x="259.8" y="1739.14" width="887.3" height="6.58" fill="url(#b91)"/><rect x="259.8" y="1745.11" width="887.3" height="6.58" fill="url(#b92)"/><rect x="259.8" y="1751.09" width="887.3" height="6.58" fill="url(#b93)"/><rect x="259.8" y="1757.07" width="887.3" height="6.58" fill="url(#b94)"/><rect x="259.8" y="1763.04" width="887.3" height="6.58" fill="url(#b95)"/><rect x="259.8" y="1769.02" width="887.3" height="6.58" fill="url(#b96)"/><rect x="259.8" y="1775" width="887.3" height="6.58" fill="url(#b97)"/><rect x="259.8" y="1780.97" width="887.3" height="6.58" fill="url(#b98)"/><rect x="259.8" y="1786.95" width="887.3" height="6.58" fill="url(#b99)"/><rect x="259.8" y="1792.93" width="887.3" height="6.58" fill="url(#b100)"/><rect x="259.8" y="1798.9" width="887.3" height="6.58" fill="url(#b101)"/><rect x="259.8" y="1804.88" width="887.3" height="6.58" fill="url(#b102)"/><rect x="259.8" y="1810.86" width="887.3" height="6.58" fill="url(#b103)"/><rect x="259.8" y="1816.83" width="887.3" height="6.58" fill="url(#b104)"/><rect x="259.8" y="1822.81" width="887.3" height="6.58" fill="url(#b105)"/><rect x="259.8" y="1828.79" width="887.3" height="6.58" fill="url(#b106)"/><rect x="259.8" y="1834.76" width="887.3" height="6.58" fill="url(#b107)"/><rect x="259.8" y="1840.74" width="887.3" height="6.58" fill="url(#b108)"/><rect x="259.8" y="1846.72" width="887.3" height="6.58" fill="url(#b109)"/><rect x="259.8" y="1852.69" width="887.3" height="6.58" fill="url(#b110)"/><rect x="259.8" y="1858.67" width="887.3" height="6.58" fill="url(#b111)"/><rect x="259.8" y="1864.65" width="887.3" height="6.58" fill="url(#b112)"/><rect x="259.8" y="1870.62" width="887.3" height="6.58" fill="url(#b113)"/><rect x="259.8" y="1876.6" width="887.3" height="6.58" fill="url(#b114)"/><rect x="259.8" y="1882.58" width="887.3" height="6.58" fill="url(#b115)"/><rect x="259.8" y="1888.56" width="887.3" height="6.58" fill="url(#b116)"/><rect x="259.8" y="1894.53" width="887.3" height="6.58" fill="url(#b117)"/><rect x="259.8" y="1900.51" width="887.3" height="6.58" fill="url(#b118)"/><rect x="259.8" y="1906.49" width="887.3" height="6.58" fill="url(#b119)"/><rect x="259.8" y="1912.46" width="887.3" height="6.58" fill="url(#b120)"/><rect x="259.8" y="1918.44" width="887.3" height="6.58" fill="url(#b121)"/><rect x="259.8" y="1924.42" width="887.3" height="6.58" fill="url(#b122)"/><rect x="259.8" y="1930.39" width="887.3" height="6.58" fill="url(#b123)"/><rect x="259.8" y="1936.37" width="887.3" height="6.58" fill="url(#b124)"/><rect x="259.8" y="1942.35" width="887.3" height="6.58" fill="url(#b125)"/><rect x="259.8" y="1948.32" width="887.3" height="6.58" fill="url(#b126)"/><rect x="259.8" y="1954.3" width="887.3" height="6.58" fill="url(#b127)"/><rect x="259.8" y="1960.28" width="887.3" height="6.58" fill="url(#b128)"/></g></g>
<clipPath id="cpc"><rect x="260" y="2234" width="886.4" height="748.5"/></clipPath>
<defs><linearGradient id="c0"><stop offset=".000" stop-color="#00ff8a"/><stop offset=".142" stop-color="#00ff83"/><stop offset=".178" stop-color="#00ff7c"/><stop offset=".235" stop-color="#00ff5b"/><stop offset=".284" stop-color="#00ff38"/><stop offset=".321" stop-color="#00ff16"/><stop offset=".327" stop-color="#00ff00"/><stop offset=".512" stop-color="#00ff00"/><stop offset=".517" stop-color="#3fff00"/><stop offset=".519" stop-color="#48ff00"/><stop offset=".526" stop-color="#54ff00"/><stop offset=".571" stop-color="#99ff00"/><stop offset=".655" stop-color="#ffff00"/><stop offset=".837" stop-color="#ff6e00"/><stop offset=".894" stop-color="#ff4e00"/><stop offset="1" stop-color="#ff1b00"/></linearGradient><linearGradient id="c1"><stop offset=".000" stop-color="#00ff8a"/><stop offset=".142" stop-color="#00ff83"/><stop offset=".178" stop-color="#00ff7c"/><stop offset=".235" stop-color="#00ff5b"/><stop offset=".284" stop-color="#00ff38"/><stop offset=".321" stop-color="#00ff16"/><stop offset=".327" stop-color="#00ff00"/><stop offset=".512" stop-color="#00ff00"/><stop offset=".517" stop-color="#3fff00"/><stop offset=".519" stop-color="#48ff00"/><stop offset=".526" stop-color="#54ff00"/><stop offset=".571" stop-color="#99ff00"/><stop offset=".655" stop-color="#ffff00"/><stop offset=".837" stop-color="#ff6e00"/><stop offset=".894" stop-color="#ff4e00"/><stop offset="1" stop-color="#ff1b00"/></linearGradient><linearGradient id="c2"><stop offset=".000" stop-color="#00ff8e"/><stop offset=".142" stop-color="#00ff87"/><stop offset=".178" stop-color="#00ff80"/><stop offset=".237" stop-color="#00ff5e"/><stop offset=".284" stop-color="#00ff3c"/><stop offset=".325" stop-color="#00ff17"/><stop offset=".332" stop-color="#00ff00"/><stop offset=".515" stop-color="#00ff00"/><stop offset=".517" stop-color="#11ff00"/><stop offset=".519" stop-color="#32ff00"/><stop offset=".521" stop-color="#46ff00"/><stop offset=".526" stop-color="#4eff00"/><stop offset=".571" stop-color="#93ff00"/><stop offset=".657" stop-color="#feff00"/><stop offset=".837" stop-color="#ff7000"/><stop offset=".894" stop-color="#ff4f00"/><stop offset="1" stop-color="#ff1c00"/></linearGradient><linearGradient id="c3"><stop offset=".000" stop-color="#00ff95"/><stop offset=".142" stop-color="#00ff8f"/><stop offset=".181" stop-color="#00ff87"/><stop offset=".244" stop-color="#00ff62"/><stop offset=".287" stop-color="#00ff44"/><stop offset=".334" stop-color="#00ff17"/><stop offset=".343" stop-color="#00ff00"/><stop offset=".521" stop-color="#00ff00"/><stop offset=".524" stop-color="#12ff00"/><stop offset=".526" stop-color="#31ff00"/><stop offset=".528" stop-color="#46ff00"/><stop offset=".573" stop-color="#8bff00"/><stop offset=".664" stop-color="#ffff00"/><stop offset=".840" stop-color="#ff7200"/><stop offset=".896" stop-color="#ff5100"/><stop offset="1" stop-color="#ff1f00"/></linearGradient><linearGradient id="c4"><stop offset=".000" stop-color="#00ff9d"/><stop offset=".144" stop-color="#00ff96"/><stop offset=".183" stop-color="#00ff8d"/><stop offset=".248" stop-color="#00ff68"/><stop offset=".287" stop-color="#00ff4d"/><stop offset=".345" stop-color="#00ff16"/><stop offset=".352" stop-color="#00ff01"/><stop offset=".354" stop-color="#00ff00"/><stop offset=".528" stop-color="#00ff00"/><stop offset=".530" stop-color="#0aff00"/><stop offset=".535" stop-color="#44ff00"/><stop offset=".578" stop-color="#86ff00"/><stop offset=".668" stop-color="#feff00"/><stop offset=".842" stop-color="#ff7300"/><stop offset=".898" stop-color="#ff5200"/><stop offset="1" stop-color="#ff2200"/></linearGradient><linearGradient id="c5"><stop offset=".000" stop-color="#00ffa5"/><stop offset=".144" stop-color="#00ff9e"/><stop offset=".185" stop-color="#00ff93"/><stop offset=".253" stop-color="#00ff6e"/><stop offset=".289" stop-color="#00ff55"/><stop offset=".357" stop-color="#00ff15"/><stop offset=".363" stop-color="#00ff00"/><stop offset=".537" stop-color="#00ff00"/><stop offset=".542" stop-color="#3bff00"/><stop offset=".544" stop-color="#47ff00"/><stop offset=".585" stop-color="#85ff00"/><stop offset=".673" stop-color="#fdff00"/><stop offset=".847" stop-color="#ff7400"/><stop offset=".901" stop-color="#ff5400"/><stop offset="1" stop-color="#ff2500"/></linearGradient><linearGradient id="c6"><stop offset=".000" stop-color="#00ffad"/><stop offset=".144" stop-color="#00ffa5"/><stop offset=".190" stop-color="#00ff99"/><stop offset=".289" stop-color="#00ff5f"/><stop offset=".366" stop-color="#00ff17"/><stop offset=".375" stop-color="#00ff00"/><stop offset=".544" stop-color="#00ff00"/><stop offset=".546" stop-color="#11ff00"/><stop offset=".549" stop-color="#2eff00"/><stop offset=".551" stop-color="#45ff00"/><stop offset=".596" stop-color="#8aff00"/><stop offset=".679" stop-color="#ffff00"/><stop offset=".847" stop-color="#ff7700"/><stop offset=".901" stop-color="#ff5700"/><stop offset="1" stop-color="#ff2800"/></linearGradient><linearGradient id="c7"><stop offset=".000" stop-color="#00ffb5"/><stop offset=".147" stop-color="#00ffac"/><stop offset=".196" stop-color="#00ff9d"/><stop offset=".264" stop-color="#00ff79"/><stop offset=".291" stop-color="#00ff66"/><stop offset=".377" stop-color="#00ff17"/><stop offset=".386" stop-color="#00ff00"/><stop offset=".551" stop-color="#00ff00"/><stop offset=".553" stop-color="#03ff00"/><stop offset=".558" stop-color="#3cff00"/><stop offset=".560" stop-color="#47ff00"/><stop offset=".603" stop-color="#8aff00"/><stop offset=".684" stop-color="#ffff00"/><stop offset=".851" stop-color="#ff7700"/><stop offset=".903" stop-color="#ff5900"/><stop offset="1" stop-color="#ff2a00"/></linearGradient><linearGradient id="c8"><stop offset=".000" stop-color="#00ffbc"/><stop offset=".147" stop-color="#00ffb3"/><stop offset=".205" stop-color="#00ffa0"/><stop offset=".291" stop-color="#00ff6f"/><stop offset=".388" stop-color="#00ff17"/><stop offset=".395" stop-color="#00ff02"/><stop offset=".397" stop-color="#00ff00"/><stop offset=".560" stop-color="#00ff00"/><stop offset=".562" stop-color="#14ff00"/><stop offset=".564" stop-color="#30ff00"/><stop offset=".567" stop-color="#45ff00"/><stop offset=".609" stop-color="#8aff00"/><stop offset=".688" stop-color="#ffff00"/><stop offset=".853" stop-color="#ff7900"/><stop offset=".905" stop-color="#ff5a00"/><stop offset="1" stop-color="#ff2d00"/></linearGradient><linearGradient id="c9"><stop offset=".000" stop-color="#00ffc4"/><stop offset=".151" stop-color="#00ffb9"/><stop offset=".217" stop-color="#00ffa3"/><stop offset=".291" stop-color="#00ff78"/><stop offset=".397" stop-color="#00ff18"/><stop offset=".406" stop-color="#00ff00"/><stop offset=".567" stop-color="#00ff00"/><stop offset=".569" stop-color="#0bff00"/><stop offset=".573" stop-color="#44ff00"/><stop offset=".619" stop-color="#8fff00"/><stop offset=".695" stop-color="#fffe00"/><stop offset=".858" stop-color="#ff7900"/><stop offset=".907" stop-color="#ff5c00"/><stop offset="1" stop-color="#ff2f00"/></linearGradient><linearGradient id="c10"><stop offset=".000" stop-color="#00ffcb"/><stop offset=".153" stop-color="#00ffc0"/><stop offset=".190" stop-color="#00ffb6"/><stop offset=".233" stop-color="#00ffa3"/><stop offset=".293" stop-color="#00ff7f"/><stop offset=".404" stop-color="#00ff1a"/><stop offset=".409" stop-color="#00ff13"/><stop offset=".413" stop-color="#00ff01"/><stop offset=".573" stop-color="#00ff00"/><stop offset=".576" stop-color="#0aff00"/><stop offset=".580" stop-color="#44ff00"/><stop offset=".623" stop-color="#8dff00"/><stop offset=".700" stop-color="#fffe00"/><stop offset=".860" stop-color="#ff7b00"/><stop offset=".910" stop-color="#ff5d00"/><stop offset="1" stop-color="#ff3200"/></linearGradient><linearGradient id="c11"><stop offset=".000" stop-color="#00ffd2"/><stop offset=".156" stop-color="#00ffc6"/><stop offset=".194" stop-color="#00ffbb"/><stop offset=".244" stop-color="#00ffa5"/><stop offset=".287" stop-color="#00ff8c"/><stop offset=".395" stop-color="#00ff2b"/><stop offset=".415" stop-color="#00ff16"/><stop offset=".420" stop-color="#00ff04"/><stop offset=".422" stop-color="#00ff00"/><stop offset=".580" stop-color="#00ff00"/><stop offset=".582" stop-color="#13ff00"/><stop offset=".585" stop-color="#33ff00"/><stop offset=".587" stop-color="#46ff00"/><stop offset=".628" stop-color="#8cff00"/><stop offset=".704" stop-color="#ffff00"/><stop offset=".865" stop-color="#ff7b00"/><stop offset=".912" stop-color="#ff5f00"/><stop offset="1" stop-color="#ff3400"/></linearGradient><linearGradient id="c12"><stop offset=".000" stop-color="#00ffd8"/><stop offset=".156" stop-color="#00ffcc"/><stop offset=".196" stop-color="#00ffc2"/><stop offset=".246" stop-color="#00ffac"/><stop offset=".287" stop-color="#00ff93"/><stop offset=".397" stop-color="#00ff31"/><stop offset=".422" stop-color="#00ff17"/><stop offset=".429" stop-color="#00ff00"/><stop offset=".585" stop-color="#00ff00"/><stop offset=".587" stop-color="#04ff00"/><stop offset=".591" stop-color="#44ff00"/><stop offset=".632" stop-color="#8aff00"/><stop offset=".709" stop-color="#feff00"/><stop offset=".869" stop-color="#ff7b00"/><stop offset=".914" stop-color="#ff6000"/><stop offset="1" stop-color="#ff3700"/></linearGradient><linearGradient id="c13"><stop offset=".000" stop-color="#00ffde"/><stop offset=".156" stop-color="#00ffd3"/><stop offset=".199" stop-color="#00ffc8"/><stop offset=".246" stop-color="#00ffb3"/><stop offset=".287" stop-color="#00ff9a"/><stop offset=".400" stop-color="#00ff37"/><stop offset=".429" stop-color="#00ff17"/><stop offset=".436" stop-color="#00ff00"/><stop offset=".591" stop-color="#00ff00"/><stop offset=".594" stop-color="#1aff00"/><stop offset=".596" stop-color="#3aff00"/><stop offset=".598" stop-color="#47ff00"/><stop offset=".641" stop-color="#91ff00"/><stop offset=".713" stop-color="#feff00"/><stop offset=".871" stop-color="#ff7c00"/><stop offset=".916" stop-color="#ff6100"/><stop offset="1" stop-color="#ff3900"/></linearGradient><linearGradient id="c14"><stop offset=".000" stop-color="#00ffe3"/><stop offset=".156" stop-color="#00ffd9"/><stop offset=".201" stop-color="#00ffce"/><stop offset=".246" stop-color="#00ffbb"/><stop offset=".287" stop-color="#00ffa1"/><stop offset=".400" stop-color="#00ff3e"/><stop offset=".436" stop-color="#00ff17"/><stop offset=".442" stop-color="#00ff00"/><stop offset=".596" stop-color="#00ff00"/><stop offset=".598" stop-color="#11ff00"/><stop offset=".600" stop-color="#32ff00"/><stop offset=".603" stop-color="#46ff00"/><stop offset=".655" stop-color="#9eff00"/><stop offset=".720" stop-color="#fffe00"/><stop offset=".876" stop-color="#ff7c00"/><stop offset=".919" stop-color="#ff6300"/><stop offset="1" stop-color="#ff3c00"/></linearGradient><linearGradient id="c15"><stop offset=".000" stop-color="#00ffe9"/><stop offset=".156" stop-color="#00ffdf"/><stop offset=".201" stop-color="#00ffd5"/><stop offset=".246" stop-color="#00ffc2"/><stop offset=".289" stop-color="#00ffa5"/><stop offset=".402" stop-color="#00ff43"/><stop offset=".442" stop-color="#00ff16"/><stop offset=".447" stop-color="#00ff03"/><stop offset=".449" stop-color="#00ff00"/><stop offset=".600" stop-color="#00ff00"/><stop offset=".603" stop-color="#09ff00"/><stop offset=".607" stop-color="#45ff00"/><stop offset=".659" stop-color="#9dff00"/><stop offset=".725" stop-color="#fffe00"/><stop offset=".880" stop-color="#ff7c00"/><stop offset=".921" stop-color="#ff6400"/><stop offset="1" stop-color="#ff3e00"/></linearGradient><linearGradient id="c16"><stop offset=".000" stop-color="#00ffee"/><stop offset=".133" stop-color="#00ffe8"/><stop offset=".181" stop-color="#00ffe1"/><stop offset=".217" stop-color="#00ffd6"/><stop offset=".280" stop-color="#00ffb3"/><stop offset=".393" stop-color="#00ff52"/><stop offset=".447" stop-color="#00ff19"/><stop offset=".449" stop-color="#00ff15"/><stop offset=".454" stop-color="#00ff00"/><stop offset=".607" stop-color="#00ff00"/><stop offset=".612" stop-color="#3eff00"/><stop offset=".614" stop-color="#47ff00"/><stop offset=".666" stop-color="#a1ff00"/><stop offset=".729" stop-color="#fffe00"/><stop offset=".883" stop-color="#ff7e00"/><stop offset=".923" stop-color="#ff6500"/><stop offset="1" stop-color="#ff4000"/></linearGradient><linearGradient id="c17"><stop offset=".000" stop-color="#00fff3"/><stop offset=".129" stop-color="#00ffef"/><stop offset=".183" stop-color="#00ffe7"/><stop offset=".217" stop-color="#00ffdc"/><stop offset=".280" stop-color="#00ffba"/><stop offset=".393" stop-color="#00ff59"/><stop offset=".454" stop-color="#00ff18"/><stop offset=".460" stop-color="#00ff00"/><stop offset=".612" stop-color="#00ff00"/><stop offset=".614" stop-color="#14ff00"/><stop offset=".616" stop-color="#35ff00"/><stop offset=".619" stop-color="#46ff00"/><stop offset=".668" stop-color="#9dff00"/><stop offset=".734" stop-color="#ffff00"/><stop offset=".885" stop-color="#ff7f00"/><stop offset=".926" stop-color="#ff6600"/><stop offset="1" stop-color="#ff4200"/></linearGradient><linearGradient id="c18"><stop offset=".000" stop-color="#00fff8"/><stop offset=".124" stop-color="#00fff5"/><stop offset=".183" stop-color="#00ffed"/><stop offset=".217" stop-color="#00ffe3"/><stop offset=".282" stop-color="#00ffbe"/><stop offset=".391" stop-color="#00ff61"/><stop offset=".427" stop-color="#00ff3e"/><stop offset=".460" stop-color="#00ff16"/><stop offset=".465" stop-color="#00ff03"/><stop offset=".467" stop-color="#00ff00"/><stop offset=".616" stop-color="#00ff00"/><stop offset=".619" stop-color="#0dff00"/><stop offset=".621" stop-color="#2dff00"/><stop offset=".623" stop-color="#45ff00"/><stop offset=".673" stop-color="#9dff00"/><stop offset=".738" stop-color="#ffff00"/><stop offset=".889" stop-color="#ff7f00"/><stop offset=".928" stop-color="#ff6700"/><stop offset="1" stop-color="#ff4400"/></linearGradient><linearGradient id="c19"><stop offset=".000" stop-color="#00fffd"/><stop offset=".122" stop-color="#00fffb"/><stop offset=".185" stop-color="#00fff2"/><stop offset=".219" stop-color="#00ffe8"/><stop offset=".282" stop-color="#00ffc5"/><stop offset=".391" stop-color="#00ff67"/><stop offset=".431" stop-color="#00ff3f"/><stop offset=".465" stop-color="#00ff18"/><stop offset=".467" stop-color="#00ff13"/><stop offset=".472" stop-color="#00ff00"/><stop offset=".621" stop-color="#00ff00"/><stop offset=".623" stop-color="#08ff00"/><stop offset=".628" stop-color="#45ff00"/><stop offset=".675" stop-color="#9aff00"/><stop offset=".743" stop-color="#ffff00"/><stop offset=".892" stop-color="#ff8000"/><stop offset=".930" stop-color="#ff6800"/><stop offset="1" stop-color="#ff4600"/></linearGradient><linearGradient id="c20"><stop offset=".000" stop-color="#00fdff"/><stop offset=".133" stop-color="#00ffff"/><stop offset=".190" stop-color="#00fff7"/><stop offset=".217" stop-color="#00ffef"/><stop offset=".282" stop-color="#00ffcb"/><stop offset=".381" stop-color="#00ff75"/><stop offset=".465" stop-color="#00ff1f"/><stop offset=".472" stop-color="#00ff17"/><stop offset=".476" stop-color="#00ff04"/><stop offset=".479" stop-color="#00ff00"/><stop offset=".625" stop-color="#00ff00"/><stop offset=".628" stop-color="#07ff00"/><stop offset=".632" stop-color="#45ff00"/><stop offset=".679" stop-color="#9aff00"/><stop offset=".747" stop-color="#ffff00"/><stop offset=".896" stop-color="#ff8000"/><stop offset="1" stop-color="#ff4700"/></linearGradient><linearGradient id="c21"><stop offset=".000" stop-color="#00f9ff"/><stop offset=".108" stop-color="#00f8ff"/><stop offset=".176" stop-color="#00ffff"/><stop offset=".217" stop-color="#00fff5"/><stop offset=".282" stop-color="#00ffd1"/><stop offset=".377" stop-color="#00ff7e"/><stop offset=".470" stop-color="#00ff20"/><stop offset=".479" stop-color="#00ff13"/><stop offset=".483" stop-color="#00ff00"/><stop offset=".630" stop-color="#00ff00"/><stop offset=".632" stop-color="#0bff00"/><stop offset=".634" stop-color="#2dff00"/><stop offset=".637" stop-color="#45ff00"/><stop offset=".682" stop-color="#97ff00"/><stop offset=".752" stop-color="#ffff00"/><stop offset=".898" stop-color="#ff8100"/><stop offset="1" stop-color="#ff4900"/></linearGradient><linearGradient id="c22"><stop offset=".000" stop-color="#00f5ff"/><stop offset=".115" stop-color="#00f4ff"/><stop offset=".203" stop-color="#00ffff"/><stop offset=".214" stop-color="#00fffb"/><stop offset=".280" stop-color="#00ffd9"/><stop offset=".368" stop-color="#00ff8c"/><stop offset=".470" stop-color="#00ff26"/><stop offset=".483" stop-color="#00ff15"/><stop offset=".488" stop-color="#00ff00"/><stop offset=".634" stop-color="#00ff00"/><stop offset=".637" stop-color="#11ff00"/><stop offset=".639" stop-color="#34ff00"/><stop offset=".641" stop-color="#46ff00"/><stop offset=".686" stop-color="#98ff00"/><stop offset=".756" stop-color="#ffff00"/><stop offset=".901" stop-color="#ff8200"/><stop offset="1" stop-color="#ff4a00"/></linearGradient><linearGradient id="c23"><stop offset=".000" stop-color="#00f1ff"/><stop offset=".122" stop-color="#00efff"/><stop offset=".185" stop-color="#00f6ff"/><stop offset=".219" stop-color="#00fffe"/><stop offset=".280" stop-color="#00ffdf"/><stop offset=".354" stop-color="#00ff9e"/><stop offset=".470" stop-color="#00ff2c"/><stop offset=".488" stop-color="#00ff15"/><stop offset=".492" stop-color="#00ff00"/><stop offset=".639" stop-color="#00ff00"/><stop offset=".641" stop-color="#1aff00"/><stop offset=".643" stop-color="#3dff00"/><stop offset=".646" stop-color="#48ff00"/><stop offset=".691" stop-color="#98ff00"/><stop offset=".761" stop-color="#ffff00"/><stop offset=".903" stop-color="#ff8400"/><stop offset="1" stop-color="#ff4b00"/></linearGradient><linearGradient id="c24"><stop offset=".000" stop-color="#00edff"/><stop offset=".133" stop-color="#00ecff"/><stop offset=".192" stop-color="#00f2ff"/><stop offset=".230" stop-color="#00ffff"/><stop offset=".282" stop-color="#00ffe3"/><stop offset=".359" stop-color="#00ff9f"/><stop offset=".472" stop-color="#00ff2f"/><stop offset=".490" stop-color="#00ff18"/><stop offset=".497" stop-color="#00ff00"/><stop offset=".641" stop-color="#00ff00"/><stop offset=".643" stop-color="#02ff00"/><stop offset=".648" stop-color="#44ff00"/><stop offset=".693" stop-color="#96ff00"/><stop offset=".765" stop-color="#feff00"/><stop offset=".905" stop-color="#ff8500"/><stop offset="1" stop-color="#ff4c00"/></linearGradient><linearGradient id="c25"><stop offset=".000" stop-color="#00e9ff"/><stop offset=".149" stop-color="#00e8ff"/><stop offset=".196" stop-color="#00efff"/><stop offset=".244" stop-color="#00fffe"/><stop offset=".273" stop-color="#00ffef"/><stop offset=".307" stop-color="#00ffd4"/><stop offset=".445" stop-color="#00ff50"/><stop offset=".494" stop-color="#00ff17"/><stop offset=".499" stop-color="#00ff05"/><stop offset=".501" stop-color="#00ff00"/><stop offset=".646" stop-color="#00ff00"/><stop offset=".648" stop-color="#0eff00"/><stop offset=".650" stop-color="#30ff00"/><stop offset=".652" stop-color="#46ff00"/><stop offset=".698" stop-color="#97ff00"/><stop offset=".770" stop-color="#feff00"/><stop offset=".907" stop-color="#ff8600"/><stop offset="1" stop-color="#ff4d00"/></linearGradient><linearGradient id="c26"><stop offset=".000" stop-color="#00e6ff"/><stop offset=".099" stop-color="#00e2ff"/><stop offset=".160" stop-color="#00e5ff"/><stop offset=".203" stop-color="#00ecff"/><stop offset=".255" stop-color="#00ffff"/><stop offset=".282" stop-color="#00ffee"/><stop offset=".318" stop-color="#00ffd0"/><stop offset=".454" stop-color="#00ff4b"/><stop offset=".499" stop-color="#00ff17"/><stop offset=".503" stop-color="#00ff02"/><stop offset=".506" stop-color="#00ff00"/><stop offset=".650" stop-color="#00ff00"/><stop offset=".652" stop-color="#1aff00"/><stop offset=".655" stop-color="#3cff00"/><stop offset=".657" stop-color="#48ff00"/><stop offset=".702" stop-color="#98ff00"/><stop offset=".774" stop-color="#feff00"/><stop offset=".912" stop-color="#ff8600"/><stop offset="1" stop-color="#ff4f00"/></linearGradient><linearGradient id="c27"><stop offset=".000" stop-color="#00e2ff"/><stop offset=".102" stop-color="#00deff"/><stop offset=".165" stop-color="#00e1ff"/><stop offset=".210" stop-color="#00eaff"/><stop offset=".264" stop-color="#00ffff"/><stop offset=".327" stop-color="#00ffcd"/><stop offset=".463" stop-color="#00ff46"/><stop offset=".501" stop-color="#00ff19"/><stop offset=".503" stop-color="#00ff15"/><stop offset=".508" stop-color="#00ff00"/><stop offset=".652" stop-color="#00ff00"/><stop offset=".655" stop-color="#03ff00"/><stop offset=".659" stop-color="#45ff00"/><stop offset=".664" stop-color="#4eff00"/><stop offset=".707" stop-color="#99ff00"/><stop offset=".779" stop-color="#feff00"/><stop offset=".914" stop-color="#ff8700"/><stop offset="1" stop-color="#ff5000"/></linearGradient><linearGradient id="c28"><stop offset=".000" stop-color="#00dfff"/><stop offset=".104" stop-color="#00daff"/><stop offset=".169" stop-color="#00ddff"/><stop offset=".221" stop-color="#00e9ff"/><stop offset=".273" stop-color="#00ffff"/><stop offset=".336" stop-color="#00ffc9"/><stop offset=".467" stop-color="#00ff46"/><stop offset=".506" stop-color="#00ff18"/><stop offset=".512" stop-color="#00ff00"/><stop offset=".657" stop-color="#00ff00"/><stop offset=".659" stop-color="#11ff00"/><stop offset=".661" stop-color="#34ff00"/><stop offset=".664" stop-color="#47ff00"/><stop offset=".666" stop-color="#4bff00"/><stop offset=".709" stop-color="#96ff00"/><stop offset=".783" stop-color="#feff00"/><stop offset=".919" stop-color="#ff8700"/><stop offset="1" stop-color="#ff5100"/></linearGradient><linearGradient id="c29"><stop offset=".000" stop-color="#00dbff"/><stop offset=".104" stop-color="#00d6ff"/><stop offset=".172" stop-color="#00d9ff"/><stop offset=".230" stop-color="#00e7ff"/><stop offset=".280" stop-color="#00fffe"/><stop offset=".339" stop-color="#00ffcc"/><stop offset=".472" stop-color="#00ff45"/><stop offset=".510" stop-color="#00ff17"/><stop offset=".517" stop-color="#00ff00"/><stop offset=".661" stop-color="#00ff00"/><stop offset=".666" stop-color="#43ff00"/><stop offset=".668" stop-color="#48ff00"/><stop offset=".711" stop-color="#94ff00"/><stop offset=".788" stop-color="#feff00"/><stop offset=".921" stop-color="#ff8800"/><stop offset="1" stop-color="#ff5300"/></linearGradient><linearGradient id="c30"><stop offset=".000" stop-color="#00d8ff"/><stop offset=".106" stop-color="#00d2ff"/><stop offset=".174" stop-color="#00d6ff"/><stop offset=".237" stop-color="#00e6ff"/><stop offset=".284" stop-color="#00ffff"/><stop offset=".341" stop-color="#00ffcf"/><stop offset=".474" stop-color="#00ff47"/><stop offset=".515" stop-color="#00ff17"/><stop offset=".519" stop-color="#00ff03"/><stop offset=".521" stop-color="#00ff00"/><stop offset=".664" stop-color="#00ff00"/><stop offset=".666" stop-color="#0aff00"/><stop offset=".668" stop-color="#2dff00"/><stop offset=".670" stop-color="#46ff00"/><stop offset=".675" stop-color="#4fff00"/><stop offset=".718" stop-color="#98ff00"/><stop offset=".792" stop-color="#feff00"/><stop offset=".926" stop-color="#ff8800"/><stop offset="1" stop-color="#ff5400"/></linearGradient><linearGradient id="c31"><stop offset=".000" stop-color="#00d4ff"/><stop offset=".108" stop-color="#00ceff"/><stop offset=".178" stop-color="#00d3ff"/><stop offset=".242" stop-color="#00e3ff"/><stop offset=".291" stop-color="#00fffe"/><stop offset=".345" stop-color="#00ffd0"/><stop offset=".481" stop-color="#00ff44"/><stop offset=".519" stop-color="#00ff16"/><stop offset=".524" stop-color="#00ff01"/><stop offset=".668" stop-color="#00ff00"/><stop offset=".670" stop-color="#17ff00"/><stop offset=".673" stop-color="#3aff00"/><stop offset=".675" stop-color="#47ff00"/><stop offset=".679" stop-color="#50ff00"/><stop offset=".720" stop-color="#95ff00"/><stop offset=".797" stop-color="#feff00"/><stop offset=".928" stop-color="#ff8900"/><stop offset="1" stop-color="#ff5600"/></linearGradient><linearGradient id="c32"><stop offset=".000" stop-color="#00d1ff"/><stop offset=".108" stop-color="#00cbff"/><stop offset=".181" stop-color="#00cfff"/><stop offset=".244" stop-color="#00e0ff"/><stop offset=".296" stop-color="#00ffff"/><stop offset=".348" stop-color="#00ffd2"/><stop offset=".485" stop-color="#00ff44"/><stop offset=".524" stop-color="#00ff15"/><stop offset=".528" stop-color="#00ff00"/><stop offset=".670" stop-color="#00ff00"/><stop offset=".673" stop-color="#01ff00"/><stop offset=".677" stop-color="#44ff00"/><stop offset=".684" stop-color="#52ff00"/><stop offset=".725" stop-color="#96ff00"/><stop offset=".801" stop-color="#feff00"/><stop offset=".932" stop-color="#ff8800"/><stop offset="1" stop-color="#ff5800"/></linearGradient><linearGradient id="c33"><stop offset=".000" stop-color="#00ceff"/><stop offset=".111" stop-color="#00c7ff"/><stop offset=".185" stop-color="#00ccff"/><stop offset=".248" stop-color="#00deff"/><stop offset=".302" stop-color="#00ffff"/><stop offset=".352" stop-color="#00ffd3"/><stop offset=".490" stop-color="#00ff44"/><stop offset=".526" stop-color="#00ff18"/><stop offset=".528" stop-color="#00ff14"/><stop offset=".533" stop-color="#00ff00"/><stop offset=".675" stop-color="#00ff00"/><stop offset=".677" stop-color="#0fff00"/><stop offset=".679" stop-color="#32ff00"/><stop offset=".682" stop-color="#46ff00"/><stop offset=".688" stop-color="#54ff00"/><stop offset=".729" stop-color="#97ff00"/><stop offset=".806" stop-color="#feff00"/><stop offset=".935" stop-color="#ff8900"/><stop offset="1" stop-color="#ff5a00"/></linearGradient><linearGradient id="c34"><stop offset=".000" stop-color="#00caff"/><stop offset=".111" stop-color="#00c4ff"/><stop offset=".187" stop-color="#00c9ff"/><stop offset=".251" stop-color="#00dcff"/><stop offset=".307" stop-color="#00feff"/><stop offset=".354" stop-color="#00ffd6"/><stop offset=".494" stop-color="#00ff43"/><stop offset=".530" stop-color="#00ff18"/><stop offset=".537" stop-color="#00ff00"/><stop offset=".679" stop-color="#00ff00"/><stop offset=".682" stop-color="#1dff00"/><stop offset=".684" stop-color="#40ff00"/><stop offset=".691" stop-color="#51ff00"/><stop offset=".731" stop-color="#95ff00"/><stop offset=".810" stop-color="#feff00"/><stop offset=".937" stop-color="#ff8b00"/><stop offset="1" stop-color="#ff5b00"/></linearGradient><linearGradient id="c35"><stop offset=".000" stop-color="#00c7ff"/><stop offset=".113" stop-color="#00c0ff"/><stop offset=".190" stop-color="#00c6ff"/><stop offset=".253" stop-color="#00d9ff"/><stop offset=".314" stop-color="#00ffff"/><stop offset=".361" stop-color="#00ffd4"/><stop offset=".501" stop-color="#00ff40"/><stop offset=".535" stop-color="#00ff17"/><stop offset=".542" stop-color="#00ff00"/><stop offset=".682" stop-color="#00ff00"/><stop offset=".684" stop-color="#07ff00"/><stop offset=".686" stop-color="#2bff00"/><stop offset=".688" stop-color="#45ff00"/><stop offset=".695" stop-color="#53ff00"/><stop offset=".734" stop-color="#92ff00"/><stop offset=".815" stop-color="#ffff00"/><stop offset=".939" stop-color="#ff8c00"/><stop offset="1" stop-color="#ff5d00"/></linearGradient><linearGradient id="c36"><stop offset=".000" stop-color="#00c3ff"/><stop offset=".115" stop-color="#00bdff"/><stop offset=".194" stop-color="#00c4ff"/><stop offset=".257" stop-color="#00d8ff"/><stop offset=".321" stop-color="#00ffff"/><stop offset=".366" stop-color="#00ffd5"/><stop offset=".506" stop-color="#00ff40"/><stop offset=".540" stop-color="#00ff17"/><stop offset=".544" stop-color="#00ff04"/><stop offset=".546" stop-color="#00ff00"/><stop offset=".686" stop-color="#00ff00"/><stop offset=".688" stop-color="#14ff00"/><stop offset=".691" stop-color="#37ff00"/><stop offset=".693" stop-color="#47ff00"/><stop offset=".700" stop-color="#54ff00"/><stop offset=".738" stop-color="#93ff00"/><stop offset=".819" stop-color="#ffff00"/><stop offset=".941" stop-color="#ff8d00"/><stop offset="1" stop-color="#ff6000"/></linearGradient><linearGradient id="c37"><stop offset=".000" stop-color="#00bfff"/><stop offset=".117" stop-color="#00baff"/><stop offset=".196" stop-color="#00c1ff"/><stop offset=".262" stop-color="#00d6ff"/><stop offset=".325" stop-color="#00ffff"/><stop offset=".370" stop-color="#00ffd5"/><stop offset=".510" stop-color="#00ff40"/><stop offset=".544" stop-color="#00ff17"/><stop offset=".549" stop-color="#00ff03"/><stop offset=".551" stop-color="#00ff00"/><stop offset=".691" stop-color="#00ff00"/><stop offset=".695" stop-color="#44ff00"/><stop offset=".702" stop-color="#51ff00"/><stop offset=".740" stop-color="#91ff00"/><stop offset=".824" stop-color="#ffff00"/><stop offset=".944" stop-color="#ff8f00"/><stop offset="1" stop-color="#ff6200"/></linearGradient><linearGradient id="c38"><stop offset=".000" stop-color="#00bbff"/><stop offset=".120" stop-color="#00b7ff"/><stop offset=".199" stop-color="#00beff"/><stop offset=".266" stop-color="#00d5ff"/><stop offset=".332" stop-color="#00fffe"/><stop offset=".375" stop-color="#00ffd6"/><stop offset=".517" stop-color="#00ff3d"/><stop offset=".549" stop-color="#00ff17"/><stop offset=".553" stop-color="#00ff02"/><stop offset=".555" stop-color="#00ff00"/><stop offset=".693" stop-color="#00ff00"/><stop offset=".695" stop-color="#0cff00"/><stop offset=".698" stop-color="#2fff00"/><stop offset=".700" stop-color="#46ff00"/><stop offset=".709" stop-color="#57ff00"/><stop offset=".747" stop-color="#95ff00"/><stop offset=".828" stop-color="#fffe00"/><stop offset=".946" stop-color="#ff9000"/><stop offset="1" stop-color="#ff6400"/></linearGradient><linearGradient id="c39"><stop offset=".000" stop-color="#00b7ff"/><stop offset=".124" stop-color="#00b4ff"/><stop offset=".203" stop-color="#00bcff"/><stop offset=".271" stop-color="#00d4ff"/><stop offset=".336" stop-color="#00ffff"/><stop offset=".379" stop-color="#00ffd6"/><stop offset=".524" stop-color="#00ff3a"/><stop offset=".553" stop-color="#00ff16"/><stop offset=".558" stop-color="#00ff02"/><stop offset=".560" stop-color="#00ff00"/><stop offset=".698" stop-color="#00ff00"/><stop offset=".700" stop-color="#1bff00"/><stop offset=".702" stop-color="#3eff00"/><stop offset=".704" stop-color="#48ff00"/><stop offset=".709" stop-color="#51ff00"/><stop offset=".747" stop-color="#8fff00"/><stop offset=".831" stop-color="#fdff00"/><stop offset=".950" stop-color="#ff8f00"/><stop offset="1" stop-color="#ff6700"/></linearGradient><linearGradient id="c40"><stop offset=".000" stop-color="#00b3ff"/><stop offset=".126" stop-color="#00b1ff"/><stop offset=".205" stop-color="#00baff"/><stop offset=".275" stop-color="#00d3ff"/><stop offset=".341" stop-color="#00feff"/><stop offset=".384" stop-color="#00ffd6"/><stop offset=".530" stop-color="#00ff37"/><stop offset=".558" stop-color="#00ff16"/><stop offset=".562" stop-color="#00ff01"/><stop offset=".700" stop-color="#00ff00"/><stop offset=".702" stop-color="#06ff00"/><stop offset=".704" stop-color="#29ff00"/><stop offset=".707" stop-color="#45ff00"/><stop offset=".713" stop-color="#52ff00"/><stop offset=".749" stop-color="#8dff00"/><stop offset=".835" stop-color="#feff00"/><stop offset=".953" stop-color="#ff9000"/><stop offset="1" stop-color="#ff6900"/></linearGradient><linearGradient id="c41"><stop offset=".000" stop-color="#00afff"/><stop offset=".131" stop-color="#00aeff"/><stop offset=".210" stop-color="#00b8ff"/><stop offset=".280" stop-color="#00d1ff"/><stop offset=".348" stop-color="#00ffff"/><stop offset=".391" stop-color="#00ffd5"/><stop offset=".540" stop-color="#00ff32"/><stop offset=".562" stop-color="#00ff16"/><stop offset=".567" stop-color="#00ff01"/><stop offset=".704" stop-color="#00ff00"/><stop offset=".707" stop-color="#13ff00"/><stop offset=".709" stop-color="#36ff00"/><stop offset=".711" stop-color="#47ff00"/><stop offset=".718" stop-color="#54ff00"/><stop offset=".754" stop-color="#8eff00"/><stop offset=".840" stop-color="#ffff00"/><stop offset=".953" stop-color="#ff9400"/><stop offset="1" stop-color="#ff6c00"/></linearGradient><linearGradient id="c42"><stop offset=".000" stop-color="#00abff"/><stop offset=".135" stop-color="#00acff"/><stop offset=".214" stop-color="#00b6ff"/><stop offset=".287" stop-color="#00d2ff"/><stop offset=".352" stop-color="#00ffff"/><stop offset=".393" stop-color="#00ffd7"/><stop offset=".546" stop-color="#00ff2f"/><stop offset=".567" stop-color="#00ff16"/><stop offset=".571" stop-color="#00ff01"/><stop offset=".709" stop-color="#00ff00"/><stop offset=".713" stop-color="#42ff00"/><stop offset=".720" stop-color="#51ff00"/><stop offset=".756" stop-color="#8bff00"/><stop offset=".844" stop-color="#ffff00"/><stop offset=".955" stop-color="#ff9500"/><stop offset="1" stop-color="#ff6e00"/></linearGradient><linearGradient id="c43"><stop offset=".000" stop-color="#00a8ff"/><stop offset=".138" stop-color="#00a9ff"/><stop offset=".217" stop-color="#00b4ff"/><stop offset=".289" stop-color="#00cfff"/><stop offset=".357" stop-color="#00feff"/><stop offset=".395" stop-color="#00ffda"/><stop offset=".553" stop-color="#00ff2c"/><stop offset=".571" stop-color="#00ff16"/><stop offset=".576" stop-color="#00ff01"/><stop offset=".711" stop-color="#00ff00"/><stop offset=".713" stop-color="#0bff00"/><stop offset=".716" stop-color="#2eff00"/><stop offset=".718" stop-color="#46ff00"/><stop offset=".725" stop-color="#53ff00"/><stop offset=".761" stop-color="#8cff00"/><stop offset=".849" stop-color="#fffe00"/><stop offset="1" stop-color="#ff7100"/></linearGradient><linearGradient id="c44"><stop offset=".000" stop-color="#00a4ff"/><stop offset=".142" stop-color="#00a7ff"/><stop offset=".221" stop-color="#00b3ff"/><stop offset=".296" stop-color="#00d0ff"/><stop offset=".363" stop-color="#00ffff"/><stop offset=".402" stop-color="#00ffd8"/><stop offset=".562" stop-color="#00ff27"/><stop offset=".576" stop-color="#00ff16"/><stop offset=".580" stop-color="#00ff01"/><stop offset=".716" stop-color="#00ff00"/><stop offset=".718" stop-color="#1aff00"/><stop offset=".720" stop-color="#3bff00"/><stop offset=".722" stop-color="#47ff00"/><stop offset=".727" stop-color="#50ff00"/><stop offset=".763" stop-color="#8aff00"/><stop offset=".851" stop-color="#feff00"/><stop offset="1" stop-color="#ff7400"/></linearGradient><linearGradient id="c45"><stop offset=".000" stop-color="#00a0ff"/><stop offset=".147" stop-color="#00a5ff"/><stop offset=".226" stop-color="#00b1ff"/><stop offset=".300" stop-color="#00cfff"/><stop offset=".368" stop-color="#00ffff"/><stop offset=".567" stop-color="#00ff27"/><stop offset=".580" stop-color="#00ff16"/><stop offset=".585" stop-color="#00ff01"/><stop offset=".718" stop-color="#00ff00"/><stop offset=".720" stop-color="#05ff00"/><stop offset=".725" stop-color="#45ff00"/><stop offset=".731" stop-color="#51ff00"/><stop offset=".765" stop-color="#87ff00"/><stop offset=".856" stop-color="#ffff00"/><stop offset="1" stop-color="#ff7700"/></linearGradient><linearGradient id="c46"><stop offset=".000" stop-color="#009dff"/><stop offset=".149" stop-color="#00a3ff"/><stop offset=".228" stop-color="#00afff"/><stop offset=".305" stop-color="#00ceff"/><stop offset=".372" stop-color="#00feff"/><stop offset=".406" stop-color="#00ffdd"/><stop offset=".492" stop-color="#00ff7a"/><stop offset=".573" stop-color="#00ff24"/><stop offset=".585" stop-color="#00ff16"/><stop offset=".589" stop-color="#00ff00"/><stop offset=".722" stop-color="#00ff00"/><stop offset=".725" stop-color="#12ff00"/><stop offset=".727" stop-color="#33ff00"/><stop offset=".729" stop-color="#46ff00"/><stop offset=".734" stop-color="#4fff00"/><stop offset=".767" stop-color="#85ff00"/><stop offset=".858" stop-color="#fdff00"/><stop offset="1" stop-color="#ff7a00"/></linearGradient><linearGradient id="c47"><stop offset=".000" stop-color="#0099ff"/><stop offset=".153" stop-color="#00a1ff"/><stop offset=".233" stop-color="#00aeff"/><stop offset=".309" stop-color="#00cdff"/><stop offset=".377" stop-color="#00feff"/><stop offset=".406" stop-color="#00ffe2"/><stop offset=".494" stop-color="#00ff7c"/><stop offset=".576" stop-color="#00ff26"/><stop offset=".587" stop-color="#00ff18"/><stop offset=".589" stop-color="#00ff13"/><stop offset=".594" stop-color="#00ff00"/><stop offset=".727" stop-color="#00ff00"/><stop offset=".731" stop-color="#3eff00"/><stop offset=".736" stop-color="#4cff00"/><stop offset=".772" stop-color="#86ff00"/><stop offset=".862" stop-color="#feff00"/><stop offset="1" stop-color="#ff7d00"/></linearGradient><linearGradient id="c48"><stop offset=".000" stop-color="#0096ff"/><stop offset=".158" stop-color="#009fff"/><stop offset=".237" stop-color="#00adff"/><stop offset=".314" stop-color="#00ccff"/><stop offset=".384" stop-color="#00fffe"/><stop offset=".422" stop-color="#00ffd6"/><stop offset=".499" stop-color="#00ff7b"/><stop offset=".580" stop-color="#00ff25"/><stop offset=".591" stop-color="#00ff17"/><stop offset=".596" stop-color="#00ff01"/><stop offset=".729" stop-color="#00ff00"/><stop offset=".731" stop-color="#08ff00"/><stop offset=".736" stop-color="#45ff00"/><stop offset=".740" stop-color="#4dff00"/><stop offset=".774" stop-color="#84ff00"/><stop offset=".867" stop-color="#ffff00"/><stop offset="1" stop-color="#ff8000"/></linearGradient><linearGradient id="c49"><stop offset=".000" stop-color="#0093ff"/><stop offset=".163" stop-color="#009dff"/><stop offset=".242" stop-color="#00acff"/><stop offset=".318" stop-color="#00cbff"/><stop offset=".352" stop-color="#00e1ff"/><stop offset=".388" stop-color="#00ffff"/><stop offset=".427" stop-color="#00ffd5"/><stop offset=".501" stop-color="#00ff7c"/><stop offset=".580" stop-color="#00ff29"/><stop offset=".594" stop-color="#00ff18"/><stop offset=".598" stop-color="#00ff05"/><stop offset=".600" stop-color="#00ff00"/><stop offset=".734" stop-color="#00ff00"/><stop offset=".736" stop-color="#14ff00"/><stop offset=".738" stop-color="#35ff00"/><stop offset=".740" stop-color="#46ff00"/><stop offset=".743" stop-color="#4bff00"/><stop offset=".777" stop-color="#81ff00"/><stop offset=".869" stop-color="#feff00"/><stop offset="1" stop-color="#ff8300"/></linearGradient><linearGradient id="c50"><stop offset=".000" stop-color="#0090ff"/><stop offset=".165" stop-color="#009cff"/><stop offset=".244" stop-color="#00aaff"/><stop offset=".323" stop-color="#00cbff"/><stop offset=".359" stop-color="#00e2ff"/><stop offset=".393" stop-color="#00ffff"/><stop offset=".429" stop-color="#00ffd8"/><stop offset=".503" stop-color="#00ff7d"/><stop offset=".582" stop-color="#00ff2a"/><stop offset=".596" stop-color="#00ff18"/><stop offset=".598" stop-color="#00ff13"/><stop offset=".603" stop-color="#00ff00"/><stop offset=".738" stop-color="#00ff00"/><stop offset=".743" stop-color="#41ff00"/><stop offset=".745" stop-color="#48ff00"/><stop offset=".781" stop-color="#82ff00"/><stop offset=".874" stop-color="#fffe00"/><stop offset="1" stop-color="#ff8700"/></linearGradient><linearGradient id="c51"><stop offset=".000" stop-color="#008eff"/><stop offset=".169" stop-color="#009aff"/><stop offset=".248" stop-color="#00a9ff"/><stop offset=".327" stop-color="#00caff"/><stop offset=".363" stop-color="#00e2ff"/><stop offset=".397" stop-color="#00ffff"/><stop offset=".433" stop-color="#00ffd7"/><stop offset=".506" stop-color="#00ff7f"/><stop offset=".585" stop-color="#00ff2b"/><stop offset=".600" stop-color="#00ff16"/><stop offset=".605" stop-color="#00ff00"/><stop offset=".740" stop-color="#00ff00"/><stop offset=".743" stop-color="#0cff00"/><stop offset=".745" stop-color="#2cff00"/><stop offset=".747" stop-color="#45ff00"/><stop offset=".781" stop-color="#7cff00"/><stop offset=".876" stop-color="#feff00"/><stop offset="1" stop-color="#ff8b00"/></linearGradient><linearGradient id="c52"><stop offset=".000" stop-color="#008cff"/><stop offset=".172" stop-color="#0098ff"/><stop offset=".253" stop-color="#00a8ff"/><stop offset=".332" stop-color="#00c9ff"/><stop offset=".368" stop-color="#00e2ff"/><stop offset=".402" stop-color="#00ffff"/><stop offset=".438" stop-color="#00ffd7"/><stop offset=".508" stop-color="#00ff80"/><stop offset=".587" stop-color="#00ff2b"/><stop offset=".603" stop-color="#00ff17"/><stop offset=".607" stop-color="#00ff00"/><stop offset=".745" stop-color="#00ff00"/><stop offset=".747" stop-color="#17ff00"/><stop offset=".749" stop-color="#36ff00"/><stop offset=".752" stop-color="#46ff00"/><stop offset=".786" stop-color="#7dff00"/><stop offset=".878" stop-color="#fdff00"/><stop offset="1" stop-color="#ff8f00"/></linearGradient><linearGradient id="c53"><stop offset=".000" stop-color="#008aff"/><stop offset=".172" stop-color="#0097ff"/><stop offset=".255" stop-color="#00a6ff"/><stop offset=".298" stop-color="#00b5ff"/><stop offset=".336" stop-color="#00c9ff"/><stop offset=".372" stop-color="#00e1ff"/><stop offset=".406" stop-color="#00ffff"/><stop offset=".440" stop-color="#00ffd9"/><stop offset=".510" stop-color="#00ff81"/><stop offset=".589" stop-color="#00ff2c"/><stop offset=".605" stop-color="#00ff17"/><stop offset=".609" stop-color="#00ff03"/><stop offset=".612" stop-color="#00ff00"/><stop offset=".747" stop-color="#00ff00"/><stop offset=".749" stop-color="#02ff00"/><stop offset=".754" stop-color="#41ff00"/><stop offset=".756" stop-color="#48ff00"/><stop offset=".788" stop-color="#7bff00"/><stop offset=".883" stop-color="#ffff00"/><stop offset="1" stop-color="#ff9300"/></linearGradient><linearGradient id="c54"><stop offset=".000" stop-color="#0089ff"/><stop offset=".174" stop-color="#0095ff"/><stop offset=".260" stop-color="#00a5ff"/><stop offset=".302" stop-color="#00b5ff"/><stop offset=".341" stop-color="#00c8ff"/><stop offset=".377" stop-color="#00e1ff"/><stop offset=".411" stop-color="#00ffff"/><stop offset=".445" stop-color="#00ffd8"/><stop offset=".512" stop-color="#00ff82"/><stop offset=".594" stop-color="#00ff2a"/><stop offset=".607" stop-color="#00ff18"/><stop offset=".614" stop-color="#00ff00"/><stop offset=".752" stop-color="#00ff00"/><stop offset=".754" stop-color="#0dff00"/><stop offset=".756" stop-color="#2dff00"/><stop offset=".758" stop-color="#45ff00"/><stop offset=".790" stop-color="#79ff00"/><stop offset=".885" stop-color="#fdff00"/><stop offset="1" stop-color="#ff9700"/></linearGradient><linearGradient id="c55"><stop offset=".000" stop-color="#0088ff"/><stop offset=".174" stop-color="#0093ff"/><stop offset=".262" stop-color="#00a4ff"/><stop offset=".305" stop-color="#00b3ff"/><stop offset=".343" stop-color="#00c6ff"/><stop offset=".379" stop-color="#00dfff"/><stop offset=".415" stop-color="#00ffff"/><stop offset=".447" stop-color="#00ffdb"/><stop offset=".515" stop-color="#00ff84"/><stop offset=".598" stop-color="#00ff28"/><stop offset=".612" stop-color="#00ff14"/><stop offset=".616" stop-color="#00ff00"/><stop offset=".756" stop-color="#00ff00"/><stop offset=".761" stop-color="#39ff00"/><stop offset=".763" stop-color="#47ff00"/><stop offset=".795" stop-color="#7aff00"/><stop offset=".889" stop-color="#ffff00"/><stop offset="1" stop-color="#ff9b00"/></linearGradient><linearGradient id="c56"><stop offset=".000" stop-color="#0087ff"/><stop offset=".172" stop-color="#0091ff"/><stop offset=".264" stop-color="#00a2ff"/><stop offset=".307" stop-color="#00b1ff"/><stop offset=".348" stop-color="#00c6ff"/><stop offset=".384" stop-color="#00dfff"/><stop offset=".420" stop-color="#00ffff"/><stop offset=".519" stop-color="#00ff82"/><stop offset=".603" stop-color="#00ff25"/><stop offset=".614" stop-color="#00ff16"/><stop offset=".619" stop-color="#00ff00"/><stop offset=".758" stop-color="#00ff00"/><stop offset=".761" stop-color="#05ff00"/><stop offset=".765" stop-color="#43ff00"/><stop offset=".767" stop-color="#48ff00"/><stop offset=".799" stop-color="#7bff00"/><stop offset=".892" stop-color="#fdff00"/><stop offset="1" stop-color="#ff9f00"/></linearGradient><linearGradient id="c57"><stop offset=".000" stop-color="#0086ff"/><stop offset=".172" stop-color="#0090ff"/><stop offset=".266" stop-color="#00a1ff"/><stop offset=".312" stop-color="#00b1ff"/><stop offset=".352" stop-color="#00c5ff"/><stop offset=".388" stop-color="#00dfff"/><stop offset=".424" stop-color="#00fffe"/><stop offset=".524" stop-color="#00ff81"/><stop offset=".605" stop-color="#00ff26"/><stop offset=".616" stop-color="#00ff17"/><stop offset=".621" stop-color="#00ff03"/><stop offset=".623" stop-color="#00ff00"/><stop offset=".763" stop-color="#00ff00"/><stop offset=".765" stop-color="#10ff00"/><stop offset=".767" stop-color="#2fff00"/><stop offset=".770" stop-color="#45ff00"/><stop offset=".801" stop-color="#78ff00"/><stop offset=".896" stop-color="#feff00"/><stop offset="1" stop-color="#ffa300"/></linearGradient><linearGradient id="c58"><stop offset=".000" stop-color="#0085ff"/><stop offset=".172" stop-color="#008eff"/><stop offset=".271" stop-color="#00a0ff"/><stop offset=".316" stop-color="#00b0ff"/><stop offset=".357" stop-color="#00c5ff"/><stop offset=".393" stop-color="#00deff"/><stop offset=".429" stop-color="#00fffe"/><stop offset=".526" stop-color="#00ff82"/><stop offset=".609" stop-color="#00ff24"/><stop offset=".619" stop-color="#00ff18"/><stop offset=".625" stop-color="#00ff00"/><stop offset=".767" stop-color="#00ff00"/><stop offset=".772" stop-color="#3aff00"/><stop offset=".774" stop-color="#47ff00"/><stop offset=".806" stop-color="#79ff00"/><stop offset=".901" stop-color="#ffff00"/><stop offset="1" stop-color="#ffa700"/></linearGradient><linearGradient id="c59"><stop offset=".000" stop-color="#0084ff"/><stop offset=".169" stop-color="#008cff"/><stop offset=".273" stop-color="#009fff"/><stop offset=".318" stop-color="#00aeff"/><stop offset=".359" stop-color="#00c3ff"/><stop offset=".397" stop-color="#00deff"/><stop offset=".431" stop-color="#00fdff"/><stop offset=".458" stop-color="#00ffe1"/><stop offset=".528" stop-color="#00ff84"/><stop offset=".614" stop-color="#00ff22"/><stop offset=".623" stop-color="#00ff15"/><stop offset=".628" stop-color="#00ff00"/><stop offset=".770" stop-color="#00ff00"/><stop offset=".772" stop-color="#07ff00"/><stop offset=".777" stop-color="#44ff00"/><stop offset=".808" stop-color="#77ff00"/><stop offset=".903" stop-color="#fdff00"/><stop offset="1" stop-color="#ffab00"/></linearGradient><linearGradient id="c60"><stop offset=".000" stop-color="#0083ff"/><stop offset=".169" stop-color="#008bff"/><stop offset=".275" stop-color="#009dff"/><stop offset=".321" stop-color="#00adff"/><stop offset=".363" stop-color="#00c3ff"/><stop offset=".402" stop-color="#00deff"/><stop offset=".436" stop-color="#00feff"/><stop offset=".460" stop-color="#00ffe3"/><stop offset=".533" stop-color="#00ff83"/><stop offset=".616" stop-color="#00ff23"/><stop offset=".625" stop-color="#00ff17"/><stop offset=".630" stop-color="#00ff01"/><stop offset=".774" stop-color="#00ff00"/><stop offset=".777" stop-color="#12ff00"/><stop offset=".779" stop-color="#31ff00"/><stop offset=".781" stop-color="#45ff00"/><stop offset=".813" stop-color="#78ff00"/><stop offset=".907" stop-color="#feff00"/><stop offset="1" stop-color="#ffaf00"/></linearGradient><linearGradient id="c61"><stop offset=".000" stop-color="#0082ff"/><stop offset=".167" stop-color="#0089ff"/><stop offset=".278" stop-color="#009cff"/><stop offset=".323" stop-color="#00abff"/><stop offset=".366" stop-color="#00c1ff"/><stop offset=".404" stop-color="#00dcff"/><stop offset=".440" stop-color="#00feff"/><stop offset=".465" stop-color="#00ffe2"/><stop offset=".535" stop-color="#00ff84"/><stop offset=".621" stop-color="#00ff21"/><stop offset=".628" stop-color="#00ff18"/><stop offset=".632" stop-color="#00ff05"/><stop offset=".634" stop-color="#00ff00"/><stop offset=".779" stop-color="#00ff00"/><stop offset=".783" stop-color="#3aff00"/><stop offset=".786" stop-color="#47ff00"/><stop offset=".817" stop-color="#78ff00"/><stop offset=".912" stop-color="#ffff00"/><stop offset="1" stop-color="#ffb200"/></linearGradient><linearGradient id="c62"><stop offset=".000" stop-color="#0081ff"/><stop offset=".167" stop-color="#0087ff"/><stop offset=".282" stop-color="#009bff"/><stop offset=".327" stop-color="#00abff"/><stop offset=".370" stop-color="#00c1ff"/><stop offset=".409" stop-color="#00dcff"/><stop offset=".445" stop-color="#00feff"/><stop offset=".470" stop-color="#00ffe2"/><stop offset=".540" stop-color="#00ff83"/><stop offset=".625" stop-color="#00ff1e"/><stop offset=".632" stop-color="#00ff13"/><stop offset=".637" stop-color="#00ff00"/><stop offset=".781" stop-color="#00ff00"/><stop offset=".783" stop-color="#07ff00"/><stop offset=".788" stop-color="#42ff00"/><stop offset=".790" stop-color="#48ff00"/><stop offset=".824" stop-color="#7cff00"/><stop offset=".916" stop-color="#ffff00"/><stop offset="1" stop-color="#ffb600"/></linearGradient><linearGradient id="c63"><stop offset=".000" stop-color="#007fff"/><stop offset=".167" stop-color="#0086ff"/><stop offset=".284" stop-color="#009aff"/><stop offset=".332" stop-color="#00aaff"/><stop offset=".375" stop-color="#00c1ff"/><stop offset=".413" stop-color="#00dcff"/><stop offset=".449" stop-color="#00feff"/><stop offset=".542" stop-color="#00ff84"/><stop offset=".630" stop-color="#00ff1c"/><stop offset=".634" stop-color="#00ff16"/><stop offset=".639" stop-color="#00ff00"/><stop offset=".786" stop-color="#00ff00"/><stop offset=".788" stop-color="#10ff00"/><stop offset=".790" stop-color="#2dff00"/><stop offset=".792" stop-color="#45ff00"/><stop offset=".826" stop-color="#7aff00"/><stop offset=".919" stop-color="#fdff00"/><stop offset="1" stop-color="#ffba00"/></linearGradient><linearGradient id="c64"><stop offset=".000" stop-color="#007eff"/><stop offset=".167" stop-color="#0084ff"/><stop offset=".289" stop-color="#0099ff"/><stop offset=".336" stop-color="#00aaff"/><stop offset=".379" stop-color="#00c0ff"/><stop offset=".418" stop-color="#00dcff"/><stop offset=".454" stop-color="#00ffff"/><stop offset=".544" stop-color="#00ff85"/><stop offset=".634" stop-color="#00ff1a"/><stop offset=".637" stop-color="#00ff16"/><stop offset=".641" stop-color="#00ff00"/><stop offset=".790" stop-color="#00ff00"/><stop offset=".795" stop-color="#36ff00"/><stop offset=".797" stop-color="#46ff00"/><stop offset=".833" stop-color="#7eff00"/><stop offset=".923" stop-color="#fdff00"/><stop offset="1" stop-color="#ffbe00"/></linearGradient><linearGradient id="c65"><stop offset=".000" stop-color="#007cff"/><stop offset=".167" stop-color="#0082ff"/><stop offset=".291" stop-color="#0098ff"/><stop offset=".341" stop-color="#00aaff"/><stop offset=".384" stop-color="#00c0ff"/><stop offset=".422" stop-color="#00dcff"/><stop offset=".458" stop-color="#00fffe"/><stop offset=".546" stop-color="#00ff87"/><stop offset=".637" stop-color="#00ff1a"/><stop offset=".639" stop-color="#00ff17"/><stop offset=".643" stop-color="#00ff01"/><stop offset=".792" stop-color="#00ff00"/><stop offset=".795" stop-color="#04ff00"/><stop offset=".799" stop-color="#3eff00"/><stop offset=".801" stop-color="#47ff00"/><stop offset=".842" stop-color="#85ff00"/><stop offset=".928" stop-color="#feff00"/><stop offset="1" stop-color="#ffc100"/></linearGradient><linearGradient id="c66"><stop offset=".000" stop-color="#007aff"/><stop offset=".167" stop-color="#0081ff"/><stop offset=".293" stop-color="#0097ff"/><stop offset=".343" stop-color="#00a8ff"/><stop offset=".386" stop-color="#00bfff"/><stop offset=".424" stop-color="#00daff"/><stop offset=".460" stop-color="#00feff"/><stop offset=".551" stop-color="#00ff85"/><stop offset=".637" stop-color="#00ff1d"/><stop offset=".641" stop-color="#00ff17"/><stop offset=".646" stop-color="#00ff01"/><stop offset=".797" stop-color="#00ff00"/><stop offset=".799" stop-color="#0dff00"/><stop offset=".804" stop-color="#44ff00"/><stop offset=".847" stop-color="#86ff00"/><stop offset=".932" stop-color="#ffff00"/><stop offset="1" stop-color="#ffc500"/></linearGradient><linearGradient id="c67"><stop offset=".000" stop-color="#0078ff"/><stop offset=".169" stop-color="#007fff"/><stop offset=".298" stop-color="#0096ff"/><stop offset=".348" stop-color="#00a8ff"/><stop offset=".391" stop-color="#00beff"/><stop offset=".431" stop-color="#00ddff"/><stop offset=".465" stop-color="#00ffff"/><stop offset=".553" stop-color="#00ff87"/><stop offset=".641" stop-color="#00ff1a"/><stop offset=".643" stop-color="#00ff17"/><stop offset=".648" stop-color="#00ff01"/><stop offset=".801" stop-color="#00ff00"/><stop offset=".808" stop-color="#45ff00"/><stop offset=".853" stop-color="#8bff00"/><stop offset=".935" stop-color="#fdff00"/><stop offset="1" stop-color="#ffc900"/></linearGradient><linearGradient id="c68"><stop offset=".000" stop-color="#0075ff"/><stop offset=".169" stop-color="#007dff"/><stop offset=".300" stop-color="#0095ff"/><stop offset=".350" stop-color="#00a7ff"/><stop offset=".395" stop-color="#00beff"/><stop offset=".433" stop-color="#00dbff"/><stop offset=".467" stop-color="#00fdff"/><stop offset=".488" stop-color="#00ffe7"/><stop offset=".560" stop-color="#00ff82"/><stop offset=".643" stop-color="#00ff1a"/><stop offset=".646" stop-color="#00ff17"/><stop offset=".650" stop-color="#00ff01"/><stop offset=".806" stop-color="#00ff00"/><stop offset=".810" stop-color="#39ff00"/><stop offset=".813" stop-color="#46ff00"/><stop offset=".856" stop-color="#89ff00"/><stop offset=".939" stop-color="#feff00"/><stop offset="1" stop-color="#ffcc00"/></linearGradient><linearGradient id="c69"><stop offset=".000" stop-color="#0073ff"/><stop offset=".172" stop-color="#007cff"/><stop offset=".246" stop-color="#0086ff"/><stop offset=".305" stop-color="#0094ff"/><stop offset=".354" stop-color="#00a6ff"/><stop offset=".400" stop-color="#00bfff"/><stop offset=".438" stop-color="#00dcff"/><stop offset=".472" stop-color="#00feff"/><stop offset=".562" stop-color="#00ff83"/><stop offset=".648" stop-color="#00ff17"/><stop offset=".652" stop-color="#00ff01"/><stop offset=".808" stop-color="#00ff00"/><stop offset=".810" stop-color="#0aff00"/><stop offset=".815" stop-color="#43ff00"/><stop offset=".817" stop-color="#48ff00"/><stop offset=".860" stop-color="#8bff00"/><stop offset=".944" stop-color="#ffff00"/><stop offset="1" stop-color="#ffcf00"/></linearGradient><linearGradient id="c70"><stop offset=".000" stop-color="#0071ff"/><stop offset=".172" stop-color="#007aff"/><stop offset=".305" stop-color="#0092ff"/><stop offset=".357" stop-color="#00a5ff"/><stop offset=".400" stop-color="#00bcff"/><stop offset=".438" stop-color="#00d8ff"/><stop offset=".474" stop-color="#00fdff"/><stop offset=".494" stop-color="#00ffe7"/><stop offset=".567" stop-color="#00ff81"/><stop offset=".650" stop-color="#00ff17"/><stop offset=".655" stop-color="#00ff01"/><stop offset=".813" stop-color="#00ff00"/><stop offset=".817" stop-color="#33ff00"/><stop offset=".819" stop-color="#46ff00"/><stop offset=".862" stop-color="#89ff00"/><stop offset=".946" stop-color="#fdff00"/><stop offset="1" stop-color="#ffd300"/></linearGradient><linearGradient id="c71"><stop offset=".000" stop-color="#006eff"/><stop offset=".174" stop-color="#0078ff"/><stop offset=".309" stop-color="#0092ff"/><stop offset=".361" stop-color="#00a5ff"/><stop offset=".404" stop-color="#00bcff"/><stop offset=".442" stop-color="#00d9ff"/><stop offset=".479" stop-color="#00feff"/><stop offset=".571" stop-color="#00ff7f"/><stop offset=".652" stop-color="#00ff16"/><stop offset=".657" stop-color="#00ff00"/><stop offset=".815" stop-color="#00ff00"/><stop offset=".817" stop-color="#0aff00"/><stop offset=".822" stop-color="#44ff00"/><stop offset=".883" stop-color="#a1ff00"/><stop offset=".950" stop-color="#feff00"/><stop offset="1" stop-color="#ffd600"/></linearGradient><linearGradient id="c72"><stop offset=".000" stop-color="#006cff"/><stop offset=".176" stop-color="#0076ff"/><stop offset=".312" stop-color="#0091ff"/><stop offset=".363" stop-color="#00a4ff"/><stop offset=".409" stop-color="#00bcff"/><stop offset=".447" stop-color="#00daff"/><stop offset=".483" stop-color="#00fffe"/><stop offset=".573" stop-color="#00ff7f"/><stop offset=".655" stop-color="#00ff16"/><stop offset=".659" stop-color="#00ff00"/><stop offset=".817" stop-color="#00ff00"/><stop offset=".819" stop-color="#02ff00"/><stop offset=".824" stop-color="#3cff00"/><stop offset=".826" stop-color="#47ff00"/><stop offset=".878" stop-color="#97ff00"/><stop offset=".955" stop-color="#ffff00"/><stop offset="1" stop-color="#ffd900"/></linearGradient><linearGradient id="c73"><stop offset=".000" stop-color="#0069ff"/><stop offset=".176" stop-color="#0074ff"/><stop offset=".314" stop-color="#0090ff"/><stop offset=".366" stop-color="#00a3ff"/><stop offset=".411" stop-color="#00bbff"/><stop offset=".449" stop-color="#00d9ff"/><stop offset=".485" stop-color="#00feff"/><stop offset=".578" stop-color="#00ff7d"/><stop offset=".657" stop-color="#00ff16"/><stop offset=".661" stop-color="#00ff00"/><stop offset=".822" stop-color="#00ff00"/><stop offset=".826" stop-color="#37ff00"/><stop offset=".828" stop-color="#46ff00"/><stop offset=".869" stop-color="#86ff00"/><stop offset=".957" stop-color="#feff00"/><stop offset="1" stop-color="#ffdc00"/></linearGradient><linearGradient id="c74"><stop offset=".000" stop-color="#0066ff"/><stop offset=".178" stop-color="#0072ff"/><stop offset=".316" stop-color="#008fff"/><stop offset=".370" stop-color="#00a3ff"/><stop offset=".413" stop-color="#00baff"/><stop offset=".451" stop-color="#00d7ff"/><stop offset=".488" stop-color="#00fdff"/><stop offset=".510" stop-color="#00ffe3"/><stop offset=".580" stop-color="#00ff7d"/><stop offset=".659" stop-color="#00ff16"/><stop offset=".664" stop-color="#00ff01"/><stop offset=".824" stop-color="#00ff00"/><stop offset=".826" stop-color="#17ff00"/><stop offset=".828" stop-color="#34ff00"/><stop offset=".831" stop-color="#46ff00"/><stop offset=".867" stop-color="#7eff00"/><stop offset=".962" stop-color="#ffff00"/><stop offset="1" stop-color="#ffdf00"/></linearGradient><linearGradient id="c75"><stop offset=".000" stop-color="#0064ff"/><stop offset=".178" stop-color="#0070ff"/><stop offset=".253" stop-color="#007dff"/><stop offset=".318" stop-color="#008eff"/><stop offset=".372" stop-color="#00a2ff"/><stop offset=".415" stop-color="#00b9ff"/><stop offset=".456" stop-color="#00d8ff"/><stop offset=".492" stop-color="#00feff"/><stop offset=".582" stop-color="#00ff7e"/><stop offset=".661" stop-color="#00ff16"/><stop offset=".666" stop-color="#00ff01"/><stop offset=".826" stop-color="#00ff00"/><stop offset=".828" stop-color="#14ff00"/><stop offset=".831" stop-color="#31ff00"/><stop offset=".833" stop-color="#45ff00"/><stop offset=".862" stop-color="#74ff00"/><stop offset=".964" stop-color="#feff00"/><stop offset="1" stop-color="#ffe200"/></linearGradient><linearGradient id="c76"><stop offset=".000" stop-color="#0061ff"/><stop offset=".178" stop-color="#006eff"/><stop offset=".251" stop-color="#007aff"/><stop offset=".318" stop-color="#008cff"/><stop offset=".372" stop-color="#00a0ff"/><stop offset=".418" stop-color="#00b8ff"/><stop offset=".458" stop-color="#00d7ff"/><stop offset=".494" stop-color="#00fdff"/><stop offset=".517" stop-color="#00ffe3"/><stop offset=".587" stop-color="#00ff7c"/><stop offset=".664" stop-color="#00ff16"/><stop offset=".668" stop-color="#00ff00"/><stop offset=".828" stop-color="#00ff00"/><stop offset=".831" stop-color="#12ff00"/><stop offset=".833" stop-color="#2fff00"/><stop offset=".835" stop-color="#45ff00"/><stop offset=".860" stop-color="#6cff00"/><stop offset=".968" stop-color="#ffff00"/><stop offset="1" stop-color="#ffe500"/></linearGradient><linearGradient id="c77"><stop offset=".000" stop-color="#005eff"/><stop offset=".181" stop-color="#006cff"/><stop offset=".255" stop-color="#0079ff"/><stop offset=".323" stop-color="#008cff"/><stop offset=".377" stop-color="#00a0ff"/><stop offset=".422" stop-color="#00b9ff"/><stop offset=".463" stop-color="#00d8ff"/><stop offset=".499" stop-color="#00ffff"/><stop offset=".589" stop-color="#00ff7c"/><stop offset=".666" stop-color="#00ff16"/><stop offset=".670" stop-color="#00ff00"/><stop offset=".831" stop-color="#00ff00"/><stop offset=".833" stop-color="#0fff00"/><stop offset=".837" stop-color="#44ff00"/><stop offset=".858" stop-color="#65ff00"/><stop offset=".971" stop-color="#feff00"/><stop offset="1" stop-color="#ffe700"/></linearGradient><linearGradient id="c78"><stop offset=".000" stop-color="#005bff"/><stop offset=".183" stop-color="#006aff"/><stop offset=".255" stop-color="#0077ff"/><stop offset=".325" stop-color="#008bff"/><stop offset=".379" stop-color="#009fff"/><stop offset=".424" stop-color="#00b8ff"/><stop offset=".465" stop-color="#00d7ff"/><stop offset=".501" stop-color="#00feff"/><stop offset=".526" stop-color="#00ffde"/><stop offset=".594" stop-color="#00ff7a"/><stop offset=".668" stop-color="#00ff16"/><stop offset=".673" stop-color="#00ff00"/><stop offset=".833" stop-color="#00ff00"/><stop offset=".835" stop-color="#0aff00"/><stop offset=".840" stop-color="#43ff00"/><stop offset=".858" stop-color="#61ff00"/><stop offset=".973" stop-color="#fdff00"/><stop offset="1" stop-color="#ffea00"/></linearGradient><linearGradient id="c79"><stop offset=".000" stop-color="#0058ff"/><stop offset=".185" stop-color="#0067ff"/><stop offset=".257" stop-color="#0076ff"/><stop offset=".330" stop-color="#008bff"/><stop offset=".384" stop-color="#00a0ff"/><stop offset=".429" stop-color="#00b9ff"/><stop offset=".467" stop-color="#00d7ff"/><stop offset=".506" stop-color="#00fffe"/><stop offset=".596" stop-color="#00ff7a"/><stop offset=".670" stop-color="#00ff16"/><stop offset=".675" stop-color="#00ff00"/><stop offset=".835" stop-color="#00ff00"/><stop offset=".837" stop-color="#06ff00"/><stop offset=".842" stop-color="#3fff00"/><stop offset=".844" stop-color="#47ff00"/><stop offset=".856" stop-color="#59ff00"/><stop offset=".977" stop-color="#ffff00"/><stop offset="1" stop-color="#ffed00"/></linearGradient><linearGradient id="c80"><stop offset=".000" stop-color="#0056ff"/><stop offset=".187" stop-color="#0065ff"/><stop offset=".260" stop-color="#0074ff"/><stop offset=".334" stop-color="#008bff"/><stop offset=".386" stop-color="#009fff"/><stop offset=".431" stop-color="#00b8ff"/><stop offset=".472" stop-color="#00d8ff"/><stop offset=".508" stop-color="#00ffff"/><stop offset=".598" stop-color="#00ff7b"/><stop offset=".673" stop-color="#00ff16"/><stop offset=".677" stop-color="#00ff00"/><stop offset=".837" stop-color="#00ff00"/><stop offset=".840" stop-color="#02ff00"/><stop offset=".844" stop-color="#3aff00"/><stop offset=".847" stop-color="#46ff00"/><stop offset=".856" stop-color="#55ff00"/><stop offset=".980" stop-color="#feff00"/><stop offset="1" stop-color="#ffef00"/></linearGradient><linearGradient id="c81"><stop offset=".000" stop-color="#0053ff"/><stop offset=".187" stop-color="#0063ff"/><stop offset=".260" stop-color="#0072ff"/><stop offset=".336" stop-color="#008aff"/><stop offset=".391" stop-color="#009fff"/><stop offset=".436" stop-color="#00b9ff"/><stop offset=".474" stop-color="#00d7ff"/><stop offset=".510" stop-color="#00fdff"/><stop offset=".535" stop-color="#00ffdf"/><stop offset=".603" stop-color="#00ff79"/><stop offset=".675" stop-color="#00ff16"/><stop offset=".679" stop-color="#00ff00"/><stop offset=".842" stop-color="#00ff00"/><stop offset=".847" stop-color="#36ff00"/><stop offset=".849" stop-color="#46ff00"/><stop offset=".853" stop-color="#4dff00"/><stop offset=".887" stop-color="#7fff00"/><stop offset=".982" stop-color="#fdff00"/><stop offset="1" stop-color="#fff200"/></linearGradient><linearGradient id="c82"><stop offset=".000" stop-color="#0050ff"/><stop offset=".187" stop-color="#0060ff"/><stop offset=".260" stop-color="#0070ff"/><stop offset=".341" stop-color="#008aff"/><stop offset=".393" stop-color="#009fff"/><stop offset=".438" stop-color="#00b8ff"/><stop offset=".479" stop-color="#00d8ff"/><stop offset=".515" stop-color="#00ffff"/><stop offset=".603" stop-color="#00ff7d"/><stop offset=".677" stop-color="#00ff16"/><stop offset=".682" stop-color="#00ff00"/><stop offset=".844" stop-color="#00ff00"/><stop offset=".849" stop-color="#33ff00"/><stop offset=".851" stop-color="#45ff00"/><stop offset=".853" stop-color="#49ff00"/><stop offset=".887" stop-color="#7bff00"/><stop offset=".986" stop-color="#ffff00"/><stop offset="1" stop-color="#fff400"/></linearGradient><linearGradient id="c83"><stop offset=".000" stop-color="#004dff"/><stop offset=".187" stop-color="#005eff"/><stop offset=".257" stop-color="#006dff"/><stop offset=".341" stop-color="#0088ff"/><stop offset=".395" stop-color="#009eff"/><stop offset=".440" stop-color="#00b7ff"/><stop offset=".481" stop-color="#00d7ff"/><stop offset=".517" stop-color="#00feff"/><stop offset=".542" stop-color="#00ffde"/><stop offset=".607" stop-color="#00ff7a"/><stop offset=".679" stop-color="#00ff16"/><stop offset=".684" stop-color="#00ff00"/><stop offset=".847" stop-color="#00ff00"/><stop offset=".849" stop-color="#13ff00"/><stop offset=".851" stop-color="#2fff00"/><stop offset=".853" stop-color="#45ff00"/><stop offset=".887" stop-color="#78ff00"/><stop offset=".989" stop-color="#feff00"/><stop offset="1" stop-color="#fff700"/></linearGradient><linearGradient id="c84"><stop offset=".000" stop-color="#004aff"/><stop offset=".187" stop-color="#005bff"/><stop offset=".257" stop-color="#006bff"/><stop offset=".339" stop-color="#0086ff"/><stop offset=".395" stop-color="#009cff"/><stop offset=".442" stop-color="#00b7ff"/><stop offset=".483" stop-color="#00d7ff"/><stop offset=".519" stop-color="#00fdff"/><stop offset=".537" stop-color="#00ffe9"/><stop offset=".607" stop-color="#00ff7e"/><stop offset=".682" stop-color="#00ff16"/><stop offset=".686" stop-color="#00ff00"/><stop offset=".849" stop-color="#00ff00"/><stop offset=".851" stop-color="#0fff00"/><stop offset=".856" stop-color="#44ff00"/><stop offset=".889" stop-color="#77ff00"/><stop offset=".991" stop-color="#fdff00"/><stop offset="1" stop-color="#fff900"/></linearGradient><linearGradient id="c85"><stop offset=".000" stop-color="#0047ff"/><stop offset=".185" stop-color="#0058ff"/><stop offset=".255" stop-color="#0068ff"/><stop offset=".336" stop-color="#0083ff"/><stop offset=".397" stop-color="#009cff"/><stop offset=".445" stop-color="#00b6ff"/><stop offset=".485" stop-color="#00d6ff"/><stop offset=".524" stop-color="#00ffff"/><stop offset=".609" stop-color="#00ff7f"/><stop offset=".684" stop-color="#00ff16"/><stop offset=".688" stop-color="#00ff00"/><stop offset=".851" stop-color="#00ff00"/><stop offset=".853" stop-color="#0bff00"/><stop offset=".858" stop-color="#43ff00"/><stop offset=".860" stop-color="#48ff00"/><stop offset=".892" stop-color="#76ff00"/><stop offset=".995" stop-color="#ffff00"/><stop offset="1" stop-color="#fffb00"/></linearGradient><linearGradient id="c86"><stop offset=".000" stop-color="#0044ff"/><stop offset=".181" stop-color="#0054ff"/><stop offset=".251" stop-color="#0064ff"/><stop offset=".327" stop-color="#007eff"/><stop offset=".395" stop-color="#0099ff"/><stop offset=".445" stop-color="#00b4ff"/><stop offset=".488" stop-color="#00d5ff"/><stop offset=".526" stop-color="#00feff"/><stop offset=".549" stop-color="#00ffe1"/><stop offset=".612" stop-color="#00ff7f"/><stop offset=".686" stop-color="#00ff17"/><stop offset=".691" stop-color="#00ff00"/><stop offset=".853" stop-color="#00ff00"/><stop offset=".856" stop-color="#07ff00"/><stop offset=".860" stop-color="#3fff00"/><stop offset=".862" stop-color="#47ff00"/><stop offset=".901" stop-color="#7eff00"/><stop offset="1" stop-color="#fffd00"/></linearGradient><linearGradient id="c87"><stop offset=".000" stop-color="#0041ff"/><stop offset=".167" stop-color="#004fff"/><stop offset=".235" stop-color="#005dff"/><stop offset=".300" stop-color="#0072ff"/><stop offset=".381" stop-color="#0091ff"/><stop offset=".438" stop-color="#00aeff"/><stop offset=".485" stop-color="#00d1ff"/><stop offset=".528" stop-color="#00fdff"/><stop offset=".546" stop-color="#00ffe8"/><stop offset=".612" stop-color="#00ff84"/><stop offset=".688" stop-color="#00ff17"/><stop offset=".693" stop-color="#00ff01"/><stop offset=".856" stop-color="#00ff00"/><stop offset=".858" stop-color="#02ff00"/><stop offset=".862" stop-color="#39ff00"/><stop offset=".865" stop-color="#46ff00"/><stop offset="1" stop-color="#ffff00"/></linearGradient><linearGradient id="c88"><stop offset=".000" stop-color="#003eff"/><stop offset=".165" stop-color="#004cff"/><stop offset=".230" stop-color="#005aff"/><stop offset=".296" stop-color="#006eff"/><stop offset=".384" stop-color="#0091ff"/><stop offset=".440" stop-color="#00aeff"/><stop offset=".490" stop-color="#00d2ff"/><stop offset=".530" stop-color="#00fdff"/><stop offset=".549" stop-color="#00ffe8"/><stop offset=".614" stop-color="#00ff84"/><stop offset=".691" stop-color="#00ff17"/><stop offset=".695" stop-color="#00ff02"/><stop offset=".698" stop-color="#00ff00"/><stop offset=".860" stop-color="#00ff00"/><stop offset=".867" stop-color="#45ff00"/><stop offset="1" stop-color="#fdff00"/></linearGradient><linearGradient id="c89"><stop offset=".000" stop-color="#003bff"/><stop offset=".165" stop-color="#0049ff"/><stop offset=".230" stop-color="#0057ff"/><stop offset=".296" stop-color="#006cff"/><stop offset=".388" stop-color="#0091ff"/><stop offset=".445" stop-color="#00afff"/><stop offset=".492" stop-color="#00d2ff"/><stop offset=".535" stop-color="#00ffff"/><stop offset=".693" stop-color="#00ff17"/><stop offset=".698" stop-color="#00ff04"/><stop offset=".700" stop-color="#00ff00"/><stop offset=".862" stop-color="#00ff00"/><stop offset=".865" stop-color="#0cff00"/><stop offset=".869" stop-color="#41ff00"/><stop offset=".871" stop-color="#47ff00"/><stop offset="1" stop-color="#fbff00"/></linearGradient><linearGradient id="c90"><stop offset=".000" stop-color="#0038ff"/><stop offset=".160" stop-color="#0045ff"/><stop offset=".228" stop-color="#0054ff"/><stop offset=".291" stop-color="#0068ff"/><stop offset=".388" stop-color="#0090ff"/><stop offset=".445" stop-color="#00adff"/><stop offset=".494" stop-color="#00d2ff"/><stop offset=".537" stop-color="#00ffff"/><stop offset=".695" stop-color="#00ff18"/><stop offset=".702" stop-color="#00ff00"/><stop offset=".865" stop-color="#00ff00"/><stop offset=".867" stop-color="#01ff00"/><stop offset=".871" stop-color="#37ff00"/><stop offset=".874" stop-color="#46ff00"/><stop offset="1" stop-color="#f9ff00"/></linearGradient><linearGradient id="c91"><stop offset=".000" stop-color="#0035ff"/><stop offset=".156" stop-color="#0042ff"/><stop offset=".223" stop-color="#0050ff"/><stop offset=".287" stop-color="#0064ff"/><stop offset=".391" stop-color="#0090ff"/><stop offset=".447" stop-color="#00adff"/><stop offset=".497" stop-color="#00d2ff"/><stop offset=".540" stop-color="#00ffff"/><stop offset=".698" stop-color="#00ff18"/><stop offset=".704" stop-color="#00ff00"/><stop offset=".869" stop-color="#00ff00"/><stop offset=".871" stop-color="#13ff00"/><stop offset=".876" stop-color="#45ff00"/><stop offset="1" stop-color="#f7ff00"/></linearGradient><linearGradient id="c92"><stop offset=".000" stop-color="#0032ff"/><stop offset=".153" stop-color="#003eff"/><stop offset=".221" stop-color="#004cff"/><stop offset=".284" stop-color="#0061ff"/><stop offset=".393" stop-color="#008fff"/><stop offset=".449" stop-color="#00adff"/><stop offset=".499" stop-color="#00d2ff"/><stop offset=".542" stop-color="#00fffe"/><stop offset=".700" stop-color="#00ff19"/><stop offset=".702" stop-color="#00ff14"/><stop offset=".707" stop-color="#00ff00"/><stop offset=".871" stop-color="#00ff00"/><stop offset=".874" stop-color="#09ff00"/><stop offset=".878" stop-color="#40ff00"/><stop offset=".880" stop-color="#47ff00"/><stop offset="1" stop-color="#f6ff00"/></linearGradient><linearGradient id="c93"><stop offset=".000" stop-color="#002fff"/><stop offset=".149" stop-color="#003aff"/><stop offset=".219" stop-color="#0049ff"/><stop offset=".280" stop-color="#005cff"/><stop offset=".395" stop-color="#008fff"/><stop offset=".449" stop-color="#00abff"/><stop offset=".499" stop-color="#00d0ff"/><stop offset=".542" stop-color="#00fdff"/><stop offset=".704" stop-color="#00ff16"/><stop offset=".709" stop-color="#00ff00"/><stop offset=".874" stop-color="#00ff00"/><stop offset=".876" stop-color="#01ff00"/><stop offset=".880" stop-color="#38ff00"/><stop offset=".883" stop-color="#46ff00"/><stop offset="1" stop-color="#f5ff00"/></linearGradient><linearGradient id="c94"><stop offset=".000" stop-color="#002cff"/><stop offset=".144" stop-color="#0037ff"/><stop offset=".219" stop-color="#0046ff"/><stop offset=".280" stop-color="#005aff"/><stop offset=".397" stop-color="#008eff"/><stop offset=".451" stop-color="#00abff"/><stop offset=".501" stop-color="#00d0ff"/><stop offset=".544" stop-color="#00feff"/><stop offset=".707" stop-color="#00ff17"/><stop offset=".711" stop-color="#00ff01"/><stop offset=".878" stop-color="#00ff00"/><stop offset=".883" stop-color="#32ff00"/><stop offset=".885" stop-color="#45ff00"/><stop offset="1" stop-color="#f4ff00"/></linearGradient><linearGradient id="c95"><stop offset=".000" stop-color="#0029ff"/><stop offset=".140" stop-color="#0033ff"/><stop offset=".217" stop-color="#0042ff"/><stop offset=".278" stop-color="#0056ff"/><stop offset=".400" stop-color="#008eff"/><stop offset=".454" stop-color="#00abff"/><stop offset=".503" stop-color="#00d1ff"/><stop offset=".546" stop-color="#00ffff"/><stop offset=".709" stop-color="#00ff17"/><stop offset=".713" stop-color="#00ff03"/><stop offset=".716" stop-color="#00ff00"/><stop offset=".880" stop-color="#00ff00"/><stop offset=".883" stop-color="#11ff00"/><stop offset=".887" stop-color="#45ff00"/><stop offset="1" stop-color="#f3ff00"/></linearGradient><linearGradient id="c96"><stop offset=".000" stop-color="#0028ff"/><stop offset=".133" stop-color="#002fff"/><stop offset=".212" stop-color="#003eff"/><stop offset=".273" stop-color="#0052ff"/><stop offset=".454" stop-color="#00aaff"/><stop offset=".503" stop-color="#00cfff"/><stop offset=".546" stop-color="#00fdff"/><stop offset=".569" stop-color="#00ffe3"/><stop offset=".643" stop-color="#00ff75"/><stop offset=".711" stop-color="#00ff17"/><stop offset=".716" stop-color="#00ff04"/><stop offset=".718" stop-color="#00ff00"/><stop offset=".883" stop-color="#00ff00"/><stop offset=".885" stop-color="#0cff00"/><stop offset=".889" stop-color="#44ff00"/><stop offset="1" stop-color="#f2ff00"/></linearGradient><linearGradient id="c97"><stop offset=".000" stop-color="#0028ff"/><stop offset=".126" stop-color="#002bff"/><stop offset=".210" stop-color="#003aff"/><stop offset=".269" stop-color="#004dff"/><stop offset=".339" stop-color="#006dff"/><stop offset=".456" stop-color="#00aaff"/><stop offset=".506" stop-color="#00d0ff"/><stop offset=".549" stop-color="#00feff"/><stop offset=".713" stop-color="#00ff18"/><stop offset=".720" stop-color="#00ff00"/><stop offset=".885" stop-color="#00ff00"/><stop offset=".887" stop-color="#08ff00"/><stop offset=".892" stop-color="#41ff00"/><stop offset=".894" stop-color="#47ff00"/><stop offset="1" stop-color="#f1ff00"/></linearGradient><linearGradient id="c98"><stop offset=".000" stop-color="#0028ff"/><stop offset=".131" stop-color="#0028ff"/><stop offset=".210" stop-color="#0037ff"/><stop offset=".266" stop-color="#0049ff"/><stop offset=".334" stop-color="#0068ff"/><stop offset=".456" stop-color="#00a9ff"/><stop offset=".506" stop-color="#00ceff"/><stop offset=".551" stop-color="#00ffff"/><stop offset=".716" stop-color="#00ff18"/><stop offset=".720" stop-color="#00ff05"/><stop offset=".722" stop-color="#00ff00"/><stop offset=".887" stop-color="#00ff00"/><stop offset=".889" stop-color="#05ff00"/><stop offset=".894" stop-color="#3eff00"/><stop offset=".896" stop-color="#47ff00"/><stop offset="1" stop-color="#f0ff00"/></linearGradient><linearGradient id="c99"><stop offset=".000" stop-color="#0028ff"/><stop offset=".147" stop-color="#0028ff"/><stop offset=".212" stop-color="#0035ff"/><stop offset=".262" stop-color="#0045ff"/><stop offset=".332" stop-color="#0065ff"/><stop offset=".458" stop-color="#00a9ff"/><stop offset=".508" stop-color="#00cfff"/><stop offset=".553" stop-color="#00ffff"/><stop offset=".718" stop-color="#00ff17"/><stop offset=".722" stop-color="#00ff04"/><stop offset=".725" stop-color="#00ff00"/><stop offset=".889" stop-color="#00ff00"/><stop offset=".892" stop-color="#02ff00"/><stop offset=".896" stop-color="#3bff00"/><stop offset=".898" stop-color="#47ff00"/><stop offset="1" stop-color="#efff00"/></linearGradient><linearGradient id="c100"><stop offset=".000" stop-color="#0028ff"/><stop offset=".163" stop-color="#0028ff"/><stop offset=".257" stop-color="#0040ff"/><stop offset=".327" stop-color="#0060ff"/><stop offset=".458" stop-color="#00a8ff"/><stop offset=".508" stop-color="#00cdff"/><stop offset=".553" stop-color="#00fdff"/><stop offset=".578" stop-color="#00ffe1"/><stop offset=".720" stop-color="#00ff17"/><stop offset=".725" stop-color="#00ff02"/><stop offset=".727" stop-color="#00ff00"/><stop offset=".894" stop-color="#00ff00"/><stop offset=".898" stop-color="#38ff00"/><stop offset=".901" stop-color="#46ff00"/><stop offset="1" stop-color="#eeff00"/></linearGradient><linearGradient id="c101"><stop offset=".000" stop-color="#0028ff"/><stop offset=".181" stop-color="#0028ff"/><stop offset=".255" stop-color="#003cff"/><stop offset=".327" stop-color="#005eff"/><stop offset=".458" stop-color="#00a7ff"/><stop offset=".510" stop-color="#00ceff"/><stop offset=".555" stop-color="#00fdff"/><stop offset=".582" stop-color="#00ffdd"/><stop offset=".722" stop-color="#00ff16"/><stop offset=".727" stop-color="#00ff00"/><stop offset=".896" stop-color="#00ff00"/><stop offset=".901" stop-color="#36ff00"/><stop offset=".903" stop-color="#46ff00"/><stop offset="1" stop-color="#edff00"/></linearGradient><linearGradient id="c102"><stop offset=".000" stop-color="#0028ff"/><stop offset=".196" stop-color="#0028ff"/><stop offset=".253" stop-color="#0038ff"/><stop offset=".325" stop-color="#005aff"/><stop offset=".460" stop-color="#00a7ff"/><stop offset=".510" stop-color="#00cdff"/><stop offset=".558" stop-color="#00feff"/><stop offset=".585" stop-color="#00ffdd"/><stop offset=".722" stop-color="#00ff19"/><stop offset=".725" stop-color="#00ff16"/><stop offset=".729" stop-color="#00ff00"/><stop offset=".898" stop-color="#00ff00"/><stop offset=".901" stop-color="#17ff00"/><stop offset=".903" stop-color="#34ff00"/><stop offset=".905" stop-color="#46ff00"/><stop offset="1" stop-color="#ecff00"/></linearGradient><linearGradient id="c103"><stop offset=".000" stop-color="#0028ff"/><stop offset=".210" stop-color="#0028ff"/><stop offset=".248" stop-color="#0034ff"/><stop offset=".323" stop-color="#0056ff"/><stop offset=".460" stop-color="#00a6ff"/><stop offset=".512" stop-color="#00cdff"/><stop offset=".560" stop-color="#00feff"/><stop offset=".725" stop-color="#00ff19"/><stop offset=".727" stop-color="#00ff14"/><stop offset=".731" stop-color="#00ff00"/><stop offset=".901" stop-color="#00ff00"/><stop offset=".903" stop-color="#14ff00"/><stop offset=".905" stop-color="#32ff00"/><stop offset=".907" stop-color="#46ff00"/><stop offset="1" stop-color="#ebff00"/></linearGradient><linearGradient id="c104"><stop offset=".000" stop-color="#0028ff"/><stop offset=".221" stop-color="#0028ff"/><stop offset=".246" stop-color="#0030ff"/><stop offset=".323" stop-color="#0054ff"/><stop offset=".463" stop-color="#00a6ff"/><stop offset=".515" stop-color="#00cdff"/><stop offset=".562" stop-color="#00ffff"/><stop offset=".727" stop-color="#00ff18"/><stop offset=".734" stop-color="#00ff00"/><stop offset=".903" stop-color="#00ff00"/><stop offset=".905" stop-color="#11ff00"/><stop offset=".907" stop-color="#2fff00"/><stop offset=".910" stop-color="#45ff00"/><stop offset="1" stop-color="#eaff00"/></linearGradient><linearGradient id="c105"><stop offset=".000" stop-color="#0028ff"/><stop offset=".230" stop-color="#0028ff"/><stop offset=".244" stop-color="#002cff"/><stop offset=".321" stop-color="#0050ff"/><stop offset=".463" stop-color="#00a5ff"/><stop offset=".517" stop-color="#00ceff"/><stop offset=".564" stop-color="#00ffff"/><stop offset=".729" stop-color="#00ff18"/><stop offset=".734" stop-color="#00ff05"/><stop offset=".736" stop-color="#00ff00"/><stop offset=".905" stop-color="#00ff00"/><stop offset=".907" stop-color="#0eff00"/><stop offset=".912" stop-color="#45ff00"/><stop offset="1" stop-color="#e9ff00"/></linearGradient><linearGradient id="c106"><stop offset=".000" stop-color="#0028ff"/><stop offset=".244" stop-color="#0029ff"/><stop offset=".321" stop-color="#004dff"/><stop offset=".465" stop-color="#00a5ff"/><stop offset=".519" stop-color="#00ceff"/><stop offset=".567" stop-color="#00ffff"/><stop offset=".731" stop-color="#00ff17"/><stop offset=".736" stop-color="#00ff03"/><stop offset=".738" stop-color="#00ff00"/><stop offset=".907" stop-color="#00ff00"/><stop offset=".910" stop-color="#0aff00"/><stop offset=".914" stop-color="#45ff00"/><stop offset="1" stop-color="#e8ff00"/></linearGradient><linearGradient id="c107"><stop offset=".000" stop-color="#0028ff"/><stop offset=".248" stop-color="#0028ff"/><stop offset=".323" stop-color="#004cff"/><stop offset=".467" stop-color="#00a5ff"/><stop offset=".519" stop-color="#00cdff"/><stop offset=".567" stop-color="#00fdff"/><stop offset=".598" stop-color="#00ffd8"/><stop offset=".734" stop-color="#00ff17"/><stop offset=".738" stop-color="#00ff02"/><stop offset=".740" stop-color="#00ff00"/><stop offset=".910" stop-color="#00ff00"/><stop offset=".912" stop-color="#07ff00"/><stop offset=".916" stop-color="#44ff00"/><stop offset="1" stop-color="#e7ff00"/></linearGradient><linearGradient id="c108"><stop offset=".000" stop-color="#0028ff"/><stop offset=".255" stop-color="#0028ff"/><stop offset=".325" stop-color="#004bff"/><stop offset=".470" stop-color="#00a5ff"/><stop offset=".524" stop-color="#00cfff"/><stop offset=".569" stop-color="#00fdff"/><stop offset=".600" stop-color="#00ffd7"/><stop offset=".736" stop-color="#00ff16"/><stop offset=".740" stop-color="#00ff00"/><stop offset=".912" stop-color="#00ff00"/><stop offset=".914" stop-color="#04ff00"/><stop offset=".919" stop-color="#44ff00"/><stop offset="1" stop-color="#e6ff00"/></linearGradient><linearGradient id="c109"><stop offset=".000" stop-color="#0028ff"/><stop offset=".262" stop-color="#0028ff"/><stop offset=".325" stop-color="#0048ff"/><stop offset=".474" stop-color="#00a7ff"/><stop offset=".526" stop-color="#00d0ff"/><stop offset=".571" stop-color="#00feff"/><stop offset=".605" stop-color="#00ffd4"/><stop offset=".738" stop-color="#00ff16"/><stop offset=".743" stop-color="#00ff00"/><stop offset=".914" stop-color="#00ff00"/><stop offset=".916" stop-color="#03ff00"/><stop offset=".921" stop-color="#44ff00"/><stop offset="1" stop-color="#e5ff00"/></linearGradient><linearGradient id="c110"><stop offset=".000" stop-color="#0028ff"/><stop offset=".269" stop-color="#0029ff"/><stop offset=".327" stop-color="#0047ff"/><stop offset=".479" stop-color="#00a9ff"/><stop offset=".530" stop-color="#00d2ff"/><stop offset=".573" stop-color="#00feff"/><stop offset=".609" stop-color="#00ffd0"/><stop offset=".738" stop-color="#00ff19"/><stop offset=".740" stop-color="#00ff14"/><stop offset=".745" stop-color="#00ff00"/><stop offset=".916" stop-color="#00ff00"/><stop offset=".919" stop-color="#04ff00"/><stop offset=".923" stop-color="#44ff00"/><stop offset="1" stop-color="#e4ff00"/></linearGradient><linearGradient id="c111"><stop offset=".000" stop-color="#0028ff"/><stop offset=".275" stop-color="#0029ff"/><stop offset=".330" stop-color="#0046ff"/><stop offset=".483" stop-color="#00abff"/><stop offset=".533" stop-color="#00d2ff"/><stop offset=".576" stop-color="#00ffff"/><stop offset=".612" stop-color="#00ffd0"/><stop offset=".740" stop-color="#00ff18"/><stop offset=".747" stop-color="#00ff00"/><stop offset=".919" stop-color="#00ff00"/><stop offset=".921" stop-color="#06ff00"/><stop offset=".926" stop-color="#45ff00"/><stop offset="1" stop-color="#e3ff00"/></linearGradient><linearGradient id="c112"><stop offset=".000" stop-color="#0028ff"/><stop offset=".280" stop-color="#0028ff"/><stop offset=".332" stop-color="#0045ff"/><stop offset=".488" stop-color="#00adff"/><stop offset=".537" stop-color="#00d5ff"/><stop offset=".578" stop-color="#00ffff"/><stop offset=".616" stop-color="#00ffcd"/><stop offset=".743" stop-color="#00ff18"/><stop offset=".749" stop-color="#00ff00"/><stop offset=".921" stop-color="#00ff00"/><stop offset=".923" stop-color="#09ff00"/><stop offset=".926" stop-color="#2cff00"/><stop offset=".928" stop-color="#45ff00"/><stop offset="1" stop-color="#e2ff00"/></linearGradient><linearGradient id="c113"><stop offset=".000" stop-color="#0028ff"/><stop offset=".287" stop-color="#0028ff"/><stop offset=".336" stop-color="#0046ff"/><stop offset=".492" stop-color="#00afff"/><stop offset=".540" stop-color="#00d5ff"/><stop offset=".580" stop-color="#00ffff"/><stop offset=".621" stop-color="#00ffc9"/><stop offset=".745" stop-color="#00ff17"/><stop offset=".749" stop-color="#00ff04"/><stop offset=".752" stop-color="#00ff00"/><stop offset=".923" stop-color="#00ff00"/><stop offset=".926" stop-color="#0dff00"/><stop offset=".928" stop-color="#30ff00"/><stop offset=".930" stop-color="#46ff00"/><stop offset="1" stop-color="#e0ff00"/></linearGradient><linearGradient id="c114"><stop offset=".000" stop-color="#0028ff"/><stop offset=".291" stop-color="#0028ff"/><stop offset=".497" stop-color="#00b1ff"/><stop offset=".542" stop-color="#00d5ff"/><stop offset=".582" stop-color="#00fffe"/><stop offset=".623" stop-color="#00ffc9"/><stop offset=".747" stop-color="#00ff17"/><stop offset=".752" stop-color="#00ff02"/><stop offset=".926" stop-color="#00ff00"/><stop offset=".928" stop-color="#11ff00"/><stop offset=".930" stop-color="#35ff00"/><stop offset=".932" stop-color="#47ff00"/><stop offset="1" stop-color="#dfff00"/></linearGradient><linearGradient id="c115"><stop offset=".000" stop-color="#0028ff"/><stop offset=".296" stop-color="#0028ff"/><stop offset=".501" stop-color="#00b3ff"/><stop offset=".544" stop-color="#00d6ff"/><stop offset=".582" stop-color="#00fdff"/><stop offset=".623" stop-color="#00ffcc"/><stop offset=".749" stop-color="#00ff16"/><stop offset=".754" stop-color="#00ff00"/><stop offset=".928" stop-color="#00ff00"/><stop offset=".930" stop-color="#15ff00"/><stop offset=".932" stop-color="#3aff00"/><stop offset=".935" stop-color="#48ff00"/><stop offset="1" stop-color="#deff00"/></linearGradient><linearGradient id="c116"><stop offset=".000" stop-color="#0028ff"/><stop offset=".300" stop-color="#0028ff"/><stop offset=".506" stop-color="#00b5ff"/><stop offset=".549" stop-color="#00d8ff"/><stop offset=".585" stop-color="#00fdff"/><stop offset=".628" stop-color="#00ffc9"/><stop offset=".749" stop-color="#00ff19"/><stop offset=".752" stop-color="#00ff14"/><stop offset=".756" stop-color="#00ff00"/><stop offset=".930" stop-color="#00ff00"/><stop offset=".932" stop-color="#1aff00"/><stop offset=".935" stop-color="#3fff00"/><stop offset=".937" stop-color="#48ff00"/><stop offset="1" stop-color="#ddff00"/></linearGradient><linearGradient id="c117"><stop offset=".000" stop-color="#0028ff"/><stop offset=".302" stop-color="#0028ff"/><stop offset=".510" stop-color="#00b7ff"/><stop offset=".551" stop-color="#00d8ff"/><stop offset=".587" stop-color="#00feff"/><stop offset=".630" stop-color="#00ffc9"/><stop offset=".752" stop-color="#00ff18"/><stop offset=".756" stop-color="#00ff05"/><stop offset=".758" stop-color="#00ff00"/><stop offset=".932" stop-color="#00ff00"/><stop offset=".935" stop-color="#1eff00"/><stop offset=".937" stop-color="#44ff00"/><stop offset="1" stop-color="#dcff00"/></linearGradient><linearGradient id="c118"><stop offset=".000" stop-color="#0028ff"/><stop offset=".307" stop-color="#0029ff"/><stop offset=".512" stop-color="#00b7ff"/><stop offset=".553" stop-color="#00d9ff"/><stop offset=".589" stop-color="#00feff"/><stop offset=".634" stop-color="#00ffc6"/><stop offset=".754" stop-color="#00ff17"/><stop offset=".758" stop-color="#00ff02"/><stop offset=".935" stop-color="#00ff00"/><stop offset=".939" stop-color="#45ff00"/><stop offset="1" stop-color="#dbff00"/></linearGradient><linearGradient id="c119"><stop offset=".000" stop-color="#0028ff"/><stop offset=".309" stop-color="#0028ff"/><stop offset=".517" stop-color="#00b9ff"/><stop offset=".555" stop-color="#00d9ff"/><stop offset=".591" stop-color="#00feff"/><stop offset=".639" stop-color="#00ffc2"/><stop offset=".754" stop-color="#00ff19"/><stop offset=".756" stop-color="#00ff16"/><stop offset=".761" stop-color="#00ff00"/><stop offset=".937" stop-color="#00ff00"/><stop offset=".939" stop-color="#27ff00"/><stop offset=".941" stop-color="#45ff00"/><stop offset="1" stop-color="#d9ff00"/></linearGradient><linearGradient id="c120"><stop offset=".000" stop-color="#0028ff"/><stop offset=".312" stop-color="#0028ff"/><stop offset=".519" stop-color="#00b9ff"/><stop offset=".558" stop-color="#00d9ff"/><stop offset=".594" stop-color="#00feff"/><stop offset=".641" stop-color="#00ffc2"/><stop offset=".756" stop-color="#00ff18"/><stop offset=".763" stop-color="#00ff00"/><stop offset=".937" stop-color="#00ff00"/><stop offset=".939" stop-color="#02ff00"/><stop offset=".941" stop-color="#2aff00"/><stop offset=".944" stop-color="#46ff00"/><stop offset="1" stop-color="#d8ff00"/></linearGradient><linearGradient id="c121"><stop offset=".000" stop-color="#0028ff"/><stop offset=".316" stop-color="#0029ff"/><stop offset=".524" stop-color="#00bbff"/><stop offset=".562" stop-color="#00dbff"/><stop offset=".596" stop-color="#00feff"/><stop offset=".646" stop-color="#00ffbf"/><stop offset=".758" stop-color="#00ff17"/><stop offset=".763" stop-color="#00ff03"/><stop offset=".765" stop-color="#00ff00"/><stop offset=".939" stop-color="#00ff00"/><stop offset=".941" stop-color="#04ff00"/><stop offset=".944" stop-color="#2cff00"/><stop offset=".946" stop-color="#46ff00"/><stop offset="1" stop-color="#d7ff00"/></linearGradient><linearGradient id="c122"><stop offset=".000" stop-color="#0028ff"/><stop offset=".318" stop-color="#0028ff"/><stop offset=".526" stop-color="#00bbff"/><stop offset=".564" stop-color="#00dcff"/><stop offset=".598" stop-color="#00feff"/><stop offset=".650" stop-color="#00ffbb"/><stop offset=".761" stop-color="#00ff16"/><stop offset=".765" stop-color="#00ff00"/><stop offset=".941" stop-color="#00ff00"/><stop offset=".944" stop-color="#05ff00"/><stop offset=".946" stop-color="#2eff00"/><stop offset=".948" stop-color="#47ff00"/><stop offset="1" stop-color="#d6ff00"/></linearGradient><linearGradient id="c123"><stop offset=".000" stop-color="#0028ff"/><stop offset=".321" stop-color="#0028ff"/><stop offset=".528" stop-color="#00bcff"/><stop offset=".567" stop-color="#00dcff"/><stop offset=".600" stop-color="#00feff"/><stop offset=".655" stop-color="#00ffb8"/><stop offset=".761" stop-color="#00ff19"/><stop offset=".763" stop-color="#00ff14"/><stop offset=".767" stop-color="#00ff00"/><stop offset=".944" stop-color="#00ff00"/><stop offset=".946" stop-color="#06ff00"/><stop offset=".948" stop-color="#31ff00"/><stop offset=".950" stop-color="#47ff00"/><stop offset="1" stop-color="#d5ff00"/></linearGradient><linearGradient id="c124"><stop offset=".000" stop-color="#0028ff"/><stop offset=".325" stop-color="#0028ff"/><stop offset=".533" stop-color="#00beff"/><stop offset=".569" stop-color="#00dcff"/><stop offset=".603" stop-color="#00feff"/><stop offset=".641" stop-color="#00ffce"/><stop offset=".702" stop-color="#00ff75"/><stop offset=".763" stop-color="#00ff18"/><stop offset=".767" stop-color="#00ff04"/><stop offset=".770" stop-color="#00ff00"/><stop offset=".946" stop-color="#00ff00"/><stop offset=".948" stop-color="#0aff00"/><stop offset=".950" stop-color="#35ff00"/><stop offset=".953" stop-color="#48ff00"/><stop offset="1" stop-color="#d4ff00"/></linearGradient><linearGradient id="c125"><stop offset=".000" stop-color="#0028ff"/><stop offset=".327" stop-color="#0028ff"/><stop offset=".535" stop-color="#00beff"/><stop offset=".605" stop-color="#00ffff"/><stop offset=".643" stop-color="#00ffcd"/><stop offset=".702" stop-color="#00ff78"/><stop offset=".765" stop-color="#00ff17"/><stop offset=".770" stop-color="#00ff01"/><stop offset=".948" stop-color="#00ff00"/><stop offset=".950" stop-color="#11ff00"/><stop offset=".953" stop-color="#3eff00"/><stop offset=".955" stop-color="#4aff00"/><stop offset="1" stop-color="#d2ff00"/></linearGradient><linearGradient id="c126"><stop offset=".000" stop-color="#0028ff"/><stop offset=".332" stop-color="#0029ff"/><stop offset=".537" stop-color="#00beff"/><stop offset=".607" stop-color="#00ffff"/><stop offset=".677" stop-color="#00ffa0"/><stop offset=".767" stop-color="#00ff16"/><stop offset=".772" stop-color="#00ff00"/><stop offset=".950" stop-color="#00ff00"/><stop offset=".955" stop-color="#46ff00"/><stop offset="1" stop-color="#d0ff00"/></linearGradient><linearGradient id="c127"><stop offset=".000" stop-color="#0028ff"/><stop offset=".332" stop-color="#0028ff"/><stop offset=".537" stop-color="#00bdff"/><stop offset=".607" stop-color="#00feff"/><stop offset=".643" stop-color="#00ffd1"/><stop offset=".700" stop-color="#00ff80"/><stop offset=".767" stop-color="#00ff18"/><stop offset=".772" stop-color="#00ff04"/><stop offset=".774" stop-color="#00ff00"/><stop offset=".950" stop-color="#00ff00"/><stop offset=".953" stop-color="#15ff00"/><stop offset=".955" stop-color="#44ff00"/><stop offset="1" stop-color="#ceff00"/></linearGradient><linearGradient id="c128"><stop offset=".000" stop-color="#0028ff"/><stop offset=".332" stop-color="#0028ff"/><stop offset=".537" stop-color="#00bdff"/><stop offset=".607" stop-color="#00feff"/><stop offset=".643" stop-color="#00ffd1"/><stop offset=".700" stop-color="#00ff80"/><stop offset=".767" stop-color="#00ff18"/><stop offset=".772" stop-color="#00ff04"/><stop offset=".774" stop-color="#00ff00"/><stop offset=".950" stop-color="#00ff00"/><stop offset=".953" stop-color="#15ff00"/><stop offset=".955" stop-color="#44ff00"/><stop offset="1" stop-color="#ceff00"/></linearGradient></defs>
<g clip-path="url(#cpc)"><g filter="url(#vb)"><rect x="260" y="2222.02" width="886.4" height="6.59" fill="url(#c0)"/><rect x="260" y="2228.01" width="886.4" height="6.59" fill="url(#c1)"/><rect x="260" y="2234" width="886.4" height="6.59" fill="url(#c2)"/><rect x="260" y="2239.99" width="886.4" height="6.59" fill="url(#c3)"/><rect x="260" y="2245.98" width="886.4" height="6.59" fill="url(#c4)"/><rect x="260" y="2251.96" width="886.4" height="6.59" fill="url(#c5)"/><rect x="260" y="2257.95" width="886.4" height="6.59" fill="url(#c6)"/><rect x="260" y="2263.94" width="886.4" height="6.59" fill="url(#c7)"/><rect x="260" y="2269.93" width="886.4" height="6.59" fill="url(#c8)"/><rect x="260" y="2275.92" width="886.4" height="6.59" fill="url(#c9)"/><rect x="260" y="2281.9" width="886.4" height="6.59" fill="url(#c10)"/><rect x="260" y="2287.89" width="886.4" height="6.59" fill="url(#c11)"/><rect x="260" y="2293.88" width="886.4" height="6.59" fill="url(#c12)"/><rect x="260" y="2299.87" width="886.4" height="6.59" fill="url(#c13)"/><rect x="260" y="2305.86" width="886.4" height="6.59" fill="url(#c14)"/><rect x="260" y="2311.84" width="886.4" height="6.59" fill="url(#c15)"/><rect x="260" y="2317.83" width="886.4" height="6.59" fill="url(#c16)"/><rect x="260" y="2323.82" width="886.4" height="6.59" fill="url(#c17)"/><rect x="260" y="2329.81" width="886.4" height="6.59" fill="url(#c18)"/><rect x="260" y="2335.8" width="886.4" height="6.59" fill="url(#c19)"/><rect x="260" y="2341.78" width="886.4" height="6.59" fill="url(#c20)"/><rect x="260" y="2347.77" width="886.4" height="6.59" fill="url(#c21)"/><rect x="260" y="2353.76" width="886.4" height="6.59" fill="url(#c22)"/><rect x="260" y="2359.75" width="886.4" height="6.59" fill="url(#c23)"/><rect x="260" y="2365.74" width="886.4" height="6.59" fill="url(#c24)"/><rect x="260" y="2371.72" width="886.4" height="6.59" fill="url(#c25)"/><rect x="260" y="2377.71" width="886.4" height="6.59" fill="url(#c26)"/><rect x="260" y="2383.7" width="886.4" height="6.59" fill="url(#c27)"/><rect x="260" y="2389.69" width="886.4" height="6.59" fill="url(#c28)"/><rect x="260" y="2395.68" width="886.4" height="6.59" fill="url(#c29)"/><rect x="260" y="2401.66" width="886.4" height="6.59" fill="url(#c30)"/><rect x="260" y="2407.65" width="886.4" height="6.59" fill="url(#c31)"/><rect x="260" y="2413.64" width="886.4" height="6.59" fill="url(#c32)"/><rect x="260" y="2419.63" width="886.4" height="6.59" fill="url(#c33)"/><rect x="260" y="2425.62" width="886.4" height="6.59" fill="url(#c34)"/><rect x="260" y="2431.6" width="886.4" height="6.59" fill="url(#c35)"/><rect x="260" y="2437.59" width="886.4" height="6.59" fill="url(#c36)"/><rect x="260" y="2443.58" width="886.4" height="6.59" fill="url(#c37)"/><rect x="260" y="2449.57" width="886.4" height="6.59" fill="url(#c38)"/><rect x="260" y="2455.56" width="886.4" height="6.59" fill="url(#c39)"/><rect x="260" y="2461.54" width="886.4" height="6.59" fill="url(#c40)"/><rect x="260" y="2467.53" width="886.4" height="6.59" fill="url(#c41)"/><rect x="260" y="2473.52" width="886.4" height="6.59" fill="url(#c42)"/><rect x="260" y="2479.51" width="886.4" height="6.59" fill="url(#c43)"/><rect x="260" y="2485.5" width="886.4" height="6.59" fill="url(#c44)"/><rect x="260" y="2491.48" width="886.4" height="6.59" fill="url(#c45)"/><rect x="260" y="2497.47" width="886.4" height="6.59" fill="url(#c46)"/><rect x="260" y="2503.46" width="886.4" height="6.59" fill="url(#c47)"/><rect x="260" y="2509.45" width="886.4" height="6.59" fill="url(#c48)"/><rect x="260" y="2515.44" width="886.4" height="6.59" fill="url(#c49)"/><rect x="260" y="2521.42" width="886.4" height="6.59" fill="url(#c50)"/><rect x="260" y="2527.41" width="886.4" height="6.59" fill="url(#c51)"/><rect x="260" y="2533.4" width="886.4" height="6.59" fill="url(#c52)"/><rect x="260" y="2539.39" width="886.4" height="6.59" fill="url(#c53)"/><rect x="260" y="2545.38" width="886.4" height="6.59" fill="url(#c54)"/><rect x="260" y="2551.36" width="886.4" height="6.59" fill="url(#c55)"/><rect x="260" y="2557.35" width="886.4" height="6.59" fill="url(#c56)"/><rect x="260" y="2563.34" width="886.4" height="6.59" fill="url(#c57)"/><rect x="260" y="2569.33" width="886.4" height="6.59" fill="url(#c58)"/><rect x="260" y="2575.32" width="886.4" height="6.59" fill="url(#c59)"/><rect x="260" y="2581.3" width="886.4" height="6.59" fill="url(#c60)"/><rect x="260" y="2587.29" width="886.4" height="6.59" fill="url(#c61)"/><rect x="260" y="2593.28" width="886.4" height="6.59" fill="url(#c62)"/><rect x="260" y="2599.27" width="886.4" height="6.59" fill="url(#c63)"/><rect x="260" y="2605.26" width="886.4" height="6.59" fill="url(#c64)"/><rect x="260" y="2611.24" width="886.4" height="6.59" fill="url(#c65)"/><rect x="260" y="2617.23" width="886.4" height="6.59" fill="url(#c66)"/><rect x="260" y="2623.22" width="886.4" height="6.59" fill="url(#c67)"/><rect x="260" y="2629.21" width="886.4" height="6.59" fill="url(#c68)"/><rect x="260" y="2635.2" width="886.4" height="6.59" fill="url(#c69)"/><rect x="260" y="2641.18" width="886.4" height="6.59" fill="url(#c70)"/><rect x="260" y="2647.17" width="886.4" height="6.59" fill="url(#c71)"/><rect x="260" y="2653.16" width="886.4" height="6.59" fill="url(#c72)"/><rect x="260" y="2659.15" width="886.4" height="6.59" fill="url(#c73)"/><rect x="260" y="2665.14" width="886.4" height="6.59" fill="url(#c74)"/><rect x="260" y="2671.12" width="886.4" height="6.59" fill="url(#c75)"/><rect x="260" y="2677.11" width="886.4" height="6.59" fill="url(#c76)"/><rect x="260" y="2683.1" width="886.4" height="6.59" fill="url(#c77)"/><rect x="260" y="2689.09" width="886.4" height="6.59" fill="url(#c78)"/><rect x="260" y="2695.08" width="886.4" height="6.59" fill="url(#c79)"/><rect x="260" y="2701.06" width="886.4" height="6.59" fill="url(#c80)"/><rect x="260" y="2707.05" width="886.4" height="6.59" fill="url(#c81)"/><rect x="260" y="2713.04" width="886.4" height="6.59" fill="url(#c82)"/><rect x="260" y="2719.03" width="886.4" height="6.59" fill="url(#c83)"/><rect x="260" y="2725.02" width="886.4" height="6.59" fill="url(#c84)"/><rect x="260" y="2731" width="886.4" height="6.59" fill="url(#c85)"/><rect x="260" y="2736.99" width="886.4" height="6.59" fill="url(#c86)"/><rect x="260" y="2742.98" width="886.4" height="6.59" fill="url(#c87)"/><rect x="260" y="2748.97" width="886.4" height="6.59" fill="url(#c88)"/><rect x="260" y="2754.96" width="886.4" height="6.59" fill="url(#c89)"/><rect x="260" y="2760.94" width="886.4" height="6.59" fill="url(#c90)"/><rect x="260" y="2766.93" width="886.4" height="6.59" fill="url(#c91)"/><rect x="260" y="2772.92" width="886.4" height="6.59" fill="url(#c92)"/><rect x="260" y="2778.91" width="886.4" height="6.59" fill="url(#c93)"/><rect x="260" y="2784.9" width="886.4" height="6.59" fill="url(#c94)"/><rect x="260" y="2790.88" width="886.4" height="6.59" fill="url(#c95)"/><rect x="260" y="2796.87" width="886.4" height="6.59" fill="url(#c96)"/><rect x="260" y="2802.86" width="886.4" height="6.59" fill="url(#c97)"/><rect x="260" y="2808.85" width="886.4" height="6.59" fill="url(#c98)"/><rect x="260" y="2814.84" width="886.4" height="6.59" fill="url(#c99)"/><rect x="260" y="2820.82" width="886.4" height="6.59" fill="url(#c100)"/><rect x="260" y="2826.81" width="886.4" height="6.59" fill="url(#c101)"/><rect x="260" y="2832.8" width="886.4" height="6.59" fill="url(#c102)"/><rect x="260" y="2838.79" width="886.4" height="6.59" fill="url(#c103)"/><rect x="260" y="2844.78" width="886.4" height="6.59" fill="url(#c104)"/><rect x="260" y="2850.76" width="886.4" height="6.59" fill="url(#c105)"/><rect x="260" y="2856.75" width="886.4" height="6.59" fill="url(#c106)"/><rect x="260" y="2862.74" width="886.4" height="6.59" fill="url(#c107)"/><rect x="260" y="2868.73" width="886.4" height="6.59" fill="url(#c108)"/><rect x="260" y="2874.72" width="886.4" height="6.59" fill="url(#c109)"/><rect x="260" y="2880.7" width="886.4" height="6.59" fill="url(#c110)"/><rect x="260" y="2886.69" width="886.4" height="6.59" fill="url(#c111)"/><rect x="260" y="2892.68" width="886.4" height="6.59" fill="url(#c112)"/><rect x="260" y="2898.67" width="886.4" height="6.59" fill="url(#c113)"/><rect x="260" y="2904.66" width="886.4" height="6.59" fill="url(#c114)"/><rect x="260" y="2910.64" width="886.4" height="6.59" fill="url(#c115)"/><rect x="260" y="2916.63" width="886.4" height="6.59" fill="url(#c116)"/><rect x="260" y="2922.62" width="886.4" height="6.59" fill="url(#c117)"/><rect x="260" y="2928.61" width="886.4" height="6.59" fill="url(#c118)"/><rect x="260" y="2934.6" width="886.4" height="6.59" fill="url(#c119)"/><rect x="260" y="2940.58" width="886.4" height="6.59" fill="url(#c120)"/><rect x="260" y="2946.57" width="886.4" height="6.59" fill="url(#c121)"/><rect x="260" y="2952.56" width="886.4" height="6.59" fill="url(#c122)"/><rect x="260" y="2958.55" width="886.4" height="6.59" fill="url(#c123)"/><rect x="260" y="2964.54" width="886.4" height="6.59" fill="url(#c124)"/><rect x="260" y="2970.52" width="886.4" height="6.59" fill="url(#c125)"/><rect x="260" y="2976.51" width="886.4" height="6.59" fill="url(#c126)"/><rect x="260" y="2982.5" width="886.4" height="6.59" fill="url(#c127)"/><rect x="260" y="2988.49" width="886.4" height="6.59" fill="url(#c128)"/></g></g>
<g fill="none" stroke="#000" stroke-linejoin="round" clip-path="url(#cpc)"><polyline points="413.5,2235 513,2282.5 589,2348 683,2487" stroke-width="6.8"/><polyline points="683,2487 755,2630 811,2766 878,2983" stroke-width="5.4" stroke-linecap="round"/></g>
<path d="M349 160.8v-13M526.08 160.8v-13M703.15 160.8v-13M880.23 160.8v-13M1057.3 160.8v-13M437.54 160.8v-7M614.61 160.8v-7M791.69 160.8v-7M968.76 160.8v-7M260 160.8v-7M1147.1 160.8v-7M260 160.8h-13M260 268.4h-13M260 374.34h-13M260 480.28h-13M260 586.22h-13M260 692.16h-13M260 798.1h-13M260 906.1h-13M260 215.43h-7M260 321.37h-7M260 427.31h-7M260 533.25h-7M260 639.19h-7M260 745.13h-7M260 851.07h-7" stroke="#000" stroke-width="2.6" fill="none"/>
<rect x="260" y="160.8" width="887.1" height="745.3" fill="none" stroke="#000" stroke-width="3"/>
<text transform="translate(13.31 106.31) scale(1.0523 1)" font-size="64.71" fill="#000">(a)</text>
<text transform="translate(438.11 63.65) scale(0.9803 1)" font-size="63.1" fill="#000">Grating Width (nm)</text>
<text transform="translate(302.32 143.63) scale(0.9750 1)" font-size="56.76" fill="#000">100</text>
<text transform="translate(480.09 143.63) scale(0.9750 1)" font-size="56.76" fill="#000">200</text>
<text transform="translate(657.44 143.63) scale(0.9750 1)" font-size="56.76" fill="#000">300</text>
<text transform="translate(835.07 143.63) scale(0.9750 1)" font-size="56.76" fill="#000">400</text>
<text transform="translate(1011.59 143.63) scale(0.9750 1)" font-size="56.76" fill="#000">500</text>
<text transform="translate(187.94 179.74) scale(0.9900 1)" font-size="56.06" fill="#000">50</text>
<text transform="translate(157.14 286.08) scale(0.9900 1)" font-size="56.06" fill="#000">100</text>
<text transform="translate(157.14 392.43) scale(0.9900 1)" font-size="56.06" fill="#000">150</text>
<text transform="translate(157.14 498.77) scale(0.9900 1)" font-size="56.06" fill="#000">200</text>
<text transform="translate(157.14 605.11) scale(0.9900 1)" font-size="56.06" fill="#000">250</text>
<text transform="translate(157.14 711.45) scale(0.9900 1)" font-size="56.06" fill="#000">300</text>
<text transform="translate(157.14 817.8) scale(0.9900 1)" font-size="56.06" fill="#000">350</text>
<text transform="translate(157.14 924.14) scale(0.9900 1)" font-size="56.06" fill="#000">400</text>
<text transform="translate(127.41 791.17) rotate(-90) scale(0.9716 1)" font-size="57.11">Grating Height (nm)</text>
<text transform="translate(367.09 989.74) scale(0.9699 1)" font-size="63.64" font-weight="bold" fill="#000">Perovskite (top) subcell</text>
<rect x="1161.2" y="229.1" width="79.4" height="605.4" fill="url(#cb)"/>
<text transform="translate(1254.64 243.72) scale(0.9909 1)" font-size="43.1" font-weight="bold" fill="#000">16,20</text>
<text transform="translate(1254.67 335.47) scale(0.9767 1)" font-size="43.1" font-weight="bold" fill="#000">17,54</text>
<text transform="translate(1254.64 427.4) scale(0.9909 1)" font-size="43.1" font-weight="bold" fill="#000">18,87</text>
<text transform="translate(1255.73 519.59) scale(0.9747 1)" font-size="43.1" font-weight="bold" fill="#000">20,21</text>
<text transform="translate(1255.73 611.77) scale(0.9747 1)" font-size="43.1" font-weight="bold" fill="#000">21,55</text>
<text transform="translate(1255.73 703.27) scale(0.9767 1)" font-size="43.1" font-weight="bold" fill="#000">22,88</text>
<text transform="translate(1255.72 795.46) scale(0.9807 1)" font-size="43.1" font-weight="bold" fill="#000">24,22</text>
<text transform="translate(1255.72 849.12) scale(0.9807 1)" font-size="43.1" font-weight="bold" fill="#000">25,00</text>
<path d="M349.3 1207.2v-13M526.3 1207.2v-13M703.3 1207.2v-13M880.3 1207.2v-13M1057.3 1207.2v-13M437.8 1207.2v-7M614.8 1207.2v-7M791.8 1207.2v-7M968.8 1207.2v-7M259.8 1207.2v-7M1147.1 1207.2v-7M259.8 1207.2h-13M259.8 1315.9h-13M259.8 1421.9h-13M259.8 1527.9h-13M259.8 1633.9h-13M259.8 1739.9h-13M259.8 1845.9h-13M259.8 1954.3h-13M259.8 1262.9h-7M259.8 1368.9h-7M259.8 1474.9h-7M259.8 1580.9h-7M259.8 1686.9h-7M259.8 1792.9h-7M259.8 1898.9h-7" stroke="#000" stroke-width="2.6" fill="none"/>
<rect x="259.8" y="1207.2" width="887.3" height="747.1" fill="none" stroke="#000" stroke-width="3"/>
<text transform="translate(13.34 1119.66) scale(1.0488 1)" font-size="64.49" fill="#000">(b)</text>
<text transform="translate(450.52 1122.39) scale(0.9804 1)" font-size="62.89" fill="#000">Grating Width (nm)</text>
<text transform="translate(300.45 1194.74) scale(1.0300 1)" font-size="56.2" fill="#000">100</text>
<text transform="translate(478.18 1194.74) scale(1.0300 1)" font-size="56.2" fill="#000">200</text>
<text transform="translate(655.47 1194.74) scale(1.0300 1)" font-size="56.2" fill="#000">300</text>
<text transform="translate(833.05 1194.74) scale(1.0300 1)" font-size="56.2" fill="#000">400</text>
<text transform="translate(1009.47 1194.74) scale(1.0300 1)" font-size="56.2" fill="#000">500</text>
<text transform="translate(187.64 1227.44) scale(1.0000 1)" font-size="56.34" fill="#000">50</text>
<text transform="translate(156.37 1333.69) scale(1.0000 1)" font-size="56.34" fill="#000">100</text>
<text transform="translate(156.37 1439.95) scale(1.0000 1)" font-size="56.34" fill="#000">150</text>
<text transform="translate(156.37 1546.21) scale(1.0000 1)" font-size="56.34" fill="#000">200</text>
<text transform="translate(156.37 1652.47) scale(1.0000 1)" font-size="56.34" fill="#000">250</text>
<text transform="translate(156.37 1758.72) scale(1.0000 1)" font-size="56.34" fill="#000">300</text>
<text transform="translate(156.37 1864.98) scale(1.0000 1)" font-size="56.34" fill="#000">350</text>
<text transform="translate(156.37 1971.24) scale(1.0000 1)" font-size="56.34" fill="#000">400</text>
<text transform="translate(137.99 1820.39) rotate(-90) scale(0.9925 1)" font-size="56.26">Grating Height (nm)</text>
<text transform="translate(359.35 2037.21) scale(0.9624 1)" font-size="63.74" font-weight="bold" fill="#000">c-Si (bottom) subcell</text>
<rect x="1161.1" y="1277" width="79.6" height="605.3" fill="url(#cb)"/>
<text transform="translate(1254.96 1292.74) scale(0.9257 1)" font-size="45.77" font-weight="bold" fill="#000">16,20</text>
<text transform="translate(1254.96 1368.4) scale(0.9257 1)" font-size="45.77" font-weight="bold" fill="#000">17,30</text>
<text transform="translate(1254.96 1444.07) scale(0.9257 1)" font-size="45.77" font-weight="bold" fill="#000">18,40</text>
<text transform="translate(1254.96 1519.73) scale(0.9257 1)" font-size="45.77" font-weight="bold" fill="#000">19,50</text>
<text transform="translate(1256.04 1596.08) scale(0.9106 1)" font-size="45.77" font-weight="bold" fill="#000">20,61</text>
<text transform="translate(1256.04 1671.74) scale(0.9106 1)" font-size="45.77" font-weight="bold" fill="#000">21,71</text>
<text transform="translate(1256.04 1747.41) scale(0.9106 1)" font-size="45.77" font-weight="bold" fill="#000">22,81</text>
<text transform="translate(1256.04 1823.07) scale(0.9106 1)" font-size="45.77" font-weight="bold" fill="#000">23,91</text>
<text transform="translate(1256.03 1898.04) scale(0.9162 1)" font-size="45.77" font-weight="bold" fill="#000">25,00</text>
<path d="M351 2234v-13M527.7 2234v-13M704.4 2234v-13M881.1 2234v-13M1057.8 2234v-13M439.35 2234v-7M616.05 2234v-7M792.75 2234v-7M969.45 2234v-7M260 2234v-7M1146.4 2234v-7M260 2234h-13M260 2339.5h-13M260 2446.62h-13M260 2553.74h-13M260 2660.86h-13M260 2767.98h-13M260 2875.1h-13M260 2982.5h-13M260 2285.94h-7M260 2393.06h-7M260 2500.18h-7M260 2607.3h-7M260 2714.42h-7M260 2821.54h-7M260 2928.66h-7" stroke="#000" stroke-width="2.6" fill="none"/>
<rect x="260" y="2234" width="886.4" height="748.5" fill="none" stroke="#000" stroke-width="3"/>
<text transform="translate(13.3 2134.84) scale(1.0737 1)" font-size="63.64" fill="#000">(c)</text>
<text transform="translate(490.2 2139.47) scale(0.8898 1)" font-size="62.99" fill="#000">Grating Width (nm)</text>
<text transform="translate(307.79 2216.04) scale(0.9100 1)" font-size="56.34" fill="#000">100</text>
<text transform="translate(485.14 2216.04) scale(0.9100 1)" font-size="56.34" fill="#000">200</text>
<text transform="translate(662.09 2216.04) scale(0.9100 1)" font-size="56.34" fill="#000">300</text>
<text transform="translate(839.3 2216.04) scale(0.9100 1)" font-size="56.34" fill="#000">400</text>
<text transform="translate(1015.49 2216.04) scale(0.9100 1)" font-size="56.34" fill="#000">500</text>
<text transform="translate(194.06 2253.04) scale(0.9150 1)" font-size="56.06" fill="#000">50</text>
<text transform="translate(165.59 2359.08) scale(0.9150 1)" font-size="56.06" fill="#000">100</text>
<text transform="translate(165.59 2465.13) scale(0.9150 1)" font-size="56.06" fill="#000">150</text>
<text transform="translate(165.59 2571.17) scale(0.9150 1)" font-size="56.06" fill="#000">200</text>
<text transform="translate(165.59 2677.21) scale(0.9150 1)" font-size="56.06" fill="#000">250</text>
<text transform="translate(165.59 2783.25) scale(0.9150 1)" font-size="56.06" fill="#000">300</text>
<text transform="translate(165.59 2889.3) scale(0.9150 1)" font-size="56.06" fill="#000">350</text>
<text transform="translate(165.59 2995.34) scale(0.9150 1)" font-size="56.06" fill="#000">400</text>
<text transform="translate(139.22 2824.13) rotate(-90) scale(1.1226 1)" font-size="50.37">Grating Heigth (nm)</text>
<text transform="translate(330.69 3076.38) scale(0.8932 1)" font-size="62.18" font-weight="bold" fill="#000">Difference between subcells</text>
<rect x="1165.4" y="2329.2" width="78.9" height="600.8" fill="url(#cb)"/>
<text transform="translate(1256.13 2343.52) scale(0.8630 1)" font-size="48.45" font-weight="bold" fill="#000">-7,000</text>
<text transform="translate(1256.14 2508.13) scale(0.8578 1)" font-size="48.45" font-weight="bold" fill="#000">-1,600</text>
<text transform="translate(1256.76 2670.35) scale(0.8595 1)" font-size="48.45" font-weight="bold" fill="#000">3,800</text>
<text transform="translate(1256.34 2832.56) scale(0.8630 1)" font-size="48.45" font-weight="bold" fill="#000">9,200</text>
<text transform="translate(1256.47 2949.12) scale(0.8686 1)" font-size="48.45" font-weight="bold" fill="#000">13,00</text>
<text transform="translate(1169.28 2558.59) scale(0.8958 1)" font-size="50.7" font-weight="bold" fill="#001a10">0.0</text>
<text transform="translate(1391.3 377.7) rotate(90) scale(0.9511 1.0)" xml:space="preserve"><tspan font-size="56.2" dy="0">J</tspan><tspan font-size="41.03" dy="11.24">SC</tspan><tspan font-size="56.2" dy="-11.24">(</tspan><tspan font-size="56.2" dy="0">mA/cm</tspan><tspan font-size="42.15" dy="-17.98">2</tspan><tspan font-size="56.2" dy="17.98">)</tspan></text>
<text transform="translate(1391 1421.49) rotate(90) scale(0.9647 1.0)" xml:space="preserve"><tspan font-size="56.2" dy="0">J</tspan><tspan font-size="41.03" dy="11.24">SC</tspan><tspan font-size="48" dy="-11.24">[</tspan><tspan font-size="56.2" dy="0">mA/cm</tspan><tspan font-size="42.15" dy="-17.98">2</tspan><tspan font-size="48" dy="17.98">]</tspan></text>
<text transform="translate(1392.4 2280.85) rotate(90) scale(1.0441 0.935)" xml:space="preserve"><tspan font-size="56.2" dy="0">difference of </tspan><tspan font-size="56.2" dy="0">J</tspan><tspan font-size="41.03" dy="11.24">SC</tspan><tspan font-size="48" dy="-11.24">[</tspan><tspan font-size="56.2" dy="0">mA/cm</tspan><tspan font-size="42.15" dy="-17.98">2</tspan><tspan font-size="48" dy="17.98">]</tspan></text>
</svg>
</body></html>
